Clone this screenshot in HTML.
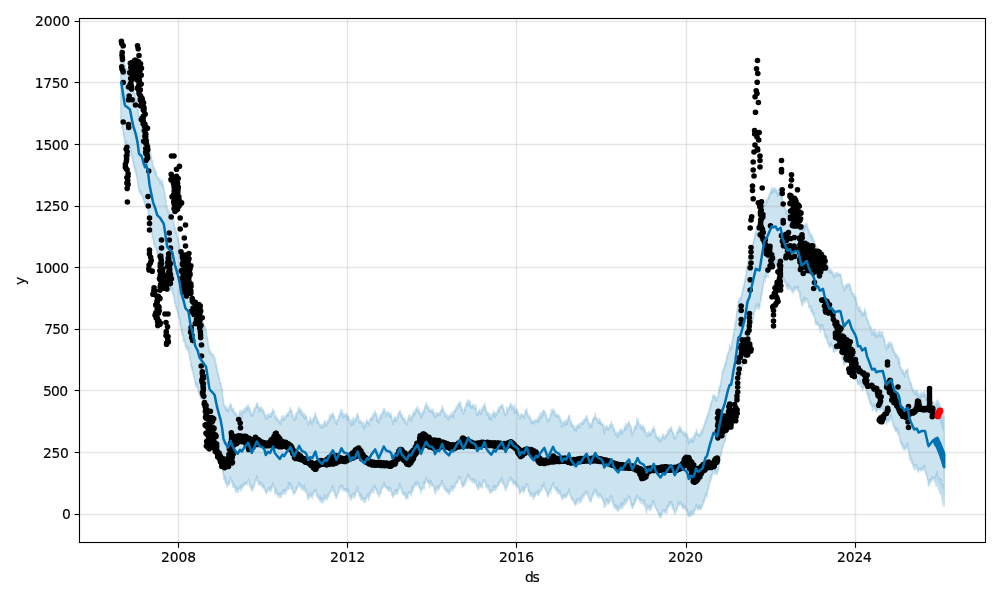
<!DOCTYPE html>
<html><head><meta charset="utf-8"><title>forecast</title>
<style>
html,body{margin:0;padding:0;background:#fff;}
svg{display:block}
text{font-family:"DejaVu Sans","Liberation Sans",sans-serif;font-size:13.89px;fill:#000;stroke:#000;stroke-width:0.15px}
.t{letter-spacing:-0.45px}
.tx{letter-spacing:-0.2px}
.ds{letter-spacing:-1px}
</style></head>
<body>
<svg width="1000" height="600" viewBox="0 0 1000 600">
<rect width="1000" height="600" fill="#fff"/>
<defs><clipPath id="c"><rect x="79.5" y="18.5" width="906.0" height="524.0"/></clipPath></defs>
<g clip-path="url(#c)">
<path d="M120.80,44.7 120.97,45.5 121.13,45.1 121.30,44.6 121.47,46.0 121.64,46.3 121.80,48.9 121.97,52.0 122.14,50.3 122.30,51.3 122.47,54.0 122.64,54.9 122.80,55.7 122.97,55.2 123.14,57.7 123.31,59.9 123.47,58.0 123.64,60.3 123.81,59.1 123.97,61.0 124.14,61.2 124.31,64.6 124.47,64.1 124.64,67.4 124.81,68.2 124.98,68.4 125.14,65.0 125.31,68.1 125.48,69.0 125.64,69.4 125.81,67.0 125.98,68.7 126.14,68.1 126.31,68.5 126.48,71.4 126.65,68.7 126.81,70.0 126.98,71.5 127.15,69.4 127.31,70.2 127.48,70.7 127.65,70.8 127.81,69.0 127.98,71.0 128.15,73.1 128.32,68.9 128.48,72.6 128.65,71.6 128.82,70.6 128.98,74.7 129.15,73.0 129.32,70.3 129.48,72.4 129.65,73.3 129.82,72.4 129.99,73.9 130.15,73.5 130.32,75.5 130.49,77.5 130.65,75.2 130.82,77.5 130.99,77.4 131.15,79.2 131.32,78.1 131.49,79.9 131.66,81.3 131.82,83.8 131.99,85.0 132.16,82.2 132.32,83.8 132.49,86.8 132.66,83.6 132.82,86.6 132.99,87.8 133.16,90.5 133.33,90.3 133.49,89.4 133.66,89.9 133.83,90.6 133.99,93.8 134.16,91.4 134.33,92.2 134.49,93.7 134.66,93.5 134.83,93.9 135.00,93.1 135.16,95.3 135.33,95.2 135.50,98.2 135.66,97.9 135.83,97.5 136.00,99.1 136.16,98.4 136.33,101.3 136.50,100.6 136.67,102.3 136.83,100.3 137.00,103.6 137.17,101.4 137.33,101.7 137.50,105.1 137.67,105.3 137.83,108.2 138.00,112.6 138.17,109.3 138.34,110.9 138.50,113.5 138.67,115.2 138.84,115.5 139.00,116.2 139.17,117.9 139.34,117.9 139.50,115.9 139.67,117.7 139.84,118.0 140.01,116.4 140.17,118.5 140.34,116.9 140.51,119.7 140.67,118.6 140.84,118.5 141.01,117.6 141.17,118.4 141.34,116.0 141.51,117.8 141.68,120.4 141.84,117.1 142.01,122.0 142.18,118.6 142.34,122.8 142.51,120.8 142.68,123.7 142.84,123.6 143.01,122.1 143.18,127.1 143.35,127.9 143.51,126.1 143.68,126.2 143.85,126.9 144.01,126.2 144.18,129.7 144.35,127.8 144.51,129.0 144.68,128.3 144.85,129.1 145.02,128.5 145.18,131.9 145.35,129.5 145.52,130.8 145.68,129.0 145.85,127.5 146.02,127.7 146.18,127.0 146.35,128.5 146.52,128.5 146.69,129.3 146.85,128.3 147.02,129.8 147.19,134.2 147.35,131.4 147.52,131.5 147.69,134.2 147.85,136.5 148.02,133.0 148.19,136.4 148.36,137.2 148.52,136.9 148.69,142.1 148.86,142.4 149.02,143.9 149.19,144.1 149.36,147.4 149.52,147.2 149.69,148.7 149.86,148.1 150.03,148.8 150.19,153.4 150.36,151.5 150.53,153.5 150.69,153.8 150.86,154.0 151.03,154.7 151.19,157.2 151.36,156.7 151.53,157.7 151.70,158.8 151.86,161.3 152.03,161.4 152.20,161.7 152.36,161.1 152.53,160.7 152.70,165.2 152.86,166.2 153.03,165.2 153.20,166.7 153.37,167.5 153.53,168.1 153.70,168.6 153.87,167.0 154.03,170.5 154.20,166.8 154.37,170.4 154.53,170.3 154.70,171.3 154.87,173.3 155.04,173.2 155.20,169.7 155.37,169.3 155.54,173.6 155.70,171.4 155.87,173.6 156.04,175.4 156.20,172.3 156.37,172.2 156.54,176.4 156.71,176.6 156.87,176.8 157.04,177.8 157.21,177.0 157.37,176.2 157.54,178.4 157.71,177.3 157.87,176.5 158.04,179.9 158.21,179.2 158.38,180.0 158.54,178.1 158.71,178.8 158.88,178.4 159.04,178.7 159.21,180.5 159.38,179.2 159.54,181.1 159.71,181.2 159.88,183.9 160.05,179.0 160.21,182.7 160.38,181.5 160.55,181.8 160.71,179.9 160.88,181.7 161.05,183.8 161.21,182.8 161.38,183.3 161.55,183.0 161.72,185.5 161.88,184.0 162.05,181.0 162.22,183.5 162.38,181.8 162.55,180.2 162.72,184.5 162.88,187.6 163.05,185.9 163.22,184.4 163.39,185.0 163.55,188.4 163.72,187.3 163.89,188.1 164.05,188.9 164.22,190.0 164.39,192.1 164.55,192.7 164.72,193.4 164.89,192.6 165.06,196.1 165.22,195.4 165.39,199.2 165.56,196.8 165.72,199.7 165.89,201.0 166.06,200.2 166.22,205.9 166.39,206.6 166.56,204.9 166.73,207.9 166.89,208.4 167.06,205.1 167.23,210.4 167.39,210.3 167.56,210.7 167.73,209.1 167.89,210.5 168.06,210.8 168.23,213.0 168.40,211.9 168.56,211.6 168.73,214.0 168.90,211.1 169.06,211.5 169.23,209.5 169.40,214.8 169.56,214.0 169.73,214.1 169.90,213.9 170.07,213.3 170.23,213.6 170.40,213.1 170.57,213.3 170.73,213.9 170.90,216.3 171.07,215.0 171.23,214.3 171.40,213.7 171.57,213.8 171.74,217.3 171.90,215.8 172.07,215.3 172.24,214.9 172.40,214.2 172.57,216.7 172.74,218.9 172.90,217.9 173.07,219.0 173.24,219.9 173.41,221.2 173.57,219.5 173.74,222.3 173.91,222.1 174.07,225.5 174.24,223.8 174.41,226.6 174.57,228.8 174.74,226.8 174.91,227.1 175.08,228.9 175.24,229.2 175.41,228.2 175.58,231.0 175.74,233.9 175.91,231.1 176.08,231.7 176.24,231.0 176.41,233.7 176.58,231.9 176.75,232.7 176.91,236.9 177.08,234.2 177.25,237.8 177.41,239.1 177.58,237.8 177.75,238.8 177.91,241.5 178.08,238.9 178.25,238.9 178.42,238.5 178.58,241.3 178.75,244.3 178.92,244.2 179.08,242.1 179.25,243.0 179.42,244.3 179.58,246.2 179.75,246.2 179.92,247.8 180.09,249.2 180.25,249.5 180.42,251.1 180.59,252.7 180.75,253.4 180.92,255.5 181.09,258.8 181.25,257.8 181.42,257.3 181.59,254.9 181.76,258.4 181.92,255.5 182.09,256.9 182.26,260.9 182.42,261.3 182.59,260.6 182.76,258.8 182.92,261.4 183.09,261.6 183.26,264.0 183.43,266.8 183.59,264.3 183.76,263.5 183.93,263.6 184.09,265.9 184.26,266.4 184.43,265.6 184.59,268.2 184.76,266.9 184.93,271.0 185.10,271.6 185.26,272.3 185.43,270.6 185.60,272.3 185.76,271.5 185.93,271.3 186.10,271.6 186.26,270.3 186.43,270.3 186.60,273.8 186.77,272.5 186.93,273.3 187.10,274.7 187.27,270.8 187.43,272.4 187.60,274.0 187.77,274.5 187.93,273.6 188.10,275.9 188.27,274.8 188.44,272.9 188.60,274.1 188.77,277.8 188.94,278.4 189.10,276.0 189.27,281.9 189.44,281.9 189.60,284.1 189.77,282.6 189.94,283.8 190.11,283.6 190.27,290.2 190.44,287.0 190.61,290.4 190.77,287.7 190.94,289.7 191.11,287.6 191.27,290.2 191.44,293.0 191.61,290.3 191.78,294.5 191.94,294.1 192.11,292.8 192.28,294.3 192.44,295.0 192.61,296.3 192.78,296.2 192.94,296.4 193.11,298.0 193.28,297.7 193.45,298.2 193.61,300.9 193.78,303.1 193.95,300.3 194.11,303.4 194.28,303.3 194.45,303.6 194.61,307.2 194.78,306.0 194.95,309.9 195.12,307.3 195.28,309.8 195.45,309.2 195.62,308.7 195.78,311.1 195.95,310.3 196.12,311.8 196.28,311.1 196.45,309.9 196.62,311.7 196.79,312.3 196.95,314.0 197.12,311.5 197.29,313.2 197.45,311.0 197.62,314.8 197.79,312.4 197.95,312.0 198.12,315.2 198.29,317.6 198.46,314.3 198.62,315.7 198.79,316.8 198.96,316.9 199.12,319.8 199.29,318.7 199.46,319.5 199.62,321.8 199.79,320.0 199.96,322.0 200.13,320.2 200.29,320.1 200.46,319.4 200.63,325.2 200.79,322.1 200.96,323.2 201.13,323.1 201.29,323.6 201.46,323.7 201.63,326.7 201.80,322.5 201.96,322.0 202.13,323.0 202.30,322.7 202.46,326.0 202.63,326.4 202.80,323.9 202.96,323.5 203.13,325.3 203.30,328.2 203.47,322.1 203.63,327.3 203.80,325.2 203.97,328.6 204.13,325.6 204.30,327.0 204.47,325.5 204.63,326.5 204.80,330.3 204.97,329.6 205.14,328.0 205.30,327.6 205.47,326.3 205.64,328.8 205.80,329.5 205.97,329.7 206.14,330.5 206.30,329.9 206.47,332.4 206.64,333.5 206.81,336.6 206.97,338.6 207.14,336.7 207.31,336.8 207.47,339.0 207.64,339.3 207.81,340.1 207.97,342.3 208.14,341.9 208.31,345.5 208.48,345.5 208.64,347.1 208.81,347.6 208.98,347.9 209.14,348.6 209.31,350.8 209.48,351.4 209.64,352.9 209.81,352.7 209.98,350.9 210.15,353.2 210.31,351.3 210.48,352.5 210.65,353.2 210.81,350.7 210.98,354.1 211.15,354.4 211.31,354.1 211.48,353.9 211.65,354.2 211.82,353.4 211.98,354.7 212.15,354.4 212.32,355.6 212.48,353.9 212.65,356.2 212.82,356.3 212.98,356.0 213.15,355.8 213.32,357.5 213.49,354.3 213.65,357.7 213.82,357.6 213.99,357.8 214.15,358.2 214.32,356.8 214.49,357.6 214.65,359.2 214.82,359.8 214.99,360.3 215.16,358.6 215.32,362.5 215.49,364.3 215.66,365.0 215.82,364.7 215.99,362.8 216.16,367.3 216.32,366.5 216.49,363.7 216.66,368.9 216.83,366.9 216.99,368.0 217.16,369.8 217.33,373.2 217.49,371.3 217.66,372.9 217.83,375.7 217.99,376.1 218.16,374.1 218.33,374.5 218.50,373.6 218.66,375.0 218.83,377.3 219.00,377.9 219.16,378.0 219.33,380.0 219.50,377.9 219.66,379.6 219.83,381.4 220.00,381.7 220.17,383.1 220.33,382.7 220.50,382.3 220.67,384.2 220.83,383.0 221.00,382.9 221.17,387.1 221.33,387.0 221.50,388.5 221.67,386.3 221.84,389.2 222.00,389.7 222.17,390.3 222.34,389.5 222.50,393.7 222.67,396.9 222.84,397.5 223.00,397.3 223.17,399.5 223.34,402.0 223.51,398.1 223.67,402.4 223.84,403.8 224.01,404.4 224.17,406.3 224.34,405.8 224.51,405.0 224.67,405.5 224.84,406.7 225.01,405.3 225.18,406.5 225.34,408.0 225.51,409.6 225.68,406.4 225.84,406.8 226.01,407.5 226.18,409.5 226.34,407.8 226.51,410.4 226.68,407.1 226.85,408.7 227.01,409.0 227.18,410.8 227.35,411.6 227.51,408.1 227.68,409.3 227.85,411.2 228.01,409.6 228.18,408.1 228.35,411.6 228.52,410.4 228.68,410.0 228.85,408.1 229.02,409.9 229.18,407.6 229.35,409.2 229.52,405.8 229.68,405.5 229.85,406.6 230.02,404.9 230.19,406.5 230.35,405.5 230.52,403.3 230.69,404.4 230.85,403.8 231.02,406.2 231.19,404.5 231.35,405.4 231.52,408.4 231.69,410.6 231.86,410.8 232.02,407.6 232.19,408.5 232.36,411.1 232.52,409.2 232.69,408.5 232.86,410.4 233.02,411.1 233.19,409.5 233.36,408.5 233.53,409.1 233.69,412.5 233.86,410.6 234.03,411.8 234.19,412.6 234.36,413.5 234.53,412.3 234.69,413.9 234.86,412.0 235.03,413.0 235.20,412.3 235.36,415.7 235.53,414.2 235.70,413.4 235.86,414.2 236.03,414.6 236.20,416.2 236.36,413.0 236.53,414.1 236.70,415.3 236.87,419.9 237.03,417.8 237.20,416.4 237.37,417.9 237.53,420.1 237.70,416.4 237.87,416.0 238.03,418.1 238.20,416.7 238.37,416.7 238.54,414.7 238.70,418.1 238.87,417.5 239.04,415.5 239.20,415.4 239.37,411.0 239.54,414.8 239.70,413.2 239.87,413.9 240.04,414.0 240.21,412.5 240.37,410.7 240.54,413.9 240.71,412.5 240.87,413.3 241.04,413.0 241.21,413.6 241.37,410.8 241.54,416.3 241.71,415.0 241.88,416.2 242.04,417.3 242.21,414.1 242.38,411.1 242.54,412.2 242.71,411.4 242.88,412.2 243.04,412.8 243.21,409.5 243.38,412.7 243.55,409.7 243.71,412.1 243.88,411.2 244.05,410.7 244.21,410.8 244.38,409.8 244.55,409.4 244.71,407.6 244.88,409.9 245.05,412.5 245.22,412.5 245.38,411.3 245.55,410.2 245.72,408.0 245.88,410.9 246.05,408.5 246.22,408.3 246.38,407.8 246.55,408.1 246.72,407.2 246.89,407.5 247.05,405.8 247.22,406.7 247.39,410.5 247.55,406.7 247.72,406.3 247.89,407.2 248.05,407.3 248.22,404.4 248.39,405.9 248.56,408.1 248.72,407.6 248.89,407.9 249.06,410.5 249.22,407.7 249.39,409.3 249.56,408.9 249.72,412.4 249.89,407.7 250.06,410.1 250.23,410.8 250.39,413.1 250.56,413.5 250.73,415.2 250.89,411.2 251.06,415.2 251.23,414.1 251.39,414.0 251.56,416.3 251.73,414.5 251.90,412.8 252.06,414.9 252.23,412.9 252.40,413.8 252.56,414.9 252.73,414.4 252.90,416.0 253.06,412.9 253.23,410.5 253.40,411.3 253.57,410.7 253.73,409.8 253.90,411.9 254.07,409.9 254.23,407.5 254.40,411.2 254.57,409.6 254.73,409.9 254.90,409.2 255.07,409.6 255.24,408.3 255.40,409.8 255.57,408.2 255.74,407.7 255.90,407.4 256.07,404.2 256.24,405.8 256.40,405.3 256.57,405.6 256.74,402.9 256.91,407.0 257.07,405.0 257.24,403.4 257.41,403.0 257.57,405.5 257.74,406.1 257.91,405.5 258.07,407.1 258.24,406.3 258.41,408.3 258.58,406.7 258.74,408.0 258.91,409.8 259.08,412.5 259.24,407.4 259.41,408.5 259.58,408.0 259.74,410.6 259.91,407.7 260.08,408.8 260.25,409.6 260.41,408.2 260.58,408.3 260.75,409.1 260.91,406.7 261.08,407.8 261.25,409.4 261.41,410.3 261.58,409.9 261.75,407.6 261.92,409.6 262.08,411.5 262.25,411.2 262.42,410.4 262.58,409.2 262.75,411.5 262.92,409.9 263.08,409.2 263.25,410.0 263.42,413.6 263.59,411.9 263.75,413.6 263.92,411.3 264.09,413.7 264.25,411.6 264.42,412.5 264.59,417.0 264.75,415.1 264.92,413.9 265.09,415.2 265.26,416.5 265.42,418.5 265.59,416.6 265.76,415.4 265.92,417.6 266.09,417.8 266.26,417.7 266.42,419.2 266.59,417.4 266.76,417.9 266.93,414.8 267.09,417.5 267.26,419.1 267.43,416.9 267.59,415.9 267.76,415.5 267.93,417.7 268.09,413.5 268.26,414.8 268.43,415.8 268.60,416.3 268.76,414.7 268.93,415.9 269.10,415.2 269.26,415.9 269.43,415.6 269.60,414.2 269.76,416.0 269.93,417.5 270.10,414.7 270.27,415.4 270.43,416.4 270.60,413.4 270.77,414.9 270.93,412.7 271.10,415.6 271.27,417.0 271.43,416.2 271.60,412.5 271.77,413.6 271.94,412.3 272.10,411.9 272.27,413.7 272.44,409.0 272.60,412.2 272.77,410.2 272.94,412.0 273.10,410.0 273.27,409.3 273.44,411.4 273.61,412.7 273.77,412.2 273.94,413.5 274.11,412.6 274.27,410.7 274.44,415.9 274.61,416.2 274.77,416.0 274.94,416.4 275.11,418.1 275.28,416.1 275.44,415.9 275.61,416.9 275.78,419.2 275.94,415.5 276.11,419.6 276.28,417.1 276.44,416.6 276.61,420.3 276.78,418.5 276.95,416.9 277.11,418.5 277.28,420.6 277.45,421.2 277.61,419.0 277.78,420.4 277.95,421.1 278.11,419.2 278.28,420.9 278.45,420.5 278.62,420.0 278.78,420.2 278.95,421.3 279.12,421.4 279.28,420.7 279.45,421.1 279.62,423.6 279.78,422.5 279.95,423.4 280.12,423.6 280.29,422.4 280.45,424.6 280.62,419.6 280.79,421.8 280.95,419.8 281.12,422.8 281.29,422.3 281.45,416.5 281.62,417.7 281.79,419.8 281.96,419.7 282.12,419.4 282.29,417.9 282.46,418.6 282.62,419.0 282.79,418.1 282.96,419.9 283.12,415.1 283.29,419.6 283.46,417.3 283.63,420.4 283.79,418.8 283.96,418.0 284.13,419.9 284.29,417.7 284.46,417.4 284.63,416.2 284.79,418.2 284.96,418.7 285.13,419.2 285.30,417.2 285.46,418.7 285.63,416.9 285.80,416.5 285.96,417.2 286.13,417.6 286.30,415.3 286.46,415.1 286.63,415.0 286.80,415.1 286.97,413.3 287.13,416.0 287.30,413.7 287.47,414.8 287.63,412.6 287.80,414.2 287.97,414.1 288.13,412.6 288.30,416.1 288.47,413.4 288.64,415.3 288.80,413.9 288.97,411.3 289.14,411.5 289.30,412.5 289.47,411.7 289.64,411.5 289.80,410.8 289.97,408.3 290.14,410.5 290.31,407.3 290.47,411.0 290.64,409.3 290.81,409.8 290.97,411.0 291.14,412.2 291.31,410.1 291.47,410.1 291.64,411.5 291.81,410.5 291.98,412.6 292.14,416.9 292.31,413.4 292.48,416.4 292.64,413.8 292.81,416.8 292.98,416.3 293.14,417.1 293.31,418.5 293.48,420.8 293.65,418.9 293.81,419.2 293.98,418.0 294.15,420.6 294.31,419.0 294.48,420.2 294.65,418.5 294.81,420.9 294.98,414.9 295.15,417.1 295.32,418.5 295.48,416.3 295.65,415.3 295.82,415.7 295.98,413.7 296.15,415.6 296.32,418.7 296.48,416.4 296.65,412.7 296.82,412.7 296.99,413.0 297.15,414.8 297.32,411.7 297.49,411.6 297.65,413.6 297.82,413.2 297.99,411.0 298.15,409.5 298.32,408.6 298.49,409.5 298.66,406.8 298.82,411.0 298.99,408.6 299.16,409.9 299.32,412.1 299.49,411.4 299.66,408.3 299.82,411.6 299.99,412.4 300.16,409.9 300.33,410.0 300.49,411.6 300.66,409.6 300.83,414.5 300.99,409.0 301.16,411.2 301.33,412.8 301.49,413.1 301.66,414.0 301.83,414.4 302.00,413.7 302.16,415.9 302.33,411.0 302.50,414.3 302.66,413.3 302.83,414.7 303.00,414.9 303.16,413.3 303.33,413.8 303.50,416.1 303.67,415.5 303.83,414.0 304.00,418.1 304.17,418.6 304.33,413.0 304.50,415.8 304.67,419.2 304.83,416.7 305.00,415.9 305.17,415.4 305.34,415.1 305.50,415.8 305.67,415.5 305.84,417.7 306.00,416.2 306.17,416.4 306.34,415.5 306.50,417.5 306.67,416.4 306.84,418.0 307.01,420.5 307.17,420.2 307.34,421.1 307.51,421.6 307.67,421.8 307.84,422.2 308.01,422.7 308.17,424.5 308.34,421.5 308.51,424.9 308.68,422.7 308.84,421.3 309.01,421.4 309.18,420.9 309.34,421.9 309.51,420.3 309.68,422.8 309.84,419.7 310.01,417.2 310.18,419.3 310.35,417.1 310.51,420.2 310.68,421.9 310.85,421.4 311.01,418.6 311.18,419.5 311.35,423.5 311.51,421.4 311.68,421.0 311.85,422.7 312.02,424.9 312.18,423.3 312.35,421.6 312.52,421.6 312.68,421.6 312.85,419.4 313.02,418.4 313.18,419.7 313.35,417.8 313.52,418.8 313.69,418.6 313.85,421.6 314.02,416.5 314.19,417.2 314.35,416.8 314.52,417.3 314.69,417.8 314.85,415.2 315.02,414.3 315.19,412.7 315.36,413.4 315.52,416.1 315.69,416.0 315.86,415.0 316.02,416.5 316.19,417.8 316.36,419.1 316.52,418.0 316.69,419.2 316.86,417.4 317.03,419.0 317.19,423.8 317.36,418.4 317.53,421.4 317.69,422.5 317.86,421.8 318.03,421.4 318.19,422.7 318.36,423.0 318.53,423.2 318.70,420.7 318.86,423.5 319.03,422.7 319.20,423.4 319.36,424.7 319.53,425.5 319.70,426.0 319.86,424.1 320.03,426.4 320.20,427.0 320.37,427.1 320.53,427.6 320.70,425.5 320.87,425.6 321.03,427.3 321.20,424.2 321.37,426.7 321.53,425.8 321.70,426.2 321.87,424.3 322.04,425.8 322.20,427.1 322.37,428.2 322.54,428.0 322.70,426.1 322.87,425.7 323.04,424.4 323.20,426.0 323.37,424.7 323.54,425.7 323.71,427.1 323.87,424.1 324.04,421.6 324.21,422.3 324.37,421.1 324.54,421.2 324.71,424.7 324.87,423.3 325.04,420.8 325.21,424.2 325.38,425.3 325.54,423.0 325.71,422.7 325.88,423.3 326.04,424.4 326.21,425.1 326.38,426.1 326.54,425.8 326.71,425.5 326.88,425.5 327.05,424.2 327.21,420.6 327.38,422.4 327.55,422.8 327.71,421.5 327.88,423.1 328.05,420.9 328.21,419.8 328.38,423.0 328.55,421.5 328.72,420.5 328.88,421.3 329.05,421.2 329.22,419.8 329.38,415.3 329.55,417.7 329.72,417.8 329.88,416.8 330.05,418.3 330.22,419.5 330.39,416.7 330.55,415.5 330.72,419.9 330.89,416.0 331.05,414.5 331.22,416.5 331.39,416.5 331.55,414.5 331.72,416.5 331.89,414.3 332.06,413.4 332.22,414.8 332.39,415.4 332.56,413.0 332.72,414.2 332.89,413.3 333.06,418.1 333.22,413.3 333.39,416.8 333.56,415.1 333.73,415.4 333.89,417.1 334.06,417.8 334.23,418.8 334.39,417.8 334.56,416.8 334.73,417.3 334.89,419.4 335.06,420.0 335.23,421.7 335.40,420.7 335.56,422.2 335.73,423.3 335.90,421.8 336.06,419.8 336.23,420.7 336.40,420.8 336.56,425.0 336.73,421.0 336.90,423.8 337.07,422.4 337.23,423.7 337.40,422.3 337.57,420.2 337.73,419.7 337.90,419.7 338.07,419.5 338.23,418.0 338.40,418.4 338.57,420.5 338.74,415.1 338.90,417.7 339.07,415.6 339.24,416.8 339.40,417.4 339.57,415.7 339.74,416.6 339.90,412.7 340.07,416.3 340.24,413.4 340.41,414.9 340.57,413.8 340.74,409.3 340.91,411.7 341.07,412.8 341.24,414.4 341.41,412.1 341.57,411.9 341.74,409.8 341.91,414.3 342.08,415.2 342.24,412.9 342.41,412.8 342.58,411.0 342.74,415.1 342.91,418.1 343.08,415.4 343.24,416.4 343.41,415.6 343.58,413.5 343.75,417.3 343.91,413.7 344.08,415.4 344.25,416.2 344.41,417.2 344.58,416.5 344.75,416.5 344.91,414.8 345.08,414.1 345.25,416.2 345.42,415.1 345.58,414.2 345.75,414.3 345.92,415.5 346.08,413.6 346.25,414.4 346.42,414.0 346.58,416.8 346.75,417.1 346.92,419.6 347.09,414.4 347.25,415.7 347.42,418.1 347.59,416.6 347.75,416.6 347.92,419.9 348.09,417.0 348.25,416.0 348.42,416.0 348.59,418.7 348.76,418.9 348.92,416.6 349.09,417.5 349.26,420.4 349.42,421.2 349.59,420.0 349.76,422.6 349.92,423.2 350.09,420.3 350.26,423.2 350.43,424.8 350.59,423.0 350.76,420.4 350.93,422.9 351.09,424.2 351.26,425.1 351.43,419.2 351.59,426.1 351.76,420.3 351.93,423.1 352.10,423.3 352.26,422.6 352.43,421.1 352.60,418.9 352.76,421.5 352.93,419.6 353.10,417.0 353.26,425.1 353.43,422.0 353.60,423.8 353.77,419.8 353.93,423.5 354.10,423.8 354.27,423.8 354.43,421.5 354.60,419.9 354.77,421.1 354.93,417.6 355.10,418.0 355.27,420.3 355.44,418.3 355.60,419.2 355.77,418.8 355.94,421.5 356.10,420.2 356.27,417.8 356.44,419.3 356.60,415.9 356.77,416.2 356.94,417.7 357.11,414.1 357.27,415.1 357.44,413.2 357.61,414.9 357.77,417.4 357.94,414.5 358.11,416.5 358.27,415.4 358.44,415.6 358.61,416.1 358.78,420.7 358.94,422.6 359.11,420.4 359.28,419.2 359.44,421.9 359.61,420.8 359.78,422.7 359.94,422.1 360.11,422.3 360.28,423.0 360.45,421.4 360.61,421.8 360.78,420.1 360.95,422.2 361.11,420.9 361.28,423.1 361.45,422.1 361.61,423.9 361.78,424.6 361.95,421.9 362.12,423.0 362.28,423.0 362.45,425.7 362.62,427.3 362.78,426.2 362.95,424.6 363.12,427.5 363.28,423.2 363.45,427.9 363.62,424.8 363.79,421.8 363.95,430.1 364.12,428.7 364.29,424.9 364.45,426.9 364.62,426.0 364.79,426.1 364.95,423.4 365.12,424.3 365.29,425.6 365.46,424.9 365.62,426.1 365.79,424.1 365.96,427.1 366.12,422.2 366.29,423.3 366.46,419.7 366.62,420.4 366.79,423.9 366.96,420.2 367.13,422.4 367.29,421.7 367.46,420.3 367.63,421.5 367.79,421.3 367.96,421.5 368.13,423.5 368.29,423.4 368.46,421.7 368.63,421.3 368.80,422.9 368.96,422.0 369.13,423.4 369.30,425.5 369.46,422.5 369.63,420.9 369.80,420.4 369.96,419.1 370.13,418.7 370.30,418.3 370.47,418.9 370.63,418.5 370.80,420.0 370.97,418.0 371.13,418.0 371.30,416.2 371.47,420.2 371.63,418.2 371.80,419.9 371.97,418.2 372.14,419.0 372.30,416.2 372.47,417.4 372.64,420.1 372.80,414.0 372.97,417.4 373.14,417.9 373.30,415.8 373.47,416.1 373.64,416.6 373.81,413.5 373.97,414.9 374.14,412.7 374.31,412.8 374.47,412.6 374.64,413.1 374.81,413.3 374.97,413.6 375.14,410.5 375.31,415.9 375.48,415.1 375.64,414.9 375.81,413.6 375.98,414.5 376.14,415.9 376.31,416.1 376.48,413.3 376.64,417.5 376.81,421.2 376.98,414.4 377.15,419.2 377.31,418.6 377.48,418.3 377.65,421.0 377.81,417.5 377.98,420.0 378.15,422.5 378.31,420.3 378.48,420.4 378.65,421.7 378.82,420.6 378.98,423.3 379.15,419.1 379.32,421.5 379.48,417.8 379.65,420.4 379.82,418.8 379.98,414.6 380.15,418.2 380.32,416.2 380.49,416.7 380.65,419.4 380.82,414.9 380.99,414.6 381.15,418.1 381.32,415.7 381.49,417.5 381.65,415.3 381.82,413.0 381.99,413.9 382.16,415.5 382.32,414.6 382.49,412.8 382.66,412.5 382.82,411.8 382.99,410.7 383.16,414.2 383.32,410.8 383.49,408.7 383.66,409.3 383.83,410.8 383.99,411.0 384.16,410.1 384.33,409.6 384.49,411.0 384.66,408.7 384.83,409.6 384.99,413.1 385.16,411.4 385.33,413.0 385.50,414.5 385.66,413.9 385.83,413.2 386.00,416.7 386.16,414.7 386.33,413.3 386.50,415.1 386.66,414.6 386.83,412.7 387.00,414.2 387.17,413.9 387.33,411.1 387.50,414.0 387.67,413.8 387.83,413.6 388.00,411.8 388.17,413.8 388.33,414.4 388.50,414.6 388.67,412.8 388.84,415.5 389.00,412.7 389.17,414.3 389.34,416.7 389.50,413.7 389.67,414.0 389.84,416.6 390.00,414.5 390.17,414.8 390.34,415.8 390.51,417.3 390.67,412.5 390.84,414.8 391.01,414.7 391.17,414.8 391.34,415.4 391.51,416.0 391.67,418.4 391.84,417.3 392.01,419.5 392.18,420.6 392.34,419.5 392.51,421.5 392.68,424.4 392.84,422.2 393.01,420.5 393.18,421.0 393.34,419.4 393.51,421.0 393.68,421.6 393.85,418.7 394.01,419.4 394.18,421.1 394.35,418.3 394.51,419.1 394.68,416.9 394.85,416.9 395.01,417.3 395.18,421.4 395.35,417.6 395.52,417.5 395.68,417.5 395.85,418.2 396.02,419.5 396.18,418.8 396.35,421.7 396.52,419.0 396.68,420.9 396.85,419.3 397.02,419.5 397.19,416.1 397.35,417.6 397.52,417.3 397.69,416.6 397.85,413.3 398.02,417.5 398.19,415.2 398.35,414.7 398.52,414.5 398.69,414.2 398.86,414.7 399.02,411.8 399.19,411.9 399.36,413.3 399.52,412.6 399.69,411.4 399.86,410.7 400.02,410.3 400.19,412.0 400.36,414.4 400.53,411.6 400.69,416.1 400.86,415.7 401.03,414.3 401.19,416.7 401.36,413.9 401.53,414.1 401.69,415.3 401.86,417.1 402.03,417.5 402.20,417.4 402.36,418.5 402.53,415.3 402.70,419.5 402.86,416.8 403.03,418.1 403.20,418.7 403.36,417.7 403.53,417.6 403.70,418.4 403.87,420.1 404.03,421.2 404.20,421.3 404.37,419.1 404.53,419.6 404.70,419.6 404.87,421.8 405.03,418.2 405.20,423.3 405.37,420.9 405.54,420.6 405.70,422.5 405.87,423.7 406.04,422.8 406.20,424.0 406.37,422.8 406.54,424.6 406.70,424.8 406.87,422.6 407.04,424.6 407.21,422.3 407.37,421.9 407.54,420.0 407.71,420.6 407.87,421.8 408.04,418.4 408.21,421.0 408.37,420.2 408.54,419.7 408.71,415.6 408.88,418.5 409.04,419.2 409.21,416.8 409.38,418.0 409.54,414.4 409.71,419.1 409.88,417.2 410.04,419.6 410.21,415.6 410.38,419.5 410.55,418.3 410.71,419.9 410.88,417.4 411.05,417.8 411.21,421.8 411.38,416.8 411.55,416.7 411.71,417.0 411.88,415.6 412.05,418.6 412.22,419.0 412.38,415.1 412.55,413.2 412.72,417.3 412.88,416.9 413.05,416.1 413.22,416.3 413.38,412.9 413.55,413.7 413.72,411.5 413.89,411.2 414.05,414.5 414.22,411.8 414.39,416.0 414.55,412.4 414.72,411.1 414.89,413.0 415.05,414.3 415.22,412.1 415.39,409.3 415.56,411.4 415.72,412.7 415.89,409.6 416.06,408.9 416.22,411.4 416.39,409.8 416.56,407.7 416.72,408.5 416.89,407.7 417.06,409.1 417.23,408.5 417.39,409.8 417.56,409.3 417.73,406.3 417.89,409.7 418.06,410.9 418.23,410.6 418.39,411.9 418.56,410.0 418.73,409.8 418.90,413.1 419.06,410.5 419.23,409.3 419.40,414.5 419.56,412.3 419.73,413.4 419.90,412.2 420.06,412.7 420.23,413.4 420.40,415.0 420.57,416.5 420.73,413.0 420.90,418.0 421.07,415.1 421.23,414.9 421.40,417.1 421.57,415.5 421.73,412.9 421.90,417.6 422.07,413.1 422.24,414.4 422.40,413.9 422.57,415.3 422.74,412.1 422.90,413.9 423.07,410.9 423.24,413.3 423.40,410.0 423.57,410.2 423.74,413.2 423.91,410.5 424.07,409.8 424.24,412.6 424.41,409.4 424.57,407.2 424.74,409.1 424.91,405.9 425.07,408.9 425.24,408.7 425.41,405.6 425.58,405.1 425.74,406.0 425.91,405.3 426.08,403.4 426.24,405.9 426.41,402.3 426.58,405.1 426.74,405.4 426.91,406.0 427.08,407.2 427.25,405.2 427.41,408.2 427.58,407.3 427.75,406.9 427.91,406.0 428.08,406.6 428.25,409.1 428.41,407.4 428.58,409.2 428.75,410.8 428.92,410.8 429.08,411.7 429.25,409.0 429.42,407.8 429.58,411.0 429.75,410.0 429.92,411.3 430.08,409.7 430.25,411.5 430.42,411.1 430.59,410.9 430.75,410.6 430.92,410.5 431.09,410.3 431.25,410.3 431.42,411.5 431.59,409.3 431.75,412.7 431.92,410.0 432.09,411.7 432.26,410.3 432.42,410.3 432.59,413.9 432.76,410.6 432.92,409.3 433.09,410.4 433.26,411.2 433.42,415.1 433.59,412.3 433.76,413.9 433.93,411.7 434.09,414.4 434.26,415.5 434.43,417.8 434.59,414.7 434.76,417.3 434.93,417.5 435.09,415.6 435.26,416.8 435.43,416.1 435.60,412.8 435.76,416.8 435.93,416.5 436.10,414.7 436.26,413.1 436.43,417.0 436.60,414.9 436.76,415.7 436.93,416.0 437.10,412.8 437.27,414.6 437.43,413.1 437.60,413.5 437.77,413.5 437.93,413.7 438.10,415.5 438.27,414.1 438.43,413.7 438.60,413.6 438.77,414.6 438.94,412.9 439.10,413.5 439.27,414.1 439.44,413.0 439.60,413.2 439.77,412.1 439.94,415.6 440.10,414.2 440.27,412.5 440.44,411.3 440.61,414.3 440.77,411.0 440.94,410.0 441.11,410.2 441.27,409.8 441.44,411.1 441.61,408.5 441.77,411.3 441.94,406.4 442.11,408.4 442.28,405.5 442.44,410.3 442.61,407.7 442.78,408.6 442.94,410.7 443.11,411.8 443.28,408.8 443.44,410.6 443.61,409.6 443.78,412.5 443.95,412.7 444.11,412.9 444.28,412.7 444.45,413.3 444.61,413.0 444.78,415.1 444.95,416.8 445.11,411.8 445.28,414.7 445.45,414.5 445.62,416.1 445.78,414.1 445.95,415.5 446.12,414.4 446.28,417.1 446.45,416.4 446.62,416.2 446.78,417.1 446.95,416.3 447.12,414.5 447.29,417.9 447.45,417.6 447.62,417.1 447.79,418.9 447.95,419.4 448.12,416.1 448.29,416.7 448.45,420.4 448.62,420.3 448.79,417.2 448.96,416.7 449.12,417.4 449.29,417.3 449.46,415.3 449.62,417.4 449.79,415.1 449.96,414.9 450.12,417.7 450.29,415.0 450.46,415.6 450.63,416.3 450.79,416.2 450.96,414.2 451.13,414.4 451.29,412.8 451.46,416.3 451.63,414.5 451.79,412.0 451.96,413.7 452.13,414.9 452.30,414.7 452.46,416.8 452.63,416.2 452.80,413.5 452.96,414.3 453.13,412.6 453.30,414.9 453.46,414.5 453.63,418.0 453.80,413.7 453.97,410.1 454.13,411.9 454.30,412.8 454.47,410.4 454.63,410.7 454.80,411.1 454.97,411.8 455.13,410.7 455.30,409.3 455.47,411.5 455.64,409.2 455.80,408.9 455.97,407.3 456.14,407.8 456.30,409.7 456.47,406.0 456.64,408.1 456.80,409.0 456.97,407.1 457.14,407.8 457.31,405.5 457.47,408.9 457.64,408.3 457.81,406.7 457.97,403.5 458.14,404.3 458.31,407.0 458.47,407.9 458.64,405.5 458.81,406.7 458.98,403.6 459.14,404.0 459.31,404.0 459.48,404.4 459.64,401.2 459.81,404.8 459.98,405.7 460.14,402.5 460.31,402.6 460.48,405.6 460.65,404.5 460.81,402.4 460.98,407.6 461.15,407.1 461.31,406.5 461.48,410.9 461.65,408.3 461.81,407.4 461.98,409.2 462.15,407.9 462.32,408.7 462.48,410.9 462.65,409.9 462.82,410.5 462.98,414.1 463.15,413.4 463.32,413.6 463.48,412.8 463.65,412.3 463.82,413.4 463.99,410.8 464.15,413.2 464.32,408.6 464.49,409.3 464.65,407.2 464.82,408.4 464.99,409.3 465.15,410.3 465.32,406.7 465.49,407.3 465.66,406.4 465.82,405.5 465.99,404.4 466.16,405.9 466.32,402.8 466.49,405.2 466.66,404.7 466.82,403.3 466.99,402.4 467.16,401.5 467.33,406.0 467.49,400.8 467.66,404.8 467.83,403.0 467.99,401.2 468.16,399.6 468.33,402.5 468.49,403.6 468.66,399.9 468.83,401.2 469.00,403.6 469.16,402.8 469.33,405.7 469.50,402.1 469.66,404.1 469.83,401.7 470.00,407.0 470.16,403.0 470.33,401.1 470.50,404.5 470.67,404.7 470.83,408.1 471.00,404.9 471.17,405.5 471.33,406.5 471.50,408.0 471.67,405.6 471.83,407.3 472.00,406.6 472.17,405.5 472.34,406.1 472.50,406.1 472.67,404.8 472.84,408.0 473.00,404.2 473.17,408.1 473.34,407.8 473.50,406.3 473.67,405.4 473.84,406.3 474.01,407.4 474.17,407.8 474.34,407.2 474.51,408.5 474.67,406.4 474.84,407.8 475.01,405.3 475.17,409.0 475.34,408.3 475.51,407.7 475.68,410.3 475.84,409.8 476.01,405.0 476.18,409.9 476.34,408.4 476.51,412.8 476.68,415.6 476.84,411.8 477.01,413.4 477.18,413.6 477.35,414.8 477.51,415.0 477.68,415.7 477.85,412.0 478.01,415.6 478.18,411.6 478.35,413.1 478.51,414.2 478.68,413.2 478.85,410.5 479.02,410.6 479.18,410.7 479.35,411.0 479.52,412.6 479.68,409.0 479.85,411.7 480.02,412.1 480.18,412.1 480.35,412.0 480.52,413.7 480.69,412.3 480.85,413.0 481.02,412.6 481.19,414.6 481.35,409.1 481.52,414.0 481.69,411.3 481.85,410.9 482.02,409.5 482.19,407.8 482.36,409.6 482.52,408.8 482.69,410.2 482.86,406.8 483.02,410.8 483.19,408.7 483.36,407.5 483.52,406.5 483.69,406.0 483.86,405.1 484.03,405.6 484.19,406.0 484.36,405.4 484.53,403.1 484.69,405.2 484.86,404.9 485.03,407.1 485.19,410.2 485.36,409.0 485.53,408.2 485.70,406.8 485.86,407.7 486.03,407.9 486.20,412.2 486.36,410.5 486.53,412.2 486.70,411.4 486.86,412.7 487.03,414.9 487.20,412.0 487.37,412.7 487.53,412.3 487.70,415.0 487.87,412.4 488.03,412.5 488.20,412.3 488.37,412.5 488.53,415.6 488.70,418.9 488.87,413.7 489.04,416.8 489.20,416.0 489.37,414.1 489.54,415.5 489.70,415.8 489.87,415.3 490.04,419.4 490.20,413.8 490.37,417.4 490.54,417.5 490.71,416.3 490.87,417.6 491.04,418.9 491.21,418.0 491.37,418.5 491.54,418.6 491.71,414.2 491.87,419.1 492.04,420.0 492.21,417.8 492.38,417.5 492.54,413.6 492.71,415.2 492.88,413.9 493.04,413.9 493.21,415.9 493.38,413.0 493.54,413.7 493.71,410.7 493.88,413.1 494.05,413.6 494.21,412.6 494.38,412.7 494.55,416.7 494.71,412.2 494.88,412.6 495.05,413.1 495.21,416.3 495.38,417.8 495.55,415.3 495.72,413.5 495.88,413.6 496.05,415.6 496.22,412.3 496.38,415.6 496.55,415.2 496.72,412.9 496.88,413.5 497.05,413.4 497.22,414.3 497.39,410.1 497.55,413.1 497.72,410.5 497.89,409.6 498.05,410.7 498.22,409.9 498.39,408.5 498.55,407.3 498.72,408.1 498.89,411.4 499.06,412.0 499.22,409.8 499.39,410.4 499.56,407.6 499.72,408.1 499.89,408.4 500.06,406.1 500.22,406.0 500.39,407.4 500.56,406.6 500.73,405.3 500.89,407.2 501.06,406.1 501.23,407.8 501.39,406.0 501.56,405.4 501.73,405.8 501.89,405.2 502.06,404.2 502.23,405.0 502.40,407.3 502.56,407.6 502.73,409.0 502.90,405.0 503.06,407.5 503.23,407.9 503.40,409.3 503.56,408.8 503.73,409.2 503.90,411.7 504.07,411.2 504.23,409.7 504.40,413.9 504.57,413.9 504.73,412.0 504.90,414.6 505.07,412.8 505.23,416.0 505.40,414.5 505.57,414.1 505.74,414.4 505.90,413.4 506.07,414.5 506.24,414.1 506.40,413.5 506.57,412.2 506.74,407.2 506.90,412.4 507.07,409.0 507.24,411.9 507.41,412.8 507.57,411.1 507.74,409.7 507.91,409.7 508.07,409.4 508.24,408.4 508.41,407.9 508.57,407.1 508.74,409.8 508.91,407.7 509.08,408.7 509.24,406.6 509.41,406.7 509.58,405.9 509.74,406.5 509.91,406.7 510.08,405.4 510.24,403.7 510.41,403.2 510.58,406.4 510.75,403.4 510.91,403.7 511.08,406.7 511.25,406.5 511.41,406.0 511.58,405.0 511.75,409.5 511.91,406.9 512.08,407.5 512.25,406.7 512.42,405.1 512.58,405.5 512.75,408.4 512.92,408.7 513.08,408.1 513.25,407.0 513.42,406.7 513.58,408.4 513.75,406.8 513.92,410.5 514.09,411.0 514.25,413.6 514.42,410.7 514.59,408.6 514.75,408.3 514.92,404.6 515.09,408.9 515.25,409.6 515.42,411.4 515.59,411.0 515.76,411.0 515.92,410.6 516.09,411.3 516.26,412.6 516.42,408.9 516.59,409.9 516.76,408.7 516.92,413.4 517.09,413.2 517.26,412.6 517.43,409.9 517.59,412.2 517.76,411.8 517.93,412.5 518.09,412.4 518.26,413.8 518.43,413.1 518.59,415.6 518.76,415.4 518.93,415.3 519.10,416.3 519.26,416.5 519.43,419.1 519.60,418.1 519.76,418.7 519.93,417.4 520.10,415.5 520.26,418.8 520.43,415.6 520.60,418.0 520.77,417.4 520.93,414.0 521.10,414.8 521.27,415.2 521.43,414.5 521.60,413.7 521.77,416.4 521.93,414.9 522.10,415.9 522.27,414.8 522.44,416.1 522.60,414.6 522.77,415.8 522.94,416.9 523.10,416.2 523.27,415.5 523.44,414.7 523.60,416.7 523.77,417.1 523.94,416.0 524.11,414.8 524.27,416.4 524.44,419.0 524.61,414.5 524.77,415.1 524.94,414.8 525.11,410.0 525.27,413.7 525.44,412.0 525.61,414.8 525.78,412.0 525.94,410.9 526.11,411.3 526.28,411.5 526.44,410.1 526.61,410.5 526.78,408.2 526.94,410.0 527.11,412.1 527.28,414.6 527.45,413.3 527.61,413.3 527.78,415.3 527.95,415.7 528.11,417.3 528.28,417.0 528.45,415.9 528.61,417.1 528.78,417.4 528.95,417.9 529.12,418.0 529.28,416.8 529.45,415.0 529.62,417.4 529.78,415.6 529.95,419.0 530.12,419.2 530.28,416.9 530.45,420.7 530.62,421.2 530.79,420.3 530.95,422.9 531.12,423.4 531.29,418.9 531.45,422.5 531.62,421.8 531.79,422.0 531.95,422.9 532.12,420.6 532.29,421.0 532.46,420.9 532.62,421.2 532.79,422.4 532.96,420.5 533.12,421.3 533.29,424.0 533.46,423.2 533.62,424.1 533.79,420.4 533.96,421.7 534.13,421.8 534.29,422.4 534.46,421.1 534.63,423.1 534.79,421.3 534.96,421.1 535.13,420.8 535.29,421.6 535.46,419.5 535.63,421.6 535.80,420.3 535.96,419.6 536.13,419.1 536.30,419.9 536.46,420.8 536.63,420.8 536.80,420.1 536.96,421.0 537.13,420.1 537.30,421.9 537.47,420.1 537.63,417.2 537.80,422.5 537.97,420.5 538.13,418.3 538.30,419.5 538.47,418.2 538.63,422.4 538.80,419.7 538.97,416.3 539.14,419.2 539.30,417.5 539.47,420.7 539.64,416.0 539.80,413.9 539.97,417.1 540.14,416.2 540.30,415.8 540.47,412.9 540.64,416.5 540.81,418.1 540.97,412.5 541.14,416.9 541.31,414.1 541.47,418.3 541.64,415.2 541.81,414.0 541.97,415.8 542.14,414.7 542.31,412.8 542.48,414.5 542.64,412.5 542.81,410.4 542.98,415.9 543.14,412.1 543.31,411.5 543.48,412.7 543.64,409.6 543.81,409.7 543.98,410.8 544.15,410.5 544.31,411.2 544.48,413.0 544.65,411.1 544.81,413.0 544.98,413.7 545.15,411.6 545.31,414.1 545.48,412.8 545.65,416.3 545.82,415.9 545.98,415.7 546.15,414.1 546.32,416.8 546.48,416.0 546.65,418.6 546.82,417.9 546.98,417.3 547.15,420.4 547.32,420.6 547.49,419.1 547.65,422.2 547.82,420.5 547.99,420.4 548.15,420.7 548.32,419.0 548.49,419.1 548.65,419.2 548.82,421.3 548.99,420.9 549.16,417.9 549.32,420.4 549.49,417.5 549.66,417.8 549.82,418.2 549.99,416.9 550.16,419.7 550.32,416.1 550.49,413.6 550.66,417.0 550.83,414.0 550.99,413.8 551.16,409.4 551.33,415.1 551.49,414.5 551.66,414.1 551.83,414.0 551.99,414.7 552.16,411.7 552.33,412.8 552.50,410.0 552.66,410.2 552.83,412.0 553.00,410.6 553.16,408.4 553.33,411.3 553.50,410.8 553.66,410.2 553.83,412.4 554.00,411.5 554.17,410.2 554.33,411.2 554.50,415.8 554.67,411.2 554.83,414.1 555.00,414.9 555.17,415.3 555.33,412.8 555.50,414.4 555.67,415.3 555.84,416.4 556.00,414.3 556.17,413.6 556.34,416.9 556.50,417.2 556.67,416.2 556.84,414.8 557.00,416.4 557.17,416.1 557.34,417.3 557.51,414.2 557.67,416.4 557.84,416.1 558.01,414.7 558.17,416.8 558.34,416.6 558.51,416.1 558.67,417.4 558.84,414.7 559.01,416.9 559.18,417.9 559.34,417.9 559.51,419.4 559.68,416.2 559.84,416.0 560.01,418.8 560.18,419.4 560.34,422.1 560.51,420.1 560.68,418.5 560.85,421.7 561.01,419.9 561.18,419.7 561.35,426.5 561.51,423.8 561.68,425.1 561.85,425.6 562.01,427.4 562.18,424.8 562.35,426.0 562.52,422.4 562.68,421.6 562.85,425.6 563.02,425.4 563.18,423.7 563.35,423.0 563.52,422.7 563.68,421.2 563.85,424.3 564.02,422.7 564.19,422.4 564.35,422.3 564.52,423.4 564.69,422.7 564.85,423.2 565.02,420.4 565.19,423.1 565.35,425.7 565.52,421.8 565.69,422.5 565.86,424.1 566.02,424.4 566.19,423.8 566.36,420.0 566.52,422.8 566.69,419.9 566.86,420.1 567.02,421.8 567.19,420.2 567.36,421.5 567.53,424.6 567.69,420.7 567.86,420.2 568.03,417.5 568.19,417.5 568.36,416.5 568.53,416.9 568.69,415.7 568.86,416.0 569.03,416.3 569.20,415.0 569.36,415.0 569.53,415.7 569.70,419.0 569.86,419.1 570.03,421.2 570.20,421.8 570.36,420.4 570.53,422.5 570.70,420.0 570.87,426.2 571.03,425.2 571.20,423.3 571.37,422.1 571.53,424.7 571.70,421.6 571.87,423.5 572.03,426.0 572.20,425.2 572.37,424.6 572.54,427.0 572.70,424.3 572.87,426.5 573.04,425.6 573.20,425.3 573.37,427.4 573.54,425.4 573.70,430.0 573.87,426.4 574.04,430.5 574.21,426.1 574.37,428.8 574.54,426.3 574.71,426.3 574.87,428.7 575.04,429.7 575.21,427.0 575.37,430.8 575.54,428.1 575.71,429.6 575.88,430.2 576.04,430.4 576.21,426.5 576.38,431.3 576.54,429.4 576.71,427.7 576.88,426.5 577.04,425.2 577.21,425.4 577.38,427.9 577.55,426.3 577.71,424.8 577.88,425.4 578.05,428.3 578.21,425.1 578.38,424.4 578.55,427.3 578.71,426.1 578.88,425.6 579.05,424.8 579.22,423.5 579.38,424.3 579.55,425.4 579.72,426.0 579.88,427.0 580.05,427.5 580.22,427.0 580.38,426.7 580.55,424.5 580.72,422.5 580.89,424.7 581.05,423.8 581.22,423.9 581.39,424.2 581.55,422.5 581.72,422.4 581.89,423.6 582.05,423.6 582.22,422.2 582.39,423.6 582.56,422.2 582.72,420.7 582.89,422.0 583.06,424.5 583.22,420.5 583.39,423.0 583.56,423.1 583.72,423.0 583.89,419.3 584.06,423.4 584.23,420.3 584.39,419.5 584.56,419.3 584.73,420.4 584.89,419.3 585.06,418.7 585.23,420.7 585.39,417.5 585.56,416.8 585.73,419.3 585.90,418.9 586.06,419.3 586.23,415.8 586.40,418.8 586.56,417.7 586.73,419.7 586.90,415.6 587.06,418.3 587.23,418.0 587.40,416.6 587.57,418.4 587.73,421.6 587.90,419.7 588.07,419.8 588.23,422.7 588.40,423.4 588.57,423.9 588.73,421.7 588.90,423.3 589.07,425.4 589.24,423.3 589.40,423.7 589.57,426.6 589.74,428.1 589.90,424.6 590.07,422.9 590.24,424.8 590.40,425.1 590.57,426.0 590.74,426.8 590.91,425.2 591.07,424.0 591.24,425.0 591.41,422.9 591.57,423.9 591.74,422.6 591.91,427.3 592.07,424.1 592.24,421.2 592.41,420.6 592.58,421.1 592.74,418.9 592.91,419.9 593.08,419.6 593.24,421.7 593.41,419.3 593.58,418.4 593.74,417.2 593.91,417.1 594.08,418.4 594.25,417.9 594.41,419.5 594.58,416.5 594.75,418.7 594.91,417.1 595.08,416.4 595.25,413.0 595.41,414.2 595.58,417.6 595.75,419.0 595.92,417.5 596.08,418.7 596.25,417.3 596.42,417.7 596.58,417.6 596.75,420.3 596.92,419.7 597.08,419.1 597.25,419.2 597.42,420.8 597.59,420.8 597.75,419.3 597.92,423.3 598.09,421.2 598.25,420.9 598.42,423.2 598.59,422.6 598.75,421.0 598.92,422.1 599.09,419.7 599.26,420.5 599.42,418.1 599.59,423.4 599.76,418.8 599.92,422.8 600.09,420.6 600.26,420.5 600.42,421.7 600.59,422.5 600.76,423.1 600.93,425.0 601.09,422.9 601.26,423.9 601.43,421.9 601.59,424.1 601.76,423.5 601.93,422.9 602.09,423.7 602.26,424.0 602.43,424.6 602.60,425.2 602.76,424.1 602.93,424.2 603.10,427.2 603.26,424.2 603.43,426.6 603.60,430.5 603.76,424.9 603.93,428.6 604.10,431.4 604.27,428.1 604.43,434.3 604.60,426.2 604.77,432.0 604.93,432.0 605.10,430.8 605.27,428.9 605.43,429.5 605.60,427.4 605.77,429.7 605.94,426.6 606.10,427.6 606.27,429.2 606.44,425.9 606.60,427.1 606.77,428.0 606.94,425.9 607.10,429.8 607.27,428.6 607.44,426.0 607.61,428.3 607.77,427.3 607.94,427.6 608.11,428.8 608.27,427.8 608.44,430.3 608.61,427.5 608.77,429.6 608.94,427.7 609.11,428.7 609.28,426.3 609.44,425.9 609.61,424.6 609.78,426.8 609.94,427.0 610.11,428.4 610.28,426.8 610.44,424.9 610.61,423.8 610.78,424.4 610.95,423.4 611.11,425.3 611.28,424.1 611.45,421.1 611.61,421.9 611.78,425.6 611.95,424.6 612.11,424.5 612.28,427.2 612.45,425.5 612.62,426.3 612.78,426.7 612.95,425.0 613.12,429.9 613.28,427.4 613.45,428.7 613.62,428.7 613.78,431.2 613.95,430.2 614.12,430.6 614.29,428.3 614.45,431.0 614.62,429.1 614.79,432.1 614.95,432.4 615.12,432.1 615.29,435.4 615.45,433.4 615.62,433.7 615.79,433.2 615.96,432.9 616.12,434.8 616.29,435.2 616.46,431.8 616.62,435.5 616.79,434.9 616.96,435.8 617.12,435.2 617.29,432.8 617.46,433.1 617.63,437.8 617.79,435.6 617.96,433.3 618.13,436.2 618.29,435.1 618.46,432.6 618.63,431.6 618.79,432.3 618.96,434.8 619.13,434.0 619.30,433.4 619.46,433.9 619.63,434.0 619.80,429.7 619.96,432.1 620.13,431.0 620.30,430.1 620.46,430.8 620.63,431.1 620.80,430.7 620.97,429.0 621.13,430.6 621.30,434.5 621.47,430.0 621.63,429.2 621.80,432.3 621.97,432.9 622.13,432.9 622.30,430.7 622.47,433.9 622.64,431.0 622.80,430.1 622.97,430.6 623.14,431.1 623.30,432.0 623.47,431.6 623.64,430.3 623.80,431.5 623.97,429.9 624.14,430.8 624.31,427.1 624.47,426.6 624.64,429.8 624.81,426.3 624.97,427.6 625.14,427.6 625.31,426.8 625.47,426.6 625.64,429.2 625.81,423.1 625.98,428.0 626.14,429.9 626.31,426.2 626.48,426.0 626.64,426.9 626.81,428.3 626.98,423.6 627.14,425.3 627.31,424.6 627.48,425.5 627.65,424.7 627.81,425.3 627.98,423.4 628.15,423.9 628.31,422.6 628.48,422.4 628.65,423.0 628.81,422.8 628.98,421.1 629.15,425.6 629.32,423.6 629.48,422.2 629.65,426.4 629.82,424.1 629.98,426.4 630.15,426.1 630.32,427.0 630.48,427.4 630.65,426.7 630.82,428.1 630.99,431.6 631.15,425.6 631.32,429.6 631.49,430.6 631.65,428.8 631.82,428.8 631.99,434.6 632.15,431.3 632.32,435.4 632.49,433.5 632.66,432.5 632.82,432.7 632.99,432.6 633.16,433.0 633.32,431.5 633.49,430.7 633.66,430.3 633.82,431.7 633.99,430.5 634.16,427.4 634.33,427.6 634.49,428.7 634.66,426.9 634.83,426.8 634.99,425.6 635.16,426.3 635.33,426.9 635.49,427.4 635.66,425.6 635.83,428.3 636.00,424.7 636.16,429.2 636.33,425.6 636.50,424.5 636.66,422.6 636.83,418.7 637.00,422.4 637.16,422.5 637.33,424.8 637.50,419.4 637.67,424.3 637.83,421.4 638.00,423.2 638.17,418.7 638.33,423.0 638.50,422.6 638.67,424.5 638.83,424.0 639.00,422.4 639.17,425.9 639.34,425.8 639.50,425.9 639.67,426.8 639.84,427.2 640.00,425.8 640.17,424.0 640.34,424.1 640.50,428.3 640.67,427.4 640.84,426.6 641.01,425.8 641.17,426.6 641.34,426.7 641.51,426.2 641.67,425.8 641.84,430.1 642.01,427.3 642.17,426.2 642.34,425.2 642.51,426.1 642.68,428.4 642.84,428.5 643.01,427.2 643.18,427.7 643.34,427.2 643.51,426.1 643.68,430.0 643.84,428.8 644.01,432.2 644.18,427.6 644.35,428.8 644.51,430.6 644.68,429.1 644.85,427.7 645.01,428.6 645.18,430.5 645.35,431.6 645.51,431.7 645.68,434.0 645.85,434.7 646.02,434.4 646.18,434.7 646.35,435.0 646.52,436.7 646.68,437.0 646.85,435.4 647.02,435.8 647.18,434.4 647.35,432.5 647.52,432.8 647.69,435.2 647.85,434.5 648.02,435.9 648.19,433.4 648.35,434.3 648.52,434.8 648.69,434.0 648.85,431.6 649.02,432.4 649.19,433.0 649.36,431.4 649.52,433.7 649.69,434.6 649.86,432.5 650.02,436.3 650.19,433.0 650.36,433.2 650.52,433.3 650.69,432.7 650.86,434.1 651.03,433.1 651.19,435.2 651.36,433.2 651.53,432.7 651.69,431.2 651.86,429.1 652.03,430.7 652.19,429.2 652.36,431.5 652.53,429.6 652.70,431.8 652.86,430.0 653.03,429.8 653.20,428.5 653.36,428.1 653.53,428.4 653.70,428.4 653.86,426.3 654.03,428.7 654.20,432.5 654.37,429.1 654.53,429.4 654.70,429.4 654.87,429.0 655.03,433.6 655.20,432.5 655.37,433.5 655.53,436.5 655.70,437.9 655.87,433.1 656.04,436.3 656.20,435.9 656.37,435.8 656.54,436.2 656.70,435.7 656.87,438.4 657.04,437.2 657.20,437.1 657.37,438.7 657.54,438.4 657.71,438.0 657.87,438.0 658.04,440.4 658.21,438.7 658.37,438.0 658.54,437.1 658.71,438.1 658.87,437.2 659.04,439.2 659.21,439.6 659.38,436.3 659.54,439.7 659.71,440.8 659.88,440.3 660.04,438.8 660.21,442.4 660.38,439.6 660.54,439.0 660.71,438.9 660.88,440.2 661.05,441.4 661.21,441.4 661.38,439.6 661.55,437.2 661.71,437.7 661.88,437.1 662.05,437.8 662.21,435.1 662.38,437.7 662.55,438.2 662.72,436.7 662.88,437.3 663.05,434.9 663.22,434.2 663.38,435.6 663.55,438.5 663.72,438.4 663.88,436.3 664.05,439.0 664.22,436.8 664.39,439.7 664.55,438.3 664.72,437.1 664.89,438.8 665.05,436.1 665.22,435.6 665.39,434.5 665.55,436.8 665.72,436.1 665.89,435.8 666.06,435.0 666.22,437.5 666.39,434.4 666.56,433.7 666.72,436.3 666.89,436.3 667.06,434.4 667.22,431.0 667.39,432.5 667.56,434.0 667.73,432.9 667.89,435.0 668.06,430.4 668.23,433.2 668.39,431.0 668.56,433.8 668.73,431.4 668.89,432.9 669.06,430.2 669.23,428.8 669.40,429.1 669.56,429.6 669.73,428.8 669.90,431.9 670.06,431.9 670.23,430.1 670.40,427.9 670.56,429.1 670.73,428.0 670.90,431.0 671.07,429.1 671.23,429.2 671.40,428.2 671.57,426.2 671.73,428.6 671.90,428.5 672.07,431.2 672.23,431.3 672.40,430.5 672.57,431.6 672.74,435.0 672.90,431.7 673.07,432.2 673.24,433.7 673.40,433.5 673.57,434.4 673.74,436.3 673.90,438.6 674.07,433.8 674.24,436.9 674.41,437.5 674.57,437.8 674.74,438.1 674.91,437.7 675.07,439.3 675.24,436.7 675.41,436.9 675.57,436.7 675.74,436.5 675.91,435.7 676.08,437.1 676.24,435.2 676.41,435.1 676.58,434.4 676.74,432.6 676.91,432.5 677.08,431.8 677.24,433.2 677.41,431.5 677.58,430.6 677.75,432.2 677.91,432.3 678.08,428.5 678.25,433.3 678.41,430.5 678.58,429.9 678.75,431.3 678.91,429.5 679.08,428.1 679.25,431.9 679.42,426.7 679.58,427.8 679.75,428.8 679.92,425.7 680.08,427.5 680.25,428.6 680.42,431.9 680.58,427.4 680.75,429.0 680.92,430.4 681.09,429.9 681.25,428.3 681.42,431.0 681.59,430.8 681.75,431.6 681.92,433.0 682.09,433.1 682.25,432.5 682.42,432.6 682.59,430.6 682.76,432.1 682.92,432.8 683.09,431.9 683.26,432.8 683.42,431.5 683.59,435.1 683.76,436.1 683.92,432.4 684.09,433.7 684.26,432.8 684.43,435.1 684.59,434.0 684.76,433.6 684.93,433.2 685.09,433.8 685.26,432.2 685.43,434.8 685.59,432.9 685.76,434.8 685.93,434.4 686.10,436.1 686.26,434.7 686.43,436.5 686.60,433.8 686.76,436.4 686.93,435.4 687.10,436.3 687.26,436.3 687.43,437.9 687.60,434.2 687.77,438.4 687.93,436.4 688.10,441.2 688.27,437.1 688.43,439.3 688.60,439.0 688.77,444.7 688.93,440.1 689.10,441.9 689.27,440.7 689.44,438.6 689.60,440.6 689.77,441.8 689.94,440.3 690.10,441.7 690.27,439.5 690.44,439.8 690.60,439.0 690.77,439.8 690.94,441.9 691.11,439.6 691.27,439.4 691.44,438.3 691.61,438.2 691.77,441.7 691.94,437.9 692.11,438.3 692.27,439.7 692.44,439.3 692.61,443.0 692.78,436.6 692.94,440.8 693.11,441.2 693.28,438.1 693.44,438.4 693.61,439.7 693.78,441.1 693.94,436.9 694.11,435.6 694.28,439.0 694.45,439.5 694.61,436.4 694.78,433.2 694.95,438.3 695.11,435.3 695.28,436.5 695.45,434.1 695.61,432.9 695.78,432.1 695.95,434.3 696.12,433.9 696.28,428.8 696.45,430.9 696.62,435.3 696.78,432.3 696.95,431.2 697.12,433.5 697.28,433.6 697.45,433.9 697.62,433.6 697.79,434.2 697.95,434.2 698.12,435.3 698.29,433.4 698.45,434.1 698.62,434.3 698.79,436.3 698.95,434.8 699.12,434.0 699.29,434.9 699.46,434.6 699.62,435.5 699.79,434.6 699.96,436.4 700.12,435.5 700.29,433.3 700.46,432.6 700.62,434.4 700.79,433.6 700.96,432.6 701.13,430.3 701.29,429.6 701.46,432.8 701.63,433.2 701.79,433.1 701.96,429.8 702.13,433.2 702.29,430.6 702.46,431.9 702.63,431.8 702.80,429.8 702.96,429.5 703.13,426.6 703.30,427.7 703.46,425.7 703.63,428.4 703.80,427.2 703.96,427.8 704.13,426.4 704.30,424.2 704.47,425.0 704.63,423.3 704.80,424.1 704.97,423.0 705.13,420.4 705.30,421.3 705.47,421.0 705.63,420.2 705.80,421.8 705.97,422.9 706.14,419.5 706.30,419.4 706.47,416.3 706.64,419.3 706.80,418.6 706.97,415.8 707.14,419.0 707.30,418.8 707.47,416.2 707.64,416.1 707.81,414.5 707.97,416.5 708.14,412.4 708.31,413.6 708.47,416.3 708.64,412.8 708.81,412.8 708.97,411.2 709.14,409.0 709.31,410.1 709.48,410.1 709.64,407.3 709.81,408.7 709.98,409.4 710.14,408.6 710.31,404.1 710.48,404.5 710.64,403.0 710.81,406.4 710.98,405.2 711.15,404.8 711.31,401.9 711.48,400.9 711.65,402.3 711.81,401.7 711.98,399.8 712.15,400.7 712.31,400.9 712.48,399.8 712.65,397.3 712.82,395.2 712.98,397.4 713.15,397.5 713.32,396.3 713.48,395.6 713.65,395.0 713.82,397.3 713.98,396.3 714.15,396.7 714.32,395.3 714.49,396.0 714.65,397.4 714.82,395.8 714.99,395.6 715.15,397.2 715.32,399.7 715.49,398.3 715.65,400.4 715.82,398.2 715.99,398.1 716.16,396.7 716.32,398.1 716.49,401.3 716.66,399.8 716.82,400.6 716.99,400.7 717.16,399.4 717.32,398.5 717.49,398.3 717.66,398.3 717.83,397.2 717.99,396.4 718.16,395.1 718.33,392.9 718.49,392.9 718.66,391.0 718.83,393.1 718.99,387.6 719.16,389.7 719.33,392.8 719.50,387.8 719.66,385.9 719.83,386.7 720.00,387.9 720.16,384.9 720.33,385.3 720.50,383.7 720.66,382.3 720.83,387.0 721.00,381.7 721.17,379.9 721.33,378.9 721.50,379.0 721.67,377.9 721.83,377.4 722.00,375.3 722.17,371.8 722.33,374.2 722.50,372.5 722.67,372.1 722.84,369.9 723.00,370.9 723.17,370.2 723.34,370.8 723.50,368.2 723.67,370.0 723.84,369.6 724.00,367.3 724.17,367.5 724.34,366.7 724.51,368.9 724.67,363.2 724.84,365.9 725.01,363.2 725.17,364.4 725.34,365.6 725.51,362.7 725.67,363.2 725.84,361.0 726.01,364.5 726.18,362.3 726.34,361.9 726.51,357.5 726.68,357.2 726.84,359.7 727.01,357.2 727.18,356.4 727.34,356.6 727.51,353.5 727.68,355.8 727.85,354.0 728.01,354.0 728.18,351.7 728.35,352.9 728.51,350.6 728.68,352.5 728.85,352.2 729.01,351.4 729.18,350.3 729.35,349.9 729.52,344.4 729.68,349.3 729.85,347.5 730.02,348.1 730.18,347.6 730.35,345.9 730.52,347.2 730.68,349.1 730.85,350.2 731.02,347.2 731.19,346.2 731.35,348.8 731.52,344.4 731.69,347.9 731.85,343.9 732.02,341.6 732.19,343.5 732.35,343.7 732.52,338.0 732.69,341.3 732.86,337.4 733.02,338.8 733.19,334.9 733.36,332.0 733.52,334.3 733.69,334.1 733.86,335.0 734.02,333.7 734.19,331.3 734.36,329.1 734.53,327.9 734.69,327.4 734.86,325.8 735.03,325.8 735.19,321.6 735.36,324.7 735.53,323.1 735.69,325.7 735.86,321.6 736.03,318.5 736.20,318.8 736.36,314.8 736.53,314.4 736.70,311.2 736.86,314.9 737.03,312.3 737.20,308.4 737.36,308.7 737.53,308.9 737.70,307.0 737.87,305.5 738.03,302.3 738.20,301.4 738.37,301.3 738.53,302.2 738.70,299.5 738.87,298.8 739.03,302.1 739.20,298.8 739.37,301.6 739.54,300.2 739.70,301.0 739.87,302.2 740.04,300.4 740.20,300.4 740.37,297.3 740.54,297.1 740.70,298.5 740.87,299.3 741.04,298.6 741.21,299.4 741.37,295.8 741.54,295.1 741.71,295.8 741.87,293.7 742.04,293.1 742.21,291.0 742.37,293.3 742.54,289.6 742.71,291.3 742.88,287.7 743.04,290.8 743.21,287.0 743.38,289.1 743.54,284.8 743.71,285.8 743.88,287.6 744.04,283.9 744.21,284.6 744.38,283.1 744.55,279.7 744.71,282.9 744.88,282.4 745.05,279.4 745.21,281.0 745.38,277.8 745.55,276.3 745.71,276.6 745.88,274.4 746.05,277.7 746.22,270.8 746.38,273.1 746.55,272.3 746.72,266.8 746.88,266.0 747.05,268.4 747.22,265.8 747.38,266.2 747.55,266.6 747.72,263.7 747.89,262.3 748.05,259.4 748.22,263.5 748.39,261.4 748.55,262.9 748.72,262.5 748.89,259.7 749.05,264.0 749.22,262.7 749.39,261.9 749.56,258.0 749.72,258.4 749.89,257.4 750.06,256.8 750.22,255.0 750.39,256.5 750.56,255.4 750.72,254.8 750.89,252.7 751.06,254.7 751.23,252.2 751.39,247.0 751.56,249.4 751.73,249.5 751.89,250.3 752.06,247.6 752.23,246.9 752.39,245.5 752.56,246.8 752.73,244.4 752.90,243.5 753.06,242.6 753.23,243.8 753.40,241.5 753.56,239.0 753.73,241.8 753.90,239.1 754.06,239.9 754.23,239.3 754.40,239.8 754.57,238.8 754.73,235.7 754.90,235.6 755.07,233.2 755.23,236.9 755.40,234.4 755.57,235.1 755.73,232.0 755.90,228.9 756.07,234.4 756.24,232.3 756.40,232.5 756.57,232.4 756.74,233.4 756.90,233.3 757.07,230.2 757.24,234.3 757.40,232.0 757.57,232.1 757.74,235.5 757.91,234.4 758.07,232.6 758.24,230.4 758.41,233.5 758.57,234.2 758.74,233.3 758.91,231.7 759.07,232.4 759.24,231.8 759.41,233.9 759.58,234.0 759.74,233.6 759.91,230.2 760.08,230.7 760.24,230.2 760.41,227.5 760.58,227.0 760.74,229.4 760.91,225.4 761.08,225.4 761.25,222.4 761.41,222.0 761.58,218.4 761.75,219.8 761.91,220.6 762.08,220.9 762.25,218.5 762.41,216.7 762.58,214.8 762.75,212.7 762.92,212.4 763.08,212.5 763.25,209.5 763.42,211.2 763.58,207.4 763.75,205.2 763.92,205.5 764.08,203.5 764.25,203.1 764.42,205.9 764.59,203.4 764.75,203.8 764.92,205.0 765.09,204.9 765.25,202.1 765.42,204.6 765.59,203.0 765.75,202.2 765.92,202.5 766.09,199.5 766.26,200.3 766.42,201.1 766.59,202.0 766.76,200.3 766.92,200.5 767.09,201.9 767.26,202.1 767.42,200.8 767.59,201.1 767.76,198.2 767.93,198.0 768.09,198.5 768.26,197.2 768.43,196.5 768.59,199.3 768.76,196.2 768.93,194.6 769.09,196.4 769.26,198.0 769.43,195.0 769.60,196.3 769.76,193.4 769.93,193.0 770.10,192.3 770.26,192.7 770.43,195.3 770.60,190.5 770.76,194.4 770.93,190.1 771.10,190.9 771.27,192.1 771.43,191.5 771.60,190.6 771.77,187.4 771.93,190.1 772.10,187.9 772.27,193.4 772.43,189.3 772.60,190.1 772.77,188.2 772.94,189.3 773.10,188.2 773.27,191.7 773.44,190.2 773.60,191.4 773.77,189.4 773.94,189.6 774.10,192.2 774.27,188.7 774.44,187.4 774.61,190.6 774.77,188.2 774.94,189.2 775.11,191.1 775.27,188.5 775.44,191.0 775.61,188.6 775.77,192.1 775.94,192.2 776.11,189.8 776.28,190.5 776.44,189.9 776.61,191.8 776.78,193.5 776.94,189.9 777.11,193.8 777.28,190.7 777.44,191.7 777.61,190.6 777.78,196.3 777.95,193.1 778.11,193.2 778.28,191.7 778.45,194.2 778.61,189.3 778.78,192.4 778.95,195.5 779.11,191.5 779.28,192.0 779.45,192.9 779.62,190.5 779.78,191.7 779.95,192.9 780.12,191.7 780.28,191.8 780.45,190.6 780.62,191.5 780.78,191.9 780.95,194.9 781.12,194.7 781.29,194.1 781.45,191.7 781.62,197.3 781.79,198.3 781.95,196.7 782.12,195.9 782.29,198.1 782.45,202.1 782.62,199.8 782.79,201.2 782.96,202.7 783.12,204.7 783.29,203.3 783.46,203.7 783.62,203.4 783.79,207.2 783.96,206.8 784.12,205.5 784.29,204.0 784.46,205.3 784.63,207.8 784.79,206.3 784.96,209.1 785.13,208.7 785.29,209.0 785.46,209.9 785.63,210.1 785.79,208.5 785.96,209.7 786.13,214.1 786.30,209.2 786.46,210.7 786.63,213.4 786.80,212.0 786.96,211.4 787.13,211.0 787.30,214.2 787.46,215.2 787.63,215.7 787.80,213.6 787.97,215.0 788.13,211.8 788.30,213.5 788.47,212.1 788.63,213.3 788.80,214.1 788.97,214.5 789.13,211.3 789.30,214.6 789.47,211.9 789.64,211.0 789.80,212.2 789.97,210.2 790.14,212.8 790.30,213.6 790.47,213.2 790.64,214.7 790.80,213.8 790.97,214.6 791.14,212.8 791.31,215.4 791.47,214.4 791.64,215.4 791.81,215.9 791.97,216.2 792.14,213.4 792.31,213.4 792.47,215.2 792.64,216.3 792.81,216.1 792.98,216.8 793.14,217.3 793.31,216.0 793.48,215.1 793.64,213.5 793.81,213.6 793.98,214.2 794.14,215.2 794.31,215.1 794.48,214.7 794.65,214.4 794.81,215.6 794.98,214.9 795.15,215.0 795.31,215.0 795.48,213.7 795.65,213.0 795.81,215.2 795.98,215.1 796.15,214.1 796.32,213.8 796.48,217.8 796.65,213.3 796.82,214.1 796.98,214.8 797.15,212.6 797.32,214.5 797.48,217.0 797.65,215.7 797.82,215.2 797.99,215.2 798.15,214.4 798.32,216.4 798.49,215.4 798.65,215.7 798.82,217.2 798.99,219.1 799.15,218.9 799.32,220.1 799.49,216.8 799.66,222.3 799.82,224.7 799.99,223.9 800.16,222.1 800.32,222.0 800.49,224.4 800.66,223.2 800.82,226.4 800.99,225.2 801.16,228.2 801.33,229.5 801.49,225.1 801.66,229.2 801.83,227.6 801.99,226.4 802.16,227.4 802.33,227.9 802.49,229.6 802.66,225.6 802.83,229.3 803.00,230.6 803.16,228.3 803.33,228.1 803.50,227.1 803.66,225.2 803.83,227.6 804.00,227.2 804.16,227.5 804.33,230.2 804.50,227.2 804.67,226.6 804.83,228.2 805.00,223.7 805.17,223.8 805.33,224.8 805.50,224.3 805.67,226.2 805.83,224.5 806.00,227.4 806.17,226.9 806.34,225.7 806.50,223.8 806.67,225.2 806.84,225.6 807.00,223.3 807.17,226.0 807.34,227.1 807.50,227.0 807.67,229.6 807.84,229.6 808.01,227.2 808.17,229.1 808.34,228.2 808.51,230.8 808.67,229.2 808.84,232.4 809.01,232.1 809.17,233.5 809.34,232.3 809.51,230.6 809.68,235.8 809.84,233.2 810.01,235.8 810.18,234.7 810.34,235.4 810.51,237.4 810.68,235.5 810.84,237.3 811.01,233.3 811.18,237.1 811.35,235.7 811.51,236.1 811.68,236.6 811.85,237.4 812.01,239.6 812.18,234.6 812.35,237.7 812.51,236.8 812.68,239.9 812.85,237.9 813.02,239.7 813.18,238.8 813.35,240.9 813.52,241.8 813.68,240.1 813.85,241.2 814.02,239.4 814.18,242.4 814.35,243.8 814.52,242.5 814.69,245.9 814.85,242.0 815.02,243.3 815.19,244.8 815.35,247.1 815.52,248.7 815.69,249.3 815.85,249.3 816.02,250.5 816.19,248.7 816.36,247.5 816.52,247.6 816.69,252.6 816.86,245.9 817.02,249.2 817.19,251.7 817.36,250.2 817.52,248.3 817.69,249.5 817.86,250.8 818.03,251.6 818.19,248.8 818.36,251.7 818.53,251.3 818.69,253.0 818.86,253.8 819.03,251.6 819.19,250.3 819.36,253.4 819.53,255.9 819.70,254.6 819.86,254.3 820.03,257.5 820.20,252.3 820.36,255.1 820.53,252.7 820.70,253.6 820.86,253.5 821.03,255.5 821.20,251.7 821.37,252.2 821.53,250.5 821.70,253.5 821.87,252.0 822.03,253.2 822.20,250.9 822.37,251.8 822.53,253.8 822.70,251.9 822.87,253.0 823.04,253.2 823.20,252.7 823.37,251.6 823.54,256.2 823.70,255.7 823.87,257.6 824.04,253.9 824.20,255.2 824.37,255.2 824.54,257.8 824.71,261.5 824.87,261.3 825.04,260.8 825.21,261.4 825.37,262.7 825.54,261.5 825.71,263.0 825.87,263.1 826.04,260.0 826.21,263.2 826.38,266.2 826.54,264.1 826.71,264.9 826.88,264.6 827.04,265.2 827.21,268.0 827.38,266.3 827.54,265.5 827.71,262.8 827.88,267.0 828.05,265.3 828.21,265.9 828.38,270.2 828.55,270.5 828.71,266.9 828.88,271.5 829.05,271.3 829.21,269.8 829.38,272.5 829.55,269.3 829.72,270.3 829.88,269.9 830.05,270.3 830.22,273.3 830.38,269.9 830.55,270.2 830.72,270.5 830.88,272.2 831.05,271.3 831.22,273.1 831.39,270.7 831.55,269.8 831.72,271.0 831.89,271.8 832.05,270.3 832.22,272.1 832.39,274.8 832.55,271.6 832.72,273.0 832.89,275.4 833.06,272.8 833.22,272.9 833.39,273.0 833.56,275.6 833.72,276.2 833.89,275.7 834.06,276.1 834.22,277.9 834.39,277.3 834.56,273.9 834.73,275.8 834.89,275.9 835.06,276.7 835.23,275.2 835.39,274.5 835.56,274.7 835.73,272.6 835.89,275.1 836.06,274.2 836.23,275.7 836.40,273.3 836.56,274.1 836.73,273.2 836.90,273.0 837.06,275.6 837.23,273.9 837.40,275.2 837.56,272.8 837.73,274.6 837.90,271.9 838.07,273.7 838.23,273.6 838.40,275.2 838.57,274.6 838.73,274.0 838.90,275.5 839.07,274.5 839.23,275.0 839.40,275.3 839.57,274.1 839.74,273.8 839.90,274.8 840.07,273.7 840.24,274.9 840.40,276.1 840.57,276.2 840.74,275.1 840.90,274.5 841.07,277.1 841.24,277.7 841.41,280.3 841.57,278.8 841.74,279.8 841.91,281.9 842.07,280.8 842.24,282.1 842.41,285.6 842.57,286.0 842.74,285.4 842.91,285.6 843.08,284.5 843.24,287.5 843.41,287.5 843.58,288.5 843.74,288.0 843.91,289.4 844.08,289.2 844.24,289.7 844.41,291.2 844.58,289.3 844.75,286.1 844.91,286.9 845.08,285.8 845.25,286.7 845.41,288.5 845.58,288.1 845.75,286.4 845.91,287.5 846.08,285.7 846.25,284.5 846.42,284.3 846.58,284.9 846.75,288.1 846.92,283.8 847.08,287.4 847.25,287.4 847.42,284.9 847.58,284.9 847.75,283.8 847.92,284.5 848.09,285.4 848.25,284.2 848.42,285.6 848.59,285.7 848.75,284.3 848.92,284.1 849.09,283.4 849.25,284.6 849.42,282.9 849.59,285.8 849.76,286.0 849.92,285.0 850.09,290.1 850.26,286.0 850.42,286.7 850.59,288.9 850.76,286.1 850.92,288.3 851.09,287.7 851.26,289.0 851.43,290.7 851.59,291.9 851.76,293.4 851.93,293.3 852.09,294.1 852.26,293.5 852.43,292.3 852.59,294.9 852.76,292.8 852.93,292.9 853.10,296.4 853.26,295.6 853.43,295.1 853.60,296.2 853.76,296.7 853.93,293.6 854.10,295.8 854.26,294.5 854.43,296.7 854.60,295.8 854.77,299.2 854.93,298.2 855.10,296.6 855.27,298.2 855.43,296.9 855.60,299.2 855.77,300.5 855.93,300.5 856.10,297.7 856.27,300.5 856.44,302.2 856.60,302.4 856.77,304.5 856.94,301.8 857.10,305.4 857.27,304.6 857.44,306.8 857.60,308.0 857.77,309.3 857.94,308.3 858.11,309.6 858.27,307.5 858.44,307.1 858.61,310.1 858.77,309.2 858.94,306.8 859.11,308.0 859.27,309.3 859.44,311.6 859.61,310.8 859.78,310.4 859.94,306.6 860.11,309.1 860.28,310.1 860.44,310.3 860.61,310.7 860.78,310.1 860.94,313.5 861.11,313.4 861.28,311.4 861.45,310.5 861.61,315.4 861.78,311.9 861.95,314.8 862.11,316.3 862.28,312.1 862.45,313.9 862.61,312.8 862.78,314.0 862.95,313.5 863.12,315.9 863.28,313.7 863.45,312.7 863.62,314.3 863.78,312.1 863.95,311.8 864.12,315.6 864.28,310.9 864.45,311.3 864.62,311.9 864.79,310.0 864.95,308.2 865.12,312.8 865.29,310.1 865.45,311.2 865.62,312.3 865.79,312.2 865.95,312.8 866.12,315.4 866.29,319.6 866.46,317.9 866.62,318.7 866.79,316.1 866.96,319.1 867.12,318.1 867.29,321.4 867.46,320.3 867.62,321.1 867.79,321.3 867.96,321.0 868.13,320.0 868.29,323.5 868.46,321.0 868.63,321.7 868.79,323.4 868.96,323.2 869.13,325.2 869.29,326.7 869.46,326.1 869.63,326.4 869.80,326.6 869.96,328.4 870.13,324.8 870.30,328.5 870.46,327.1 870.63,327.1 870.80,329.4 870.96,329.3 871.13,331.2 871.30,332.4 871.47,327.7 871.63,331.6 871.80,335.1 871.97,333.9 872.13,334.9 872.30,332.8 872.47,330.5 872.63,330.9 872.80,333.7 872.97,334.0 873.14,331.4 873.30,332.0 873.47,332.7 873.64,329.6 873.80,331.6 873.97,334.5 874.14,335.2 874.30,331.7 874.47,334.5 874.64,331.2 874.81,331.1 874.97,329.3 875.14,334.5 875.31,332.9 875.47,337.3 875.64,334.7 875.81,334.8 875.97,332.2 876.14,337.5 876.31,334.9 876.48,335.1 876.64,332.0 876.81,336.6 876.98,336.6 877.14,334.2 877.31,335.2 877.48,335.5 877.64,336.3 877.81,335.0 877.98,337.3 878.15,334.3 878.31,333.7 878.48,333.8 878.65,330.6 878.81,333.2 878.98,335.8 879.15,334.7 879.31,333.0 879.48,334.8 879.65,331.2 879.82,333.8 879.98,335.0 880.15,335.3 880.32,333.1 880.48,335.6 880.65,337.1 880.82,333.6 880.98,335.4 881.15,331.9 881.32,331.3 881.49,335.2 881.65,334.3 881.82,334.5 881.99,333.4 882.15,333.8 882.32,335.4 882.49,336.8 882.65,333.8 882.82,331.9 882.99,337.0 883.16,336.7 883.32,337.5 883.49,337.4 883.66,341.3 883.82,338.5 883.99,339.9 884.16,337.0 884.32,339.6 884.49,340.1 884.66,341.7 884.83,343.0 884.99,342.0 885.16,346.4 885.33,342.9 885.49,344.4 885.66,346.2 885.83,344.6 885.99,348.0 886.16,348.7 886.33,347.7 886.50,350.8 886.66,347.8 886.83,348.0 887.00,345.9 887.16,344.6 887.33,346.0 887.50,346.3 887.66,345.9 887.83,347.5 888.00,342.6 888.17,344.3 888.33,343.1 888.50,347.6 888.67,344.6 888.83,344.5 889.00,343.4 889.17,346.2 889.33,344.1 889.50,344.9 889.67,341.3 889.84,345.9 890.00,344.6 890.17,344.6 890.34,345.5 890.50,343.3 890.67,343.2 890.84,344.5 891.00,343.9 891.17,342.8 891.34,343.2 891.51,342.8 891.67,345.3 891.84,346.2 892.01,345.5 892.17,348.9 892.34,344.4 892.51,347.0 892.67,350.5 892.84,347.9 893.01,346.7 893.18,351.7 893.34,351.0 893.51,348.9 893.68,352.5 893.84,350.3 894.01,350.3 894.18,352.4 894.34,352.3 894.51,351.7 894.68,353.2 894.85,352.6 895.01,354.5 895.18,354.5 895.35,355.8 895.51,354.2 895.68,353.0 895.85,353.1 896.01,354.9 896.18,357.7 896.35,356.8 896.52,354.7 896.68,357.2 896.85,354.1 897.02,357.5 897.18,355.6 897.35,357.5 897.52,357.5 897.68,356.5 897.85,357.7 898.02,355.8 898.19,357.6 898.35,359.6 898.52,364.5 898.69,359.6 898.85,359.0 899.02,357.9 899.19,361.8 899.35,358.5 899.52,360.6 899.69,363.6 899.86,362.6 900.02,368.0 900.19,368.7 900.36,367.0 900.52,367.3 900.69,366.6 900.86,366.8 901.02,369.9 901.19,370.6 901.36,370.5 901.53,370.8 901.69,369.9 901.86,371.2 902.03,368.4 902.19,370.6 902.36,372.7 902.53,372.5 902.69,370.1 902.86,370.5 903.03,373.4 903.20,374.3 903.36,369.7 903.53,371.6 903.70,372.9 903.86,374.7 904.03,371.9 904.20,374.4 904.36,373.3 904.53,377.5 904.70,374.4 904.87,373.3 905.03,372.8 905.20,374.7 905.37,374.0 905.53,371.1 905.70,372.9 905.87,370.4 906.03,371.1 906.20,370.1 906.37,369.8 906.54,370.6 906.70,370.0 906.87,372.0 907.04,372.3 907.20,370.6 907.37,369.2 907.54,372.0 907.70,368.7 907.87,369.7 908.04,374.6 908.21,375.4 908.37,376.8 908.54,375.9 908.71,375.3 908.87,377.3 909.04,379.8 909.21,378.7 909.37,379.7 909.54,379.3 909.71,380.2 909.88,383.7 910.04,383.6 910.21,381.6 910.38,382.1 910.54,383.4 910.71,385.4 910.88,383.3 911.04,385.2 911.21,382.7 911.38,384.4 911.55,387.3 911.71,388.4 911.88,385.7 912.05,386.6 912.21,389.3 912.38,387.9 912.55,388.1 912.71,390.0 912.88,389.9 913.05,391.7 913.22,391.5 913.38,389.8 913.55,390.9 913.72,391.4 913.88,389.8 914.05,390.7 914.22,394.0 914.38,390.3 914.55,394.1 914.72,392.9 914.89,392.2 915.05,393.2 915.22,393.0 915.39,394.1 915.55,391.6 915.72,391.8 915.89,391.7 916.05,394.8 916.22,393.4 916.39,390.5 916.56,391.3 916.72,390.7 916.89,391.8 917.06,392.5 917.22,396.0 917.39,390.2 917.56,394.9 917.72,394.4 917.89,393.1 918.06,394.3 918.23,394.1 918.39,395.3 918.56,397.1 918.73,393.3 918.89,397.5 919.06,394.9 919.23,397.6 919.39,395.9 919.56,397.0 919.73,396.0 919.90,396.7 920.06,395.0 920.23,393.6 920.40,395.8 920.56,395.8 920.73,397.8 920.90,391.5 921.06,394.1 921.23,396.0 921.40,392.4 921.57,393.9 921.73,397.4 921.90,396.4 922.07,392.9 922.23,396.4 922.40,396.0 922.57,395.4 922.73,394.7 922.90,394.5 923.07,392.8 923.24,393.4 923.40,395.2 923.57,394.3 923.74,396.9 923.90,393.6 924.07,390.5 924.24,393.6 924.40,394.5 924.57,394.7 924.74,394.3 924.91,393.0 925.07,396.6 925.24,394.1 925.41,396.9 925.57,396.2 925.74,395.5 925.91,400.2 926.07,395.0 926.24,398.3 926.41,400.9 926.58,400.5 926.74,402.9 926.91,402.3 927.08,402.5 927.24,407.2 927.41,404.4 927.58,405.2 927.74,404.5 927.91,405.8 928.08,408.6 928.25,409.1 928.41,408.8 928.58,408.3 928.75,410.2 928.91,406.4 929.08,408.2 929.25,408.1 929.41,407.0 929.58,408.3 929.75,406.8 929.92,406.4 930.08,410.1 930.25,408.2 930.42,408.7 930.58,406.8 930.75,407.9 930.92,407.4 931.08,407.8 931.25,409.4 931.42,405.3 931.59,405.8 931.75,405.1 931.92,399.7 932.09,402.7 932.25,404.6 932.42,405.3 932.59,403.3 932.75,405.7 932.92,405.7 933.09,403.0 933.26,405.6 933.42,405.9 933.59,403.8 933.76,401.8 933.92,406.0 934.09,404.1 934.26,404.3 934.42,405.6 934.59,405.2 934.76,408.1 934.93,408.2 935.60,402.9 935.72,404.4 935.83,402.6 935.95,407.1 936.06,408.9 936.18,401.7 936.29,402.1 936.41,401.5 936.53,402.3 936.64,401.0 936.76,410.3 936.87,409.5 936.99,401.5 937.11,402.5 937.22,400.6 937.34,401.9 937.45,400.0 937.57,411.7 937.68,412.2 937.80,403.2 937.92,401.0 938.03,403.6 938.15,400.6 938.26,402.4 938.38,415.4 938.50,415.4 938.61,402.1 938.73,402.1 938.84,404.9 938.96,402.6 939.07,405.0 939.19,415.6 939.31,416.6 939.42,407.9 939.54,407.2 939.65,406.6 939.77,404.1 939.88,406.4 940.00,418.4 940.12,418.5 940.23,408.5 940.35,405.1 940.46,407.8 940.58,407.9 940.70,407.1 940.81,422.8 940.93,419.5 941.04,408.9 941.16,409.3 941.27,406.8 941.39,408.0 941.51,408.9 941.62,424.1 941.74,424.7 941.85,411.7 941.97,411.5 942.08,408.8 942.20,412.1 942.32,411.5 942.43,427.2 942.55,427.8 942.66,415.7 942.78,414.1 942.90,414.5 943.01,412.6 943.13,414.2 943.24,427.1 943.36,430.1 943.47,413.5 943.59,415.0 943.71,414.6 943.82,415.3 943.94,416.7 944.05,429.8 944.17,430.8 944.29,415.6 944.29,491.7 944.17,503.0 944.05,506.6 943.94,487.1 943.82,488.5 943.71,488.0 943.59,489.2 943.47,488.4 943.36,504.8 943.24,502.8 943.13,493.8 943.01,486.7 942.90,491.8 942.78,488.8 942.66,484.2 942.55,500.6 942.43,503.9 942.32,485.8 942.20,485.7 942.08,484.7 941.97,486.6 941.85,485.5 941.74,497.5 941.62,498.2 941.51,487.2 941.39,482.7 941.27,483.2 941.16,479.5 941.04,482.6 940.93,493.0 940.81,494.6 940.70,481.8 940.58,481.5 940.46,483.0 940.35,478.8 940.23,479.8 940.12,493.3 940.00,494.4 939.88,481.0 939.77,481.1 939.65,479.7 939.54,479.0 939.42,480.4 939.31,491.2 939.19,489.7 939.07,477.7 938.96,480.4 938.84,480.1 938.73,477.6 938.61,478.6 938.50,486.3 938.38,489.3 938.26,477.9 938.15,476.0 938.03,478.2 937.92,477.8 937.80,479.3 937.68,485.4 937.57,486.7 937.45,478.1 937.34,472.5 937.22,470.9 937.11,476.8 936.99,473.8 936.87,485.5 936.76,483.2 936.64,476.5 936.53,475.2 936.41,477.8 936.29,475.8 936.18,474.6 936.06,479.4 935.95,486.4 935.83,477.7 935.72,475.1 935.60,478.2 934.93,479.4 934.76,482.1 934.59,480.8 934.42,481.5 934.26,477.5 934.09,478.9 933.92,478.7 933.76,477.2 933.59,477.6 933.42,479.3 933.26,479.1 933.09,477.1 932.92,478.5 932.75,476.5 932.59,477.7 932.42,476.9 932.25,479.7 932.09,478.7 931.92,476.6 931.75,481.8 931.59,479.4 931.42,479.2 931.25,481.4 931.08,480.2 930.92,479.9 930.75,480.8 930.58,478.6 930.42,482.4 930.25,483.3 930.08,480.9 929.92,479.7 929.75,485.0 929.58,480.9 929.41,480.7 929.25,481.7 929.08,483.7 928.91,480.1 928.75,484.4 928.58,486.1 928.41,483.7 928.25,485.9 928.08,482.1 927.91,480.3 927.74,479.0 927.58,479.3 927.41,480.2 927.24,477.4 927.08,476.9 926.91,476.6 926.74,475.0 926.58,475.8 926.41,474.0 926.24,472.2 926.07,474.2 925.91,475.0 925.74,472.7 925.57,471.8 925.41,470.8 925.24,470.1 925.07,470.7 924.91,469.2 924.74,466.7 924.57,465.3 924.40,470.8 924.24,469.4 924.07,466.8 923.90,468.1 923.74,465.7 923.57,467.1 923.40,468.0 923.24,470.0 923.07,468.6 922.90,469.2 922.73,467.8 922.57,470.7 922.40,467.1 922.23,469.4 922.07,468.6 921.90,469.9 921.73,468.4 921.57,467.4 921.40,469.6 921.23,468.6 921.06,470.0 920.90,470.0 920.73,471.0 920.56,470.5 920.40,470.4 920.23,469.5 920.06,470.5 919.90,468.1 919.73,470.3 919.56,469.0 919.39,468.8 919.23,469.5 919.06,468.8 918.89,470.3 918.73,470.4 918.56,469.9 918.39,471.3 918.23,472.2 918.06,468.3 917.89,467.3 917.72,469.8 917.56,470.6 917.39,466.9 917.22,469.7 917.06,465.7 916.89,467.6 916.72,467.8 916.56,469.1 916.39,464.6 916.22,467.3 916.05,466.2 915.89,466.2 915.72,464.8 915.55,464.8 915.39,466.3 915.22,465.5 915.05,465.2 914.89,467.5 914.72,470.2 914.55,468.8 914.38,465.3 914.22,468.7 914.05,466.7 913.88,464.0 913.72,465.3 913.55,463.9 913.38,465.2 913.22,467.7 913.05,463.7 912.88,464.6 912.71,464.8 912.55,463.7 912.38,464.5 912.21,464.3 912.05,462.5 911.88,459.5 911.71,459.3 911.55,463.2 911.38,462.5 911.21,457.6 911.04,457.7 910.88,457.6 910.71,460.8 910.54,458.8 910.38,457.2 910.21,456.9 910.04,456.2 909.88,455.5 909.71,454.7 909.54,459.5 909.37,457.4 909.21,453.9 909.04,453.7 908.87,450.5 908.71,452.0 908.54,451.4 908.37,449.6 908.21,448.9 908.04,450.9 907.87,447.0 907.70,446.8 907.54,442.7 907.37,445.8 907.20,447.7 907.04,445.3 906.87,446.5 906.70,447.5 906.54,444.7 906.37,445.9 906.20,448.6 906.03,447.5 905.87,446.7 905.70,449.8 905.53,449.2 905.37,446.3 905.20,447.7 905.03,446.4 904.87,449.8 904.70,448.3 904.53,448.8 904.36,447.8 904.20,448.1 904.03,449.7 903.86,450.4 903.70,445.7 903.53,446.3 903.36,447.7 903.20,447.5 903.03,445.3 902.86,445.2 902.69,445.9 902.53,443.7 902.36,447.6 902.19,442.7 902.03,448.2 901.86,443.6 901.69,444.9 901.53,443.4 901.36,444.9 901.19,444.8 901.02,441.5 900.86,441.3 900.69,443.4 900.52,441.9 900.36,442.2 900.19,440.5 900.02,440.4 899.86,438.5 899.69,438.2 899.52,436.5 899.35,435.8 899.19,437.3 899.02,433.5 898.85,434.3 898.69,431.6 898.52,430.9 898.35,434.4 898.19,433.7 898.02,433.7 897.85,431.7 897.68,428.6 897.52,434.7 897.35,430.3 897.18,430.2 897.02,430.8 896.85,427.9 896.68,430.0 896.52,430.5 896.35,431.1 896.18,431.5 896.01,430.6 895.85,430.3 895.68,430.0 895.51,431.7 895.35,427.4 895.18,430.0 895.01,428.9 894.85,429.1 894.68,428.3 894.51,428.8 894.34,426.6 894.18,427.2 894.01,426.4 893.84,426.0 893.68,424.6 893.51,424.2 893.34,426.3 893.18,426.8 893.01,424.4 892.84,423.0 892.67,423.6 892.51,422.0 892.34,422.3 892.17,421.7 892.01,418.0 891.84,419.8 891.67,416.3 891.51,420.1 891.34,414.3 891.17,414.1 891.00,419.8 890.84,418.0 890.67,415.9 890.50,416.9 890.34,417.0 890.17,418.2 890.00,420.5 889.84,420.2 889.67,419.2 889.50,417.5 889.33,419.2 889.17,418.6 889.00,422.1 888.83,420.5 888.67,420.4 888.50,422.4 888.33,419.8 888.17,420.7 888.00,418.9 887.83,418.8 887.66,422.0 887.50,420.7 887.33,418.4 887.16,421.0 887.00,417.9 886.83,423.2 886.66,424.5 886.50,423.0 886.33,423.3 886.16,422.0 885.99,420.4 885.83,420.3 885.66,421.3 885.49,418.1 885.33,420.4 885.16,417.2 884.99,419.1 884.83,415.3 884.66,419.0 884.49,415.0 884.32,415.6 884.16,411.6 883.99,413.4 883.82,411.9 883.66,411.3 883.49,412.4 883.32,412.4 883.16,408.3 882.99,406.8 882.82,408.7 882.65,405.6 882.49,408.2 882.32,410.5 882.15,409.5 881.99,408.9 881.82,408.8 881.65,407.0 881.49,407.8 881.32,408.7 881.15,408.9 880.98,408.2 880.82,407.6 880.65,409.1 880.48,408.7 880.32,411.2 880.15,408.0 879.98,409.9 879.82,408.0 879.65,409.1 879.48,408.6 879.31,409.5 879.15,409.6 878.98,408.9 878.81,408.7 878.65,408.8 878.48,408.7 878.31,409.7 878.15,409.2 877.98,408.1 877.81,406.9 877.64,407.1 877.48,410.8 877.31,411.0 877.14,408.4 876.98,412.0 876.81,410.9 876.64,412.5 876.48,411.2 876.31,408.6 876.14,410.5 875.97,411.2 875.81,411.3 875.64,410.7 875.47,405.7 875.31,407.5 875.14,409.9 874.97,405.4 874.81,407.5 874.64,407.4 874.47,405.6 874.30,406.5 874.14,409.2 873.97,403.4 873.80,406.9 873.64,403.8 873.47,408.1 873.30,408.3 873.14,407.8 872.97,405.7 872.80,407.4 872.63,411.0 872.47,407.3 872.30,405.4 872.13,410.0 871.97,405.6 871.80,407.2 871.63,405.1 871.47,406.8 871.30,403.3 871.13,404.2 870.96,401.4 870.80,404.1 870.63,404.1 870.46,405.2 870.30,402.7 870.13,400.5 869.96,402.4 869.80,400.9 869.63,403.1 869.46,400.7 869.29,401.0 869.13,399.1 868.96,393.6 868.79,397.2 868.63,399.4 868.46,394.4 868.29,396.1 868.13,398.8 867.96,394.4 867.79,394.1 867.62,395.9 867.46,393.5 867.29,394.9 867.12,393.6 866.96,393.7 866.79,393.3 866.62,389.9 866.46,392.7 866.29,389.9 866.12,388.5 865.95,390.1 865.79,388.7 865.62,389.2 865.45,385.2 865.29,385.6 865.12,385.1 864.95,383.8 864.79,385.9 864.62,387.4 864.45,385.9 864.28,386.5 864.12,385.6 863.95,387.3 863.78,386.6 863.62,387.5 863.45,387.9 863.28,386.3 863.12,389.6 862.95,387.6 862.78,389.4 862.61,386.5 862.45,390.8 862.28,386.9 862.11,386.9 861.95,388.1 861.78,387.5 861.61,386.3 861.45,387.4 861.28,386.3 861.11,385.0 860.94,382.0 860.78,384.3 860.61,383.7 860.44,385.1 860.28,382.6 860.11,381.1 859.94,386.1 859.78,380.2 859.61,384.1 859.44,383.7 859.27,384.9 859.11,381.4 858.94,384.9 858.77,383.0 858.61,383.6 858.44,384.1 858.27,384.1 858.11,382.9 857.94,383.8 857.77,383.2 857.60,380.8 857.44,382.5 857.27,384.3 857.10,380.6 856.94,379.4 856.77,379.2 856.60,380.7 856.44,376.0 856.27,376.3 856.10,375.9 855.93,373.5 855.77,374.5 855.60,374.5 855.43,372.0 855.27,371.8 855.10,374.5 854.93,373.6 854.77,370.9 854.60,370.2 854.43,372.2 854.26,370.1 854.10,368.7 853.93,371.5 853.76,370.3 853.60,370.3 853.43,370.3 853.26,369.6 853.10,370.9 852.93,367.5 852.76,365.6 852.59,367.4 852.43,364.8 852.26,366.5 852.09,367.1 851.93,363.6 851.76,368.8 851.59,367.1 851.43,364.4 851.26,363.0 851.09,365.1 850.92,366.1 850.76,362.0 850.59,362.5 850.42,363.4 850.26,359.5 850.09,357.6 849.92,363.5 849.76,360.3 849.59,360.3 849.42,361.6 849.25,357.4 849.09,359.6 848.92,360.1 848.75,356.5 848.59,358.6 848.42,359.7 848.25,358.8 848.09,359.7 847.92,359.2 847.75,358.0 847.58,357.8 847.42,359.0 847.25,358.9 847.08,361.3 846.92,361.3 846.75,358.4 846.58,363.4 846.42,362.0 846.25,359.4 846.08,360.8 845.91,360.9 845.75,363.3 845.58,362.4 845.41,361.0 845.25,363.2 845.08,363.4 844.91,362.9 844.75,363.6 844.58,361.5 844.41,362.2 844.24,365.2 844.08,364.8 843.91,362.8 843.74,365.3 843.58,363.2 843.41,362.8 843.24,363.1 843.08,361.6 842.91,361.4 842.74,357.2 842.57,359.5 842.41,357.9 842.24,359.6 842.07,357.5 841.91,355.9 841.74,354.9 841.57,351.3 841.41,352.6 841.24,352.4 841.07,352.7 840.90,352.4 840.74,349.7 840.57,348.0 840.40,348.9 840.24,348.3 840.07,350.1 839.90,349.5 839.74,346.7 839.57,347.7 839.40,349.9 839.23,348.0 839.07,347.6 838.90,348.5 838.73,348.8 838.57,348.1 838.40,348.8 838.23,346.9 838.07,350.0 837.90,349.3 837.73,349.9 837.56,349.2 837.40,348.9 837.23,349.6 837.06,348.4 836.90,348.8 836.73,351.1 836.56,347.8 836.40,347.2 836.23,347.8 836.06,349.7 835.89,350.9 835.73,346.8 835.56,349.3 835.39,349.0 835.23,350.3 835.06,347.8 834.89,352.0 834.73,350.5 834.56,351.9 834.39,349.4 834.22,349.5 834.06,351.9 833.89,348.7 833.72,351.8 833.56,350.0 833.39,350.2 833.22,352.1 833.06,349.0 832.89,348.2 832.72,345.5 832.55,347.1 832.39,345.2 832.22,347.4 832.05,345.9 831.89,344.7 831.72,346.0 831.55,345.9 831.39,342.8 831.22,345.4 831.05,345.8 830.88,346.1 830.72,343.9 830.55,347.0 830.38,343.5 830.22,348.1 830.05,343.9 829.88,344.9 829.72,347.0 829.55,345.0 829.38,345.4 829.21,346.7 829.05,343.8 828.88,345.7 828.71,346.0 828.55,343.1 828.38,341.9 828.21,341.7 828.05,342.2 827.88,343.0 827.71,341.1 827.54,343.6 827.38,340.8 827.21,338.4 827.04,340.4 826.88,340.2 826.71,336.4 826.54,339.1 826.38,338.0 826.21,337.7 826.04,337.9 825.87,335.1 825.71,338.1 825.54,336.8 825.37,336.7 825.21,335.0 825.04,334.3 824.87,333.7 824.71,336.7 824.54,333.3 824.37,332.4 824.20,332.2 824.04,331.3 823.87,331.0 823.70,329.3 823.54,330.9 823.37,328.1 823.20,328.7 823.04,325.6 822.87,325.6 822.70,329.7 822.53,324.4 822.37,325.9 822.20,326.2 822.03,325.4 821.87,326.2 821.70,328.1 821.53,325.4 821.37,328.6 821.20,327.8 821.03,324.4 820.86,329.3 820.70,329.1 820.53,326.4 820.36,326.4 820.20,332.5 820.03,326.9 819.86,328.4 819.70,325.6 819.53,327.8 819.36,326.1 819.19,328.4 819.03,324.2 818.86,324.5 818.69,325.4 818.53,325.0 818.36,325.1 818.19,324.7 818.03,324.9 817.86,324.0 817.69,322.4 817.52,324.3 817.36,325.2 817.19,323.7 817.02,323.7 816.86,324.9 816.69,324.9 816.52,322.7 816.36,324.7 816.19,321.3 816.02,322.5 815.85,324.3 815.69,323.8 815.52,320.4 815.35,323.4 815.19,319.8 815.02,321.0 814.85,319.2 814.69,318.3 814.52,317.4 814.35,316.3 814.18,314.1 814.02,314.7 813.85,312.8 813.68,313.8 813.52,315.0 813.35,314.7 813.18,313.0 813.02,315.8 812.85,314.2 812.68,311.6 812.51,311.0 812.35,309.6 812.18,311.5 812.01,311.3 811.85,312.8 811.68,311.0 811.51,312.5 811.35,312.0 811.18,311.2 811.01,305.8 810.84,307.9 810.68,306.8 810.51,309.6 810.34,309.2 810.18,308.6 810.01,307.6 809.84,307.5 809.68,307.1 809.51,308.1 809.34,306.3 809.17,305.4 809.01,305.7 808.84,307.8 808.67,304.4 808.51,303.9 808.34,303.3 808.17,303.3 808.01,303.1 807.84,301.1 807.67,301.3 807.50,299.9 807.34,299.6 807.17,300.2 807.00,298.8 806.84,299.0 806.67,298.9 806.50,300.8 806.34,298.1 806.17,301.4 806.00,298.4 805.83,299.0 805.67,301.6 805.50,300.9 805.33,299.8 805.17,297.8 805.00,297.9 804.83,299.7 804.67,302.4 804.50,299.6 804.33,299.8 804.16,302.8 804.00,296.9 803.83,302.5 803.66,302.8 803.50,301.6 803.33,301.6 803.16,301.5 803.00,299.9 802.83,302.8 802.66,305.7 802.49,304.4 802.33,300.6 802.16,302.4 801.99,300.3 801.83,304.2 801.66,303.1 801.49,305.0 801.33,303.0 801.16,302.1 800.99,300.9 800.82,299.8 800.66,299.2 800.49,298.6 800.32,295.2 800.16,291.7 799.99,297.8 799.82,296.7 799.66,292.3 799.49,293.9 799.32,291.3 799.15,290.9 798.99,291.6 798.82,290.5 798.65,290.7 798.49,290.4 798.32,291.0 798.15,285.7 797.99,291.6 797.82,287.9 797.65,288.3 797.48,289.1 797.32,289.1 797.15,289.3 796.98,287.2 796.82,287.6 796.65,287.2 796.48,287.9 796.32,288.4 796.15,289.0 795.98,287.1 795.81,289.4 795.65,289.8 795.48,286.3 795.31,288.8 795.15,288.9 794.98,289.9 794.81,290.8 794.65,288.1 794.48,287.0 794.31,287.5 794.14,288.5 793.98,287.9 793.81,287.2 793.64,291.4 793.48,290.3 793.31,289.2 793.14,293.9 792.98,288.8 792.81,289.9 792.64,289.5 792.47,291.2 792.31,291.9 792.14,292.3 791.97,290.8 791.81,291.4 791.64,289.8 791.47,290.7 791.31,289.4 791.14,288.8 790.97,288.8 790.80,289.5 790.64,286.5 790.47,286.6 790.30,288.6 790.14,286.5 789.97,286.3 789.80,287.7 789.64,285.6 789.47,289.2 789.30,287.7 789.13,286.7 788.97,286.8 788.80,289.5 788.63,288.4 788.47,287.1 788.30,287.2 788.13,283.4 787.97,285.0 787.80,285.2 787.63,288.5 787.46,288.2 787.30,289.3 787.13,285.8 786.96,287.2 786.80,286.4 786.63,284.8 786.46,287.9 786.30,284.1 786.13,282.1 785.96,282.7 785.79,285.0 785.63,282.2 785.46,283.6 785.29,280.6 785.13,280.3 784.96,282.8 784.79,281.1 784.63,279.0 784.46,280.9 784.29,282.1 784.12,280.4 783.96,277.9 783.79,280.7 783.62,278.6 783.46,280.2 783.29,275.8 783.12,278.8 782.96,276.4 782.79,275.9 782.62,273.7 782.45,274.3 782.29,274.3 782.12,274.1 781.95,274.3 781.79,268.3 781.62,270.4 781.45,270.1 781.29,270.8 781.12,268.3 780.95,266.2 780.78,267.8 780.62,266.5 780.45,264.2 780.28,264.7 780.12,267.2 779.95,266.3 779.78,265.8 779.62,264.9 779.45,263.5 779.28,264.8 779.11,266.7 778.95,268.5 778.78,267.1 778.61,268.0 778.45,268.4 778.28,266.9 778.11,266.5 777.95,267.5 777.78,267.2 777.61,267.5 777.44,267.0 777.28,268.0 777.11,270.7 776.94,265.3 776.78,265.4 776.61,263.9 776.44,264.9 776.28,264.0 776.11,264.0 775.94,259.5 775.77,264.0 775.61,264.6 775.44,264.9 775.27,263.2 775.11,261.5 774.94,262.0 774.77,264.2 774.61,264.8 774.44,262.7 774.27,263.8 774.10,262.7 773.94,264.1 773.77,264.1 773.60,264.7 773.44,262.7 773.27,266.3 773.10,267.8 772.94,265.8 772.77,264.1 772.60,264.8 772.43,267.6 772.27,262.7 772.10,262.6 771.93,262.9 771.77,265.7 771.60,265.3 771.43,263.2 771.27,263.3 771.10,265.6 770.93,265.5 770.76,264.5 770.60,264.8 770.43,267.2 770.26,268.0 770.10,268.4 769.93,265.5 769.76,272.1 769.60,268.4 769.43,270.5 769.26,269.8 769.09,272.2 768.93,270.7 768.76,269.6 768.59,271.0 768.43,272.3 768.26,272.4 768.09,277.6 767.93,273.7 767.76,272.0 767.59,272.5 767.42,274.2 767.26,271.5 767.09,275.0 766.92,274.2 766.76,273.8 766.59,276.5 766.42,271.9 766.26,277.9 766.09,275.5 765.92,272.4 765.75,278.0 765.59,278.5 765.42,276.7 765.25,281.9 765.09,275.4 764.92,278.8 764.75,277.5 764.59,277.5 764.42,276.5 764.25,278.8 764.08,279.2 763.92,282.2 763.75,282.9 763.58,284.8 763.42,284.5 763.25,286.6 763.08,285.3 762.92,287.8 762.75,288.2 762.58,289.1 762.41,289.8 762.25,293.0 762.08,293.7 761.91,294.6 761.75,293.7 761.58,293.0 761.41,296.3 761.25,294.8 761.08,299.8 760.91,296.8 760.74,301.3 760.58,299.5 760.41,301.5 760.24,301.8 760.08,304.3 759.91,307.0 759.74,305.8 759.58,306.1 759.41,309.5 759.24,307.7 759.07,304.7 758.91,309.2 758.74,309.1 758.57,306.7 758.41,307.6 758.24,308.4 758.07,303.1 757.91,304.2 757.74,307.7 757.57,306.4 757.40,305.4 757.24,306.4 757.07,305.6 756.90,309.2 756.74,305.8 756.57,304.8 756.40,303.8 756.24,306.5 756.07,306.9 755.90,307.0 755.73,305.4 755.57,308.2 755.40,309.2 755.23,306.3 755.07,308.8 754.90,310.2 754.73,311.3 754.57,311.6 754.40,312.4 754.23,312.8 754.06,312.8 753.90,313.1 753.73,316.2 753.56,316.8 753.40,318.0 753.23,319.4 753.06,318.9 752.90,319.6 752.73,319.9 752.56,323.0 752.39,319.5 752.23,321.2 752.06,324.3 751.89,324.0 751.73,323.2 751.56,324.1 751.39,323.2 751.23,325.7 751.06,325.1 750.89,328.2 750.72,326.8 750.56,329.3 750.39,327.2 750.22,328.9 750.06,331.8 749.89,334.3 749.72,333.5 749.56,334.0 749.39,336.1 749.22,332.3 749.05,334.7 748.89,339.9 748.72,338.1 748.55,336.1 748.39,336.4 748.22,337.9 748.05,339.8 747.89,338.9 747.72,338.7 747.55,339.0 747.38,342.3 747.22,343.4 747.05,341.4 746.88,340.6 746.72,342.6 746.55,344.5 746.38,344.4 746.22,347.0 746.05,348.8 745.88,349.5 745.71,352.8 745.55,350.8 745.38,352.3 745.21,356.4 745.05,358.2 744.88,355.4 744.71,359.7 744.55,356.9 744.38,358.2 744.21,356.6 744.04,358.8 743.88,360.5 743.71,356.4 743.54,362.1 743.38,359.3 743.21,362.9 743.04,365.2 742.88,363.6 742.71,364.2 742.54,366.5 742.37,364.2 742.21,367.8 742.04,365.4 741.87,367.4 741.71,366.8 741.54,368.9 741.37,368.5 741.21,370.4 741.04,370.2 740.87,371.1 740.70,370.9 740.54,369.8 740.37,373.5 740.20,370.4 740.04,376.8 739.87,373.7 739.70,373.4 739.54,377.0 739.37,373.7 739.20,375.9 739.03,375.7 738.87,376.0 738.70,378.3 738.53,379.8 738.37,375.2 738.20,375.2 738.03,379.0 737.87,380.2 737.70,382.2 737.53,382.4 737.36,383.6 737.20,384.6 737.03,384.9 736.86,384.6 736.70,384.8 736.53,389.5 736.36,388.8 736.20,391.9 736.03,391.2 735.86,397.2 735.69,395.9 735.53,394.2 735.36,400.5 735.19,400.0 735.03,399.0 734.86,402.0 734.69,403.5 734.53,401.0 734.36,403.9 734.19,402.9 734.02,405.3 733.86,407.0 733.69,406.3 733.52,407.8 733.36,409.5 733.19,410.0 733.02,408.5 732.86,411.6 732.69,414.0 732.52,414.7 732.35,414.2 732.19,413.7 732.02,415.0 731.85,419.7 731.69,421.8 731.52,418.5 731.35,419.9 731.19,422.6 731.02,422.9 730.85,421.8 730.68,421.6 730.52,425.0 730.35,425.5 730.18,421.6 730.02,421.6 729.85,420.6 729.68,421.7 729.52,423.2 729.35,423.5 729.18,423.7 729.01,425.2 728.85,421.2 728.68,425.2 728.51,426.2 728.35,423.0 728.18,426.8 728.01,427.3 727.85,427.1 727.68,429.4 727.51,429.1 727.34,431.1 727.18,429.7 727.01,433.4 726.84,432.7 726.68,429.5 726.51,431.8 726.34,433.6 726.18,434.8 726.01,435.7 725.84,436.1 725.67,437.8 725.51,437.1 725.34,440.3 725.17,441.5 725.01,440.2 724.84,440.7 724.67,441.2 724.51,442.0 724.34,442.6 724.17,441.9 724.00,442.7 723.84,442.6 723.67,443.6 723.50,445.1 723.34,446.3 723.17,446.3 723.00,445.8 722.84,446.7 722.67,448.4 722.50,447.5 722.33,448.9 722.17,447.8 722.00,450.4 721.83,450.7 721.67,449.6 721.50,453.8 721.33,454.9 721.17,452.2 721.00,455.6 720.83,456.7 720.66,455.2 720.50,457.3 720.33,456.0 720.16,458.4 720.00,458.1 719.83,461.3 719.66,463.1 719.50,463.8 719.33,465.0 719.16,465.3 718.99,463.6 718.83,464.0 718.66,467.0 718.49,470.5 718.33,468.9 718.16,469.9 717.99,470.5 717.83,472.2 717.66,472.6 717.49,469.9 717.32,472.7 717.16,472.7 716.99,474.4 716.82,473.4 716.66,473.1 716.49,474.0 716.32,474.8 716.16,471.9 715.99,471.6 715.82,470.7 715.65,472.3 715.49,471.9 715.32,470.9 715.15,469.4 714.99,472.8 714.82,472.5 714.65,474.1 714.49,474.4 714.32,471.4 714.15,471.8 713.98,469.0 713.82,468.0 713.65,472.2 713.48,468.4 713.32,469.7 713.15,469.2 712.98,473.4 712.82,471.3 712.65,474.4 712.48,472.6 712.31,473.9 712.15,475.7 711.98,475.7 711.81,477.6 711.65,474.2 711.48,475.9 711.31,478.2 711.15,480.2 710.98,475.4 710.81,481.1 710.64,480.0 710.48,476.6 710.31,481.0 710.14,480.4 709.98,483.1 709.81,480.1 709.64,483.2 709.48,483.5 709.31,484.2 709.14,484.8 708.97,487.4 708.81,488.4 708.64,485.9 708.47,485.6 708.31,488.5 708.14,490.0 707.97,489.7 707.81,490.5 707.64,489.7 707.47,491.2 707.30,491.4 707.14,495.3 706.97,497.2 706.80,493.8 706.64,495.5 706.47,492.7 706.30,495.5 706.14,496.3 705.97,493.0 705.80,494.3 705.63,496.5 705.47,494.0 705.30,495.7 705.13,495.3 704.97,499.5 704.80,498.9 704.63,497.5 704.47,501.7 704.30,498.5 704.13,500.4 703.96,501.4 703.80,501.3 703.63,502.1 703.46,503.9 703.30,500.4 703.13,503.7 702.96,503.9 702.80,505.8 702.63,504.3 702.46,504.6 702.29,506.9 702.13,505.2 701.96,506.4 701.79,506.5 701.63,506.5 701.46,506.8 701.29,508.5 701.13,509.5 700.96,508.3 700.79,508.1 700.62,507.2 700.46,509.0 700.29,509.3 700.12,508.6 699.96,506.1 699.79,508.0 699.62,508.2 699.46,508.9 699.29,505.0 699.12,510.1 698.95,509.3 698.79,509.2 698.62,509.8 698.45,508.5 698.29,507.9 698.12,508.6 697.95,506.8 697.79,508.7 697.62,507.8 697.45,508.8 697.28,508.5 697.12,508.0 696.95,508.4 696.78,507.7 696.62,506.0 696.45,507.1 696.28,504.2 696.12,509.1 695.95,506.0 695.78,506.1 695.61,506.2 695.45,509.8 695.28,508.9 695.11,510.0 694.95,508.3 694.78,511.4 694.61,509.6 694.45,511.4 694.28,510.6 694.11,514.8 693.94,508.9 693.78,512.0 693.61,512.8 693.44,513.9 693.28,512.2 693.11,512.8 692.94,513.5 692.78,514.0 692.61,512.8 692.44,515.3 692.27,514.4 692.11,511.7 691.94,512.3 691.77,515.3 691.61,514.9 691.44,511.0 691.27,513.2 691.11,516.3 690.94,514.3 690.77,515.1 690.60,513.3 690.44,511.8 690.27,513.5 690.10,514.3 689.94,515.2 689.77,516.5 689.60,516.3 689.44,515.8 689.27,515.8 689.10,512.9 688.93,515.2 688.77,517.1 688.60,514.4 688.43,514.6 688.27,515.1 688.10,511.7 687.93,511.0 687.77,515.6 687.60,513.7 687.43,511.5 687.26,509.3 687.10,512.5 686.93,512.1 686.76,511.0 686.60,511.4 686.43,509.0 686.26,507.8 686.10,508.2 685.93,507.5 685.76,507.6 685.59,509.9 685.43,506.4 685.26,508.1 685.09,507.8 684.93,509.6 684.76,508.3 684.59,506.8 684.43,508.1 684.26,508.8 684.09,508.1 683.92,508.0 683.76,508.2 683.59,504.5 683.42,507.6 683.26,503.9 683.09,508.9 682.92,507.6 682.76,507.0 682.59,505.5 682.42,507.2 682.25,508.3 682.09,507.1 681.92,506.2 681.75,504.3 681.59,504.9 681.42,503.5 681.25,505.4 681.09,503.7 680.92,501.4 680.75,505.0 680.58,503.1 680.42,503.1 680.25,502.7 680.08,502.7 679.92,503.0 679.75,502.9 679.58,505.4 679.42,504.0 679.25,502.9 679.08,504.9 678.91,503.4 678.75,504.2 678.58,505.8 678.41,505.4 678.25,501.3 678.08,505.5 677.91,504.5 677.75,505.4 677.58,507.7 677.41,507.5 677.24,509.3 677.08,508.3 676.91,509.4 676.74,508.0 676.58,508.3 676.41,511.0 676.24,509.7 676.08,509.8 675.91,511.4 675.74,512.2 675.57,510.1 675.41,511.2 675.24,511.0 675.07,509.6 674.91,514.2 674.74,514.2 674.57,513.2 674.41,512.6 674.24,511.7 674.07,510.2 673.90,509.4 673.74,509.7 673.57,509.3 673.40,509.5 673.24,508.6 673.07,507.3 672.90,505.0 672.74,507.9 672.57,505.5 672.40,509.1 672.23,506.6 672.07,506.2 671.90,502.9 671.73,504.8 671.57,503.1 671.40,501.2 671.23,502.4 671.07,504.9 670.90,502.4 670.73,503.4 670.56,504.6 670.40,503.5 670.23,504.9 670.06,503.6 669.90,506.8 669.73,504.1 669.56,502.7 669.40,506.5 669.23,501.7 669.06,504.2 668.89,504.9 668.73,506.2 668.56,507.1 668.39,506.3 668.23,506.9 668.06,505.0 667.89,508.4 667.73,507.4 667.56,507.0 667.39,507.6 667.22,512.8 667.06,506.7 666.89,506.8 666.72,510.3 666.56,509.7 666.39,510.8 666.22,509.4 666.06,509.5 665.89,513.2 665.72,509.5 665.55,509.6 665.39,510.2 665.22,511.4 665.05,511.9 664.89,510.0 664.72,512.9 664.55,510.2 664.39,512.0 664.22,512.6 664.05,512.9 663.88,510.6 663.72,511.0 663.55,510.6 663.38,510.0 663.22,510.6 663.05,511.4 662.88,510.4 662.72,511.3 662.55,510.4 662.38,511.8 662.21,511.4 662.05,514.5 661.88,512.9 661.71,513.5 661.55,517.2 661.38,512.7 661.21,514.7 661.05,514.6 660.88,516.9 660.71,515.8 660.54,517.0 660.38,516.6 660.21,515.4 660.04,517.9 659.88,515.3 659.71,513.6 659.54,515.5 659.38,515.2 659.21,517.4 659.04,513.5 658.87,512.8 658.71,513.4 658.54,514.1 658.37,512.7 658.21,513.6 658.04,514.2 657.87,510.6 657.71,511.4 657.54,511.6 657.37,510.9 657.20,510.2 657.04,509.7 656.87,509.0 656.70,509.8 656.54,510.5 656.37,508.1 656.20,509.4 656.04,508.0 655.87,507.7 655.70,508.5 655.53,507.5 655.37,507.5 655.20,506.6 655.03,505.1 654.87,506.3 654.70,505.9 654.53,503.8 654.37,502.7 654.20,502.7 654.03,501.1 653.86,504.2 653.70,500.8 653.53,502.3 653.36,505.5 653.20,502.4 653.03,501.5 652.86,503.4 652.70,504.4 652.53,500.6 652.36,503.9 652.19,504.2 652.03,504.7 651.86,505.4 651.69,505.9 651.53,508.6 651.36,504.7 651.19,509.5 651.03,508.8 650.86,509.0 650.69,507.6 650.52,510.8 650.36,507.5 650.19,508.4 650.02,505.3 649.86,506.8 649.69,507.0 649.52,510.1 649.36,507.2 649.19,507.0 649.02,508.1 648.85,507.9 648.69,506.6 648.52,506.4 648.35,509.2 648.19,507.8 648.02,506.8 647.85,505.2 647.69,505.9 647.52,507.8 647.35,508.4 647.18,508.3 647.02,508.6 646.85,510.2 646.68,509.1 646.52,513.1 646.35,511.5 646.18,509.2 646.02,507.7 645.85,509.8 645.68,507.0 645.51,504.7 645.35,505.4 645.18,503.9 645.01,504.6 644.85,506.0 644.68,501.8 644.51,500.5 644.35,506.7 644.18,503.2 644.01,500.8 643.84,504.8 643.68,499.3 643.51,504.6 643.34,500.0 643.18,500.9 643.01,501.7 642.84,500.0 642.68,503.6 642.51,500.4 642.34,501.4 642.17,500.1 642.01,500.5 641.84,501.6 641.67,500.2 641.51,501.1 641.34,500.9 641.17,503.7 641.01,499.9 640.84,501.1 640.67,498.0 640.50,499.9 640.34,502.5 640.17,500.9 640.00,498.5 639.84,500.5 639.67,500.8 639.50,499.2 639.34,500.9 639.17,499.9 639.00,497.7 638.83,499.0 638.67,498.2 638.50,499.0 638.33,497.4 638.17,498.8 638.00,497.5 637.83,496.5 637.67,497.4 637.50,495.8 637.33,497.3 637.16,496.8 637.00,497.8 636.83,495.3 636.66,498.6 636.50,498.7 636.33,499.8 636.16,498.0 636.00,501.7 635.83,500.8 635.66,497.8 635.49,501.3 635.33,498.9 635.16,501.1 634.99,502.6 634.83,499.7 634.66,503.4 634.49,504.0 634.33,504.5 634.16,503.7 633.99,505.0 633.82,504.4 633.66,505.8 633.49,503.2 633.32,507.1 633.16,507.2 632.99,505.1 632.82,506.4 632.66,507.9 632.49,508.3 632.32,508.4 632.15,508.1 631.99,503.9 631.82,506.1 631.65,506.5 631.49,506.7 631.32,505.5 631.15,504.1 630.99,501.5 630.82,503.8 630.65,500.6 630.48,501.0 630.32,500.0 630.15,502.1 629.98,496.9 629.82,499.2 629.65,498.7 629.48,498.7 629.32,497.9 629.15,497.1 628.98,496.9 628.81,495.6 628.65,498.1 628.48,496.7 628.31,499.1 628.15,497.3 627.98,498.2 627.81,497.7 627.65,500.3 627.48,499.7 627.31,500.5 627.14,500.9 626.98,498.3 626.81,501.5 626.64,501.9 626.48,501.2 626.31,500.4 626.14,503.7 625.98,499.7 625.81,500.1 625.64,501.2 625.47,504.5 625.31,502.4 625.14,500.6 624.97,501.8 624.81,503.3 624.64,502.4 624.47,498.7 624.31,501.2 624.14,505.2 623.97,503.8 623.80,505.9 623.64,504.8 623.47,504.3 623.30,503.8 623.14,503.4 622.97,506.7 622.80,508.0 622.64,505.4 622.47,508.7 622.30,506.0 622.13,506.3 621.97,505.3 621.80,502.9 621.63,508.2 621.47,507.8 621.30,507.3 621.13,502.4 620.97,507.4 620.80,507.0 620.63,506.3 620.46,504.2 620.30,508.9 620.13,505.3 619.96,507.9 619.80,508.6 619.63,506.8 619.46,508.1 619.30,506.8 619.13,507.9 618.96,507.9 618.79,509.6 618.63,508.9 618.46,510.4 618.29,511.1 618.13,511.4 617.96,507.5 617.79,507.0 617.63,510.1 617.46,510.5 617.29,510.5 617.12,505.1 616.96,507.9 616.79,509.4 616.62,509.5 616.46,506.2 616.29,509.1 616.12,509.7 615.96,508.2 615.79,505.1 615.62,506.1 615.45,508.2 615.29,506.0 615.12,507.9 614.95,508.4 614.79,506.6 614.62,504.7 614.45,507.6 614.29,505.5 614.12,507.3 613.95,505.1 613.78,507.2 613.62,501.4 613.45,501.7 613.28,505.1 613.12,503.2 612.95,501.7 612.78,501.7 612.62,503.3 612.45,503.9 612.28,500.0 612.11,496.6 611.95,496.7 611.78,497.6 611.61,495.2 611.45,498.4 611.28,500.8 611.11,497.0 610.95,496.6 610.78,498.4 610.61,500.3 610.44,496.0 610.28,497.9 610.11,496.4 609.94,499.3 609.78,501.0 609.61,502.5 609.44,499.8 609.28,501.0 609.11,502.4 608.94,503.6 608.77,504.0 608.61,502.7 608.44,501.7 608.27,503.6 608.11,503.0 607.94,503.0 607.77,504.2 607.61,498.9 607.44,502.3 607.27,502.0 607.10,500.6 606.94,500.4 606.77,502.2 606.60,502.1 606.44,500.3 606.27,501.4 606.10,498.6 605.94,502.8 605.77,506.8 605.60,505.0 605.43,503.8 605.27,505.5 605.10,503.6 604.93,504.8 604.77,505.3 604.60,504.0 604.43,503.3 604.27,503.3 604.10,507.5 603.93,502.1 603.76,504.5 603.60,504.0 603.43,500.4 603.26,501.7 603.10,501.6 602.93,498.4 602.76,500.7 602.60,498.8 602.43,499.0 602.26,497.2 602.09,498.6 601.93,498.8 601.76,496.7 601.59,496.3 601.43,497.9 601.26,497.8 601.09,495.5 600.93,495.9 600.76,497.4 600.59,495.0 600.42,494.4 600.26,494.0 600.09,495.1 599.92,495.5 599.76,495.9 599.59,495.7 599.42,494.1 599.26,495.4 599.09,494.8 598.92,498.0 598.75,496.2 598.59,494.8 598.42,498.0 598.25,496.7 598.09,493.9 597.92,494.3 597.75,495.2 597.59,495.7 597.42,492.0 597.25,495.2 597.08,492.7 596.92,492.8 596.75,493.0 596.58,496.1 596.42,492.8 596.25,493.2 596.08,489.4 595.92,490.7 595.75,489.4 595.58,492.9 595.41,491.3 595.25,489.1 595.08,489.7 594.91,491.1 594.75,493.4 594.58,489.1 594.41,491.5 594.25,491.0 594.08,492.4 593.91,494.5 593.74,494.9 593.58,491.6 593.41,495.1 593.24,493.7 593.08,493.4 592.91,497.4 592.74,493.4 592.58,495.7 592.41,495.5 592.24,496.3 592.07,497.1 591.91,495.5 591.74,496.9 591.57,499.3 591.41,500.7 591.24,501.6 591.07,500.1 590.91,500.8 590.74,502.1 590.57,499.5 590.40,500.7 590.24,499.2 590.07,501.4 589.90,499.5 589.74,502.0 589.57,499.6 589.40,500.2 589.24,498.5 589.07,497.5 588.90,498.0 588.73,497.1 588.57,495.9 588.40,498.2 588.23,495.8 588.07,495.3 587.90,496.0 587.73,492.1 587.57,493.2 587.40,492.9 587.23,492.5 587.06,491.0 586.90,493.9 586.73,493.9 586.56,491.5 586.40,492.4 586.23,494.2 586.06,493.9 585.90,491.8 585.73,493.4 585.56,494.6 585.39,491.1 585.23,494.5 585.06,492.9 584.89,492.3 584.73,493.9 584.56,495.9 584.39,493.1 584.23,494.5 584.06,495.8 583.89,493.7 583.72,498.3 583.56,495.2 583.39,496.7 583.22,494.6 583.06,495.2 582.89,496.6 582.72,497.1 582.56,496.9 582.39,495.9 582.22,496.9 582.05,496.2 581.89,499.3 581.72,501.3 581.55,496.0 581.39,499.1 581.22,501.2 581.05,499.1 580.89,499.7 580.72,499.8 580.55,500.6 580.38,502.9 580.22,499.2 580.05,503.0 579.88,503.0 579.72,498.1 579.55,499.0 579.38,500.4 579.22,502.0 579.05,498.1 578.88,500.8 578.71,498.0 578.55,499.6 578.38,500.4 578.21,498.8 578.05,501.3 577.88,498.8 577.71,501.1 577.55,503.9 577.38,498.8 577.21,501.7 577.04,498.9 576.88,502.6 576.71,504.1 576.54,502.1 576.38,499.6 576.21,502.4 576.04,503.8 575.88,504.3 575.71,504.1 575.54,502.7 575.37,503.8 575.21,505.4 575.04,503.9 574.87,502.1 574.71,501.9 574.54,502.6 574.37,504.7 574.21,503.0 574.04,502.9 573.87,501.5 573.70,501.1 573.54,500.2 573.37,501.7 573.20,498.6 573.04,501.2 572.87,500.5 572.70,499.5 572.54,500.7 572.37,498.5 572.20,498.9 572.03,497.4 571.87,500.0 571.70,498.0 571.53,498.3 571.37,498.2 571.20,496.3 571.03,498.4 570.87,496.9 570.70,496.1 570.53,495.9 570.36,495.7 570.20,494.8 570.03,493.7 569.86,493.4 569.70,494.3 569.53,491.2 569.36,492.0 569.20,488.3 569.03,492.2 568.86,494.1 568.69,490.4 568.53,491.2 568.36,492.2 568.19,491.5 568.03,494.7 567.86,494.3 567.69,494.1 567.53,495.2 567.36,493.3 567.19,495.4 567.02,496.5 566.86,496.1 566.69,494.8 566.52,495.4 566.36,496.6 566.19,497.4 566.02,495.8 565.86,497.3 565.69,496.6 565.52,496.0 565.35,497.8 565.19,497.3 565.02,496.0 564.85,496.7 564.69,497.4 564.52,494.2 564.35,497.4 564.19,498.2 564.02,494.9 563.85,495.3 563.68,494.1 563.52,496.0 563.35,496.3 563.18,497.5 563.02,498.2 562.85,496.9 562.68,499.3 562.52,496.3 562.35,499.2 562.18,498.7 562.01,496.9 561.85,499.0 561.68,497.0 561.51,496.1 561.35,498.0 561.18,495.0 561.01,496.4 560.85,494.1 560.68,493.8 560.51,495.0 560.34,494.7 560.18,490.2 560.01,493.0 559.84,493.9 559.68,494.5 559.51,492.9 559.34,491.1 559.18,491.8 559.01,491.3 558.84,490.6 558.67,491.7 558.51,489.7 558.34,491.9 558.17,492.4 558.01,494.0 557.84,490.6 557.67,491.1 557.51,490.8 557.34,487.3 557.17,492.9 557.00,489.5 556.84,489.4 556.67,489.4 556.50,491.8 556.34,490.1 556.17,490.4 556.00,490.4 555.84,488.5 555.67,487.9 555.50,488.1 555.33,488.8 555.17,489.6 555.00,489.4 554.83,487.7 554.67,486.8 554.50,488.3 554.33,487.4 554.17,485.4 554.00,485.8 553.83,487.1 553.66,483.0 553.50,486.4 553.33,483.6 553.16,482.9 553.00,484.9 552.83,483.4 552.66,484.5 552.50,486.6 552.33,485.1 552.16,486.4 551.99,485.0 551.83,488.1 551.66,486.4 551.49,489.5 551.33,486.7 551.16,488.4 550.99,488.2 550.83,493.2 550.66,488.4 550.49,490.6 550.32,490.6 550.16,491.2 549.99,488.9 549.82,491.8 549.66,490.0 549.49,492.3 549.32,491.9 549.16,493.0 548.99,493.3 548.82,492.4 548.65,494.6 548.49,493.9 548.32,495.1 548.15,496.7 547.99,494.5 547.82,496.7 547.65,492.9 547.49,495.9 547.32,495.8 547.15,492.7 546.98,493.9 546.82,491.3 546.65,491.8 546.48,490.2 546.32,490.1 546.15,490.3 545.98,491.1 545.82,489.7 545.65,488.9 545.48,490.8 545.31,489.5 545.15,487.8 544.98,489.3 544.81,488.8 544.65,486.6 544.48,484.6 544.31,485.3 544.15,482.4 543.98,484.2 543.81,486.8 543.64,487.1 543.48,486.6 543.31,485.4 543.14,486.8 542.98,486.7 542.81,485.6 542.64,486.4 542.48,488.6 542.31,488.9 542.14,490.8 541.97,484.9 541.81,488.7 541.64,485.2 541.47,488.4 541.31,489.9 541.14,488.4 540.97,488.2 540.81,490.2 540.64,490.0 540.47,490.7 540.30,490.5 540.14,491.4 539.97,491.8 539.80,492.2 539.64,493.2 539.47,493.2 539.30,490.3 539.14,491.9 538.97,493.5 538.80,494.0 538.63,493.8 538.47,495.7 538.30,493.9 538.13,491.0 537.97,494.1 537.80,494.9 537.63,493.6 537.47,494.3 537.30,493.0 537.13,493.3 536.96,493.8 536.80,493.4 536.63,493.4 536.46,491.8 536.30,493.9 536.13,491.9 535.96,493.7 535.80,492.0 535.63,493.5 535.46,496.4 535.29,494.6 535.13,495.7 534.96,493.0 534.79,495.5 534.63,495.8 534.46,497.8 534.29,494.1 534.13,497.0 533.96,497.1 533.79,497.5 533.62,494.8 533.46,496.8 533.29,500.0 533.12,496.8 532.96,497.1 532.79,496.1 532.62,496.7 532.46,494.6 532.29,494.8 532.12,495.0 531.95,496.6 531.79,494.3 531.62,493.0 531.45,495.6 531.29,493.6 531.12,493.5 530.95,495.1 530.79,494.4 530.62,495.0 530.45,493.3 530.28,496.0 530.12,493.5 529.95,496.8 529.78,493.1 529.62,491.2 529.45,494.1 529.28,490.3 529.12,492.9 528.95,492.6 528.78,491.6 528.61,491.0 528.45,491.8 528.28,489.4 528.11,490.9 527.95,485.2 527.78,485.5 527.61,486.9 527.45,485.5 527.28,484.9 527.11,485.5 526.94,484.0 526.78,487.2 526.61,485.2 526.44,484.8 526.28,486.4 526.11,484.5 525.94,483.8 525.78,487.4 525.61,487.1 525.44,488.1 525.27,487.0 525.11,488.8 524.94,490.2 524.77,488.3 524.61,486.9 524.44,489.7 524.27,491.9 524.11,490.6 523.94,491.1 523.77,490.7 523.60,491.5 523.44,492.8 523.27,488.0 523.10,490.5 522.94,489.5 522.77,491.1 522.60,488.4 522.44,485.9 522.27,490.2 522.10,488.0 521.93,490.9 521.77,488.8 521.60,491.1 521.43,490.8 521.27,491.9 521.10,489.8 520.93,491.2 520.77,491.5 520.60,491.1 520.43,493.3 520.26,492.6 520.10,493.3 519.93,492.6 519.76,491.4 519.60,490.6 519.43,494.1 519.26,492.2 519.10,486.6 518.93,488.0 518.76,489.3 518.59,488.4 518.43,487.9 518.26,487.1 518.09,486.1 517.93,485.2 517.76,485.4 517.59,486.9 517.43,486.1 517.26,483.6 517.09,484.9 516.92,484.0 516.76,485.3 516.59,485.2 516.42,485.0 516.26,481.6 516.09,486.9 515.92,485.4 515.76,482.5 515.59,485.8 515.42,482.7 515.25,484.2 515.09,484.8 514.92,483.8 514.75,481.2 514.59,484.5 514.42,483.7 514.25,481.9 514.09,481.7 513.92,482.8 513.75,483.2 513.58,482.2 513.42,483.9 513.25,485.0 513.08,483.2 512.92,481.0 512.75,483.0 512.58,479.5 512.42,482.6 512.25,479.8 512.08,480.9 511.91,481.5 511.75,479.1 511.58,481.3 511.41,479.3 511.25,479.4 511.08,480.4 510.91,476.9 510.75,477.0 510.58,477.6 510.41,478.2 510.24,478.5 510.08,480.9 509.91,477.6 509.74,480.2 509.58,479.5 509.41,479.4 509.24,478.7 509.08,482.1 508.91,480.4 508.74,480.6 508.57,482.2 508.41,482.4 508.24,480.7 508.07,484.8 507.91,483.1 507.74,483.7 507.57,486.4 507.41,487.2 507.24,485.9 507.07,485.2 506.90,485.1 506.74,485.8 506.57,486.6 506.40,487.7 506.24,489.7 506.07,487.9 505.90,486.5 505.74,490.1 505.57,487.7 505.40,487.3 505.23,490.7 505.07,487.7 504.90,486.8 504.73,486.2 504.57,485.8 504.40,488.1 504.23,484.5 504.07,483.4 503.90,484.9 503.73,482.3 503.56,485.2 503.40,481.4 503.23,483.7 503.06,485.1 502.90,481.9 502.73,481.7 502.56,480.4 502.40,479.3 502.23,480.2 502.06,477.0 501.89,480.1 501.73,478.2 501.56,478.8 501.39,483.1 501.23,481.2 501.06,482.8 500.89,478.6 500.73,480.8 500.56,480.2 500.39,481.2 500.22,481.5 500.06,479.6 499.89,482.5 499.72,482.2 499.56,482.8 499.39,482.0 499.22,485.3 499.06,484.6 498.89,483.6 498.72,485.4 498.55,483.7 498.39,486.0 498.22,482.0 498.05,486.3 497.89,484.8 497.72,486.4 497.55,485.4 497.39,485.9 497.22,485.6 497.05,486.9 496.88,487.2 496.72,488.4 496.55,487.2 496.38,487.3 496.22,485.8 496.05,489.3 495.88,487.5 495.72,485.6 495.55,489.8 495.38,490.3 495.21,490.5 495.05,486.6 494.88,489.7 494.71,486.8 494.55,487.6 494.38,486.6 494.21,490.4 494.05,489.5 493.88,488.6 493.71,487.7 493.54,485.3 493.38,490.5 493.21,490.1 493.04,489.8 492.88,488.9 492.71,487.5 492.54,491.1 492.38,491.4 492.21,490.4 492.04,491.9 491.87,491.3 491.71,489.6 491.54,492.3 491.37,493.1 491.21,489.7 491.04,491.5 490.87,492.0 490.71,492.9 490.54,492.2 490.37,490.3 490.20,491.4 490.04,492.7 489.87,492.2 489.70,492.5 489.54,492.4 489.37,489.3 489.20,491.2 489.04,489.3 488.87,488.6 488.70,485.6 488.53,487.2 488.37,489.4 488.20,485.9 488.03,488.4 487.87,488.2 487.70,485.9 487.53,488.6 487.37,486.4 487.20,487.2 487.03,486.6 486.86,485.1 486.70,485.3 486.53,486.6 486.36,487.7 486.20,483.6 486.03,486.7 485.86,482.6 485.70,484.7 485.53,484.4 485.36,481.4 485.19,482.0 485.03,479.6 484.86,481.9 484.69,480.6 484.53,480.2 484.36,481.2 484.19,479.7 484.03,480.1 483.86,482.2 483.69,481.0 483.52,480.2 483.36,480.7 483.19,483.3 483.02,481.2 482.86,481.4 482.69,482.8 482.52,482.4 482.36,487.6 482.19,488.2 482.02,485.7 481.85,486.9 481.69,486.0 481.52,485.6 481.35,486.8 481.19,486.1 481.02,485.4 480.85,484.8 480.69,485.8 480.52,487.5 480.35,487.4 480.18,487.0 480.02,486.5 479.85,482.5 479.68,485.2 479.52,487.2 479.35,481.6 479.18,487.8 479.02,486.0 478.85,489.3 478.68,487.3 478.51,485.4 478.35,489.6 478.18,488.2 478.01,487.3 477.85,486.4 477.68,488.2 477.51,488.9 477.35,486.1 477.18,485.9 477.01,487.1 476.84,486.4 476.68,484.6 476.51,485.9 476.34,484.2 476.18,484.7 476.01,481.1 475.84,480.3 475.68,481.4 475.51,481.8 475.34,482.8 475.17,480.2 475.01,483.3 474.84,483.3 474.67,480.5 474.51,483.5 474.34,480.6 474.17,480.7 474.01,482.1 473.84,481.1 473.67,480.1 473.50,478.4 473.34,479.9 473.17,482.3 473.00,482.8 472.84,482.1 472.67,479.2 472.50,481.2 472.34,480.3 472.17,480.1 472.00,480.3 471.83,480.5 471.67,482.1 471.50,479.9 471.33,479.7 471.17,480.7 471.00,479.0 470.83,479.4 470.67,478.4 470.50,477.6 470.33,478.0 470.16,477.4 470.00,477.3 469.83,476.1 469.66,480.0 469.50,477.0 469.33,480.9 469.16,478.0 469.00,477.5 468.83,474.4 468.66,475.0 468.49,475.9 468.33,476.5 468.16,475.4 467.99,474.8 467.83,474.2 467.66,478.3 467.49,477.6 467.33,478.0 467.16,477.4 466.99,475.9 466.82,476.7 466.66,481.4 466.49,479.7 466.32,480.4 466.16,478.2 465.99,479.5 465.82,484.3 465.66,480.7 465.49,479.7 465.32,480.3 465.15,483.6 464.99,480.6 464.82,483.5 464.65,482.6 464.49,485.8 464.32,484.4 464.15,481.6 463.99,485.5 463.82,486.2 463.65,484.7 463.48,485.0 463.32,486.8 463.15,486.6 462.98,485.7 462.82,484.4 462.65,486.1 462.48,485.4 462.32,486.5 462.15,487.4 461.98,482.7 461.81,482.6 461.65,482.2 461.48,484.2 461.31,481.7 461.15,480.2 460.98,480.2 460.81,479.7 460.65,479.1 460.48,477.4 460.31,479.2 460.14,477.7 459.98,480.1 459.81,476.5 459.64,477.4 459.48,477.5 459.31,477.2 459.14,479.4 458.98,477.0 458.81,478.0 458.64,478.7 458.47,476.8 458.31,479.7 458.14,478.4 457.97,481.7 457.81,480.1 457.64,480.4 457.47,482.4 457.31,482.8 457.14,483.3 456.97,483.3 456.80,481.9 456.64,481.3 456.47,483.1 456.30,483.6 456.14,482.7 455.97,483.6 455.80,483.1 455.64,486.4 455.47,484.5 455.30,483.4 455.13,484.9 454.97,487.8 454.80,486.2 454.63,486.7 454.47,486.1 454.30,486.5 454.13,487.6 453.97,486.3 453.80,486.5 453.63,486.6 453.46,489.1 453.30,489.0 453.13,491.1 452.96,487.2 452.80,488.9 452.63,487.6 452.46,486.8 452.30,488.7 452.13,489.7 451.96,491.4 451.79,485.7 451.63,486.9 451.46,489.2 451.29,489.2 451.13,487.2 450.96,487.4 450.79,489.3 450.63,489.2 450.46,489.5 450.29,490.9 450.12,488.6 449.96,492.9 449.79,492.4 449.62,490.4 449.46,493.6 449.29,490.5 449.12,494.9 448.96,493.2 448.79,493.2 448.62,492.6 448.45,493.8 448.29,490.1 448.12,490.1 447.95,492.8 447.79,492.6 447.62,491.5 447.45,491.4 447.29,490.0 447.12,492.1 446.95,492.5 446.78,489.3 446.62,492.0 446.45,490.5 446.28,488.7 446.12,489.5 445.95,490.7 445.78,489.2 445.62,488.8 445.45,490.1 445.28,489.6 445.11,490.7 444.95,487.2 444.78,486.4 444.61,489.2 444.45,488.7 444.28,486.8 444.11,487.1 443.95,487.1 443.78,484.9 443.61,488.7 443.44,486.2 443.28,484.1 443.11,483.2 442.94,483.0 442.78,483.8 442.61,484.5 442.44,481.8 442.28,480.3 442.11,481.5 441.94,482.3 441.77,484.3 441.61,480.8 441.44,485.2 441.27,486.5 441.11,485.3 440.94,482.9 440.77,484.7 440.61,485.3 440.44,483.4 440.27,486.0 440.10,484.5 439.94,486.4 439.77,486.3 439.60,486.8 439.44,487.3 439.27,488.9 439.10,488.9 438.94,487.5 438.77,489.3 438.60,489.2 438.43,485.6 438.27,489.1 438.10,489.6 437.93,486.8 437.77,486.9 437.60,489.8 437.43,487.3 437.27,490.9 437.10,487.4 436.93,487.9 436.76,486.4 436.60,490.7 436.43,488.4 436.26,487.5 436.10,490.4 435.93,493.3 435.76,490.4 435.60,488.7 435.43,490.5 435.26,494.2 435.09,488.1 434.93,493.2 434.76,491.0 434.59,491.2 434.43,488.7 434.26,491.3 434.09,486.9 433.93,487.6 433.76,487.1 433.59,486.1 433.42,485.2 433.26,486.8 433.09,485.9 432.92,485.7 432.76,484.8 432.59,485.9 432.42,484.0 432.26,486.0 432.09,485.8 431.92,483.7 431.75,482.8 431.59,482.3 431.42,484.2 431.25,482.7 431.09,486.2 430.92,480.5 430.75,483.6 430.59,485.5 430.42,483.7 430.25,484.0 430.08,480.8 429.92,488.0 429.75,483.9 429.58,482.8 429.42,482.5 429.25,482.7 429.08,484.6 428.92,482.4 428.75,482.5 428.58,483.8 428.41,480.8 428.25,483.4 428.08,481.1 427.91,480.3 427.75,482.4 427.58,482.0 427.41,482.6 427.25,481.1 427.08,480.8 426.91,480.2 426.74,479.0 426.58,480.8 426.41,480.2 426.24,478.2 426.08,476.9 425.91,480.3 425.74,480.3 425.58,480.6 425.41,483.2 425.24,481.9 425.07,480.9 424.91,483.9 424.74,485.0 424.57,483.2 424.41,488.8 424.24,483.2 424.07,483.4 423.91,481.6 423.74,483.7 423.57,481.9 423.40,488.7 423.24,485.8 423.07,486.4 422.90,488.0 422.74,486.2 422.57,489.7 422.40,488.7 422.24,487.6 422.07,488.5 421.90,489.2 421.73,488.0 421.57,490.2 421.40,488.6 421.23,491.4 421.07,489.1 420.90,493.8 420.73,489.3 420.57,491.7 420.40,488.0 420.23,487.4 420.06,488.8 419.90,487.1 419.73,487.3 419.56,488.4 419.40,488.5 419.23,488.5 419.06,486.5 418.90,483.8 418.73,485.7 418.56,484.6 418.39,486.2 418.23,484.4 418.06,483.0 417.89,482.6 417.73,482.8 417.56,481.0 417.39,482.8 417.23,484.0 417.06,482.0 416.89,485.1 416.72,484.0 416.56,485.5 416.39,485.1 416.22,483.4 416.06,485.3 415.89,485.0 415.72,484.7 415.56,486.1 415.39,483.4 415.22,485.7 415.05,482.5 414.89,485.4 414.72,486.7 414.55,486.3 414.39,484.0 414.22,484.3 414.05,488.0 413.89,486.7 413.72,486.4 413.55,489.2 413.38,488.8 413.22,487.2 413.05,486.2 412.88,489.7 412.72,490.7 412.55,491.9 412.38,491.0 412.22,491.6 412.05,490.7 411.88,486.9 411.71,491.2 411.55,494.0 411.38,490.2 411.21,492.9 411.05,495.6 410.88,494.3 410.71,491.1 410.55,493.6 410.38,492.8 410.21,493.5 410.04,492.7 409.88,492.6 409.71,492.3 409.54,492.6 409.38,493.5 409.21,493.6 409.04,492.4 408.88,492.1 408.71,493.0 408.54,492.2 408.37,493.9 408.21,492.3 408.04,498.7 407.87,498.3 407.71,495.3 407.54,498.3 407.37,496.7 407.21,495.5 407.04,495.3 406.87,497.9 406.70,496.9 406.54,498.5 406.37,496.2 406.20,497.9 406.04,499.1 405.87,498.7 405.70,498.3 405.54,494.1 405.37,495.5 405.20,492.6 405.03,495.5 404.87,495.0 404.70,494.8 404.53,493.8 404.37,495.8 404.20,495.1 404.03,495.3 403.87,494.2 403.70,493.0 403.53,493.6 403.36,495.1 403.20,492.5 403.03,491.1 402.86,493.4 402.70,494.6 402.53,493.6 402.36,491.9 402.20,493.0 402.03,491.0 401.86,491.1 401.69,491.3 401.53,487.5 401.36,490.1 401.19,490.3 401.03,488.3 400.86,489.1 400.69,487.5 400.53,486.6 400.36,487.4 400.19,487.0 400.02,483.0 399.86,485.1 399.69,487.2 399.52,486.3 399.36,488.9 399.19,486.8 399.02,485.3 398.86,488.0 398.69,489.4 398.52,490.4 398.35,488.8 398.19,490.6 398.02,489.4 397.85,494.0 397.69,491.0 397.52,489.5 397.35,491.3 397.19,491.7 397.02,493.4 396.85,494.5 396.68,491.9 396.52,493.0 396.35,493.1 396.18,490.4 396.02,492.2 395.85,489.5 395.68,493.7 395.52,492.3 395.35,494.6 395.18,493.5 395.01,490.5 394.85,494.5 394.68,491.2 394.51,492.3 394.35,492.2 394.18,496.1 394.01,494.1 393.85,494.9 393.68,493.4 393.51,493.6 393.34,494.9 393.18,495.6 393.01,496.4 392.84,496.4 392.68,497.8 392.51,493.5 392.34,494.1 392.18,493.5 392.01,496.1 391.84,492.4 391.67,492.3 391.51,494.3 391.34,491.4 391.17,491.0 391.01,490.4 390.84,491.6 390.67,488.0 390.51,490.3 390.34,489.3 390.17,488.0 390.00,490.6 389.84,490.9 389.67,488.7 389.50,488.8 389.34,489.8 389.17,487.3 389.00,491.5 388.84,490.0 388.67,489.5 388.50,488.7 388.33,489.8 388.17,490.3 388.00,487.3 387.83,490.6 387.67,490.2 387.50,489.1 387.33,487.4 387.17,487.0 387.00,488.7 386.83,488.6 386.66,487.9 386.50,488.0 386.33,488.5 386.16,486.6 386.00,486.5 385.83,488.3 385.66,487.2 385.50,485.1 385.33,487.6 385.16,485.8 384.99,485.7 384.83,487.3 384.66,485.2 384.49,482.7 384.33,484.2 384.16,485.0 383.99,486.0 383.83,482.3 383.66,483.8 383.49,483.4 383.32,487.1 383.16,486.1 382.99,485.4 382.82,488.2 382.66,487.7 382.49,485.5 382.32,486.4 382.16,487.8 381.99,489.2 381.82,488.7 381.65,490.0 381.49,487.7 381.32,489.9 381.15,491.3 380.99,492.2 380.82,493.5 380.65,492.3 380.49,494.0 380.32,491.3 380.15,492.5 379.98,494.0 379.82,492.7 379.65,494.0 379.48,496.2 379.32,493.5 379.15,494.7 378.98,493.3 378.82,497.2 378.65,495.0 378.48,494.4 378.31,493.4 378.15,492.9 377.98,493.3 377.81,492.6 377.65,493.3 377.48,494.1 377.31,492.8 377.15,492.6 376.98,489.4 376.81,489.9 376.64,492.0 376.48,490.7 376.31,488.6 376.14,490.0 375.98,490.5 375.81,489.1 375.64,487.6 375.48,487.3 375.31,489.6 375.14,488.2 374.97,486.7 374.81,484.9 374.64,487.7 374.47,486.8 374.31,488.7 374.14,488.7 373.97,486.9 373.81,486.8 373.64,493.5 373.47,490.2 373.30,487.7 373.14,486.7 372.97,488.9 372.80,489.5 372.64,491.9 372.47,490.1 372.30,491.7 372.14,489.8 371.97,491.6 371.80,489.4 371.63,490.1 371.47,490.9 371.30,493.4 371.13,489.6 370.97,491.9 370.80,493.7 370.63,492.5 370.47,493.6 370.30,495.3 370.13,491.8 369.96,492.5 369.80,496.0 369.63,497.4 369.46,494.4 369.30,492.4 369.13,497.2 368.96,494.8 368.80,497.2 368.63,500.4 368.46,498.6 368.29,495.7 368.13,494.3 367.96,496.5 367.79,494.3 367.63,495.6 367.46,498.0 367.29,497.1 367.13,495.0 366.96,495.6 366.79,495.7 366.62,496.4 366.46,496.3 366.29,499.5 366.12,496.2 365.96,497.0 365.79,499.7 365.62,500.0 365.46,498.5 365.29,502.6 365.12,501.7 364.95,499.6 364.79,500.4 364.62,497.9 364.45,499.6 364.29,501.0 364.12,498.2 363.95,502.2 363.79,498.2 363.62,498.8 363.45,501.0 363.28,500.8 363.12,498.1 362.95,497.9 362.78,498.7 362.62,500.1 362.45,499.5 362.28,497.3 362.12,500.0 361.95,499.1 361.78,498.6 361.61,498.1 361.45,495.8 361.28,497.4 361.11,499.6 360.95,496.1 360.78,499.7 360.61,494.1 360.45,498.6 360.28,494.9 360.11,496.2 359.94,496.8 359.78,492.4 359.61,496.0 359.44,496.7 359.28,494.9 359.11,492.6 358.94,494.0 358.78,492.3 358.61,493.1 358.44,490.6 358.27,489.4 358.11,491.7 357.94,487.9 357.77,486.9 357.61,489.8 357.44,490.2 357.27,486.2 357.11,492.0 356.94,490.4 356.77,492.1 356.60,490.6 356.44,491.0 356.27,492.8 356.10,491.5 355.94,490.3 355.77,493.4 355.60,492.4 355.44,495.6 355.27,493.3 355.10,495.6 354.93,495.5 354.77,497.4 354.60,495.0 354.43,495.5 354.27,497.4 354.10,498.2 353.93,498.6 353.77,493.0 353.60,495.9 353.43,492.9 353.26,494.3 353.10,493.4 352.93,494.0 352.76,494.2 352.60,494.4 352.43,494.6 352.26,496.7 352.10,495.9 351.93,495.2 351.76,499.5 351.59,497.0 351.43,498.3 351.26,497.9 351.09,497.7 350.93,496.5 350.76,495.5 350.59,500.3 350.43,497.3 350.26,497.7 350.09,495.3 349.92,494.3 349.76,498.3 349.59,494.1 349.42,495.6 349.26,493.4 349.09,493.5 348.92,496.4 348.76,490.2 348.59,491.3 348.42,493.1 348.25,489.4 348.09,489.5 347.92,490.6 347.75,490.1 347.59,487.9 347.42,488.6 347.25,491.1 347.09,490.2 346.92,492.5 346.75,491.9 346.58,491.0 346.42,489.4 346.25,489.5 346.08,489.2 345.92,490.9 345.75,490.6 345.58,491.1 345.42,489.5 345.25,491.1 345.08,488.8 344.91,491.3 344.75,489.4 344.58,489.6 344.41,490.1 344.25,488.5 344.08,489.4 343.91,489.6 343.75,488.2 343.58,489.6 343.41,489.8 343.24,489.2 343.08,485.8 342.91,491.3 342.74,486.8 342.58,487.3 342.41,487.6 342.24,487.0 342.08,487.3 341.91,486.9 341.74,489.0 341.57,487.1 341.41,486.6 341.24,487.1 341.07,484.4 340.91,485.3 340.74,486.8 340.57,488.3 340.41,486.5 340.24,489.6 340.07,487.2 339.90,488.0 339.74,487.3 339.57,490.1 339.40,486.2 339.24,488.9 339.07,491.3 338.90,490.7 338.74,492.2 338.57,492.7 338.40,492.7 338.23,492.2 338.07,492.5 337.90,492.2 337.73,494.2 337.57,495.4 337.40,494.3 337.23,494.4 337.07,495.8 336.90,496.5 336.73,496.7 336.56,497.3 336.40,496.9 336.23,498.4 336.06,495.1 335.90,498.2 335.73,495.0 335.56,495.3 335.40,496.1 335.23,494.0 335.06,491.5 334.89,493.1 334.73,490.9 334.56,491.7 334.39,490.3 334.23,495.3 334.06,489.1 333.89,492.4 333.73,492.0 333.56,489.2 333.39,491.2 333.22,491.3 333.06,486.6 332.89,487.0 332.72,488.8 332.56,487.7 332.39,484.9 332.22,489.3 332.06,488.0 331.89,486.8 331.72,488.9 331.55,491.1 331.39,491.4 331.22,490.9 331.05,490.6 330.89,491.5 330.72,491.5 330.55,491.8 330.39,493.3 330.22,492.1 330.05,492.6 329.88,491.3 329.72,491.2 329.55,491.4 329.38,493.3 329.22,496.6 329.05,493.4 328.88,494.8 328.72,493.3 328.55,496.1 328.38,494.0 328.21,493.6 328.05,496.2 327.88,493.2 327.71,497.1 327.55,497.7 327.38,495.8 327.21,496.8 327.05,500.1 326.88,496.7 326.71,499.8 326.54,498.0 326.38,499.1 326.21,498.8 326.04,499.5 325.88,498.0 325.71,497.5 325.54,499.4 325.38,496.3 325.21,495.5 325.04,494.7 324.87,499.1 324.71,499.0 324.54,495.3 324.37,501.2 324.21,498.5 324.04,496.9 323.87,500.0 323.71,498.6 323.54,501.4 323.37,500.1 323.20,498.1 323.04,499.3 322.87,499.1 322.70,500.9 322.54,503.6 322.37,500.0 322.20,502.5 322.04,499.7 321.87,500.8 321.70,498.3 321.53,500.3 321.37,502.1 321.20,501.2 321.03,498.8 320.87,502.0 320.70,500.6 320.53,499.7 320.37,496.1 320.20,502.0 320.03,499.6 319.86,499.5 319.70,499.5 319.53,499.2 319.36,500.0 319.20,500.1 319.03,498.5 318.86,498.1 318.70,496.5 318.53,497.0 318.36,496.2 318.19,498.0 318.03,496.4 317.86,496.1 317.69,494.0 317.53,496.8 317.36,497.7 317.19,495.9 317.03,497.1 316.86,495.8 316.69,493.3 316.52,494.6 316.36,493.7 316.19,489.6 316.02,491.2 315.86,491.5 315.69,492.2 315.52,491.4 315.36,490.8 315.19,489.4 315.02,489.4 314.85,489.9 314.69,491.3 314.52,491.2 314.35,491.8 314.19,491.4 314.02,494.3 313.85,490.2 313.69,494.0 313.52,491.2 313.35,491.4 313.18,494.7 313.02,493.5 312.85,495.0 312.68,495.8 312.52,497.3 312.35,494.8 312.18,499.0 312.02,496.2 311.85,497.0 311.68,495.4 311.51,496.9 311.35,495.7 311.18,496.9 311.01,495.2 310.85,495.9 310.68,492.8 310.51,497.0 310.35,493.0 310.18,495.6 310.01,496.6 309.84,494.8 309.68,494.9 309.51,495.6 309.34,496.0 309.18,497.1 309.01,494.3 308.84,499.8 308.68,497.2 308.51,495.5 308.34,497.2 308.17,499.6 308.01,497.7 307.84,495.4 307.67,497.5 307.51,498.1 307.34,493.1 307.17,495.9 307.01,491.7 306.84,492.5 306.67,491.2 306.50,489.8 306.34,491.0 306.17,492.2 306.00,490.1 305.84,490.5 305.67,491.0 305.50,489.6 305.34,490.7 305.17,492.2 305.00,487.5 304.83,490.2 304.67,489.3 304.50,488.2 304.33,484.7 304.17,490.6 304.00,490.8 303.83,490.8 303.67,490.3 303.50,488.6 303.33,488.3 303.16,488.7 303.00,489.5 302.83,488.1 302.66,488.4 302.50,487.7 302.33,488.0 302.16,485.2 302.00,486.0 301.83,489.0 301.66,486.6 301.49,486.9 301.33,489.7 301.16,487.6 300.99,485.3 300.83,486.3 300.66,487.1 300.49,487.6 300.33,483.5 300.16,485.7 299.99,485.0 299.82,484.6 299.66,486.2 299.49,483.9 299.32,484.2 299.16,486.2 298.99,484.0 298.82,483.6 298.66,482.2 298.49,485.3 298.32,486.5 298.15,487.1 297.99,486.1 297.82,486.5 297.65,486.9 297.49,488.6 297.32,485.9 297.15,487.7 296.99,489.7 296.82,488.4 296.65,490.0 296.48,487.1 296.32,491.3 296.15,487.2 295.98,490.8 295.82,490.4 295.65,491.1 295.48,492.2 295.32,492.0 295.15,492.6 294.98,493.4 294.81,492.7 294.65,492.6 294.48,493.4 294.31,492.8 294.15,491.8 293.98,493.1 293.81,493.5 293.65,493.6 293.48,494.8 293.31,492.5 293.14,491.6 292.98,490.5 292.81,492.0 292.64,491.7 292.48,486.9 292.31,489.6 292.14,488.8 291.98,488.5 291.81,489.3 291.64,488.2 291.47,489.0 291.31,484.4 291.14,486.0 290.97,483.9 290.81,489.0 290.64,483.2 290.47,485.9 290.31,486.8 290.14,486.8 289.97,484.5 289.80,482.9 289.64,484.9 289.47,486.9 289.30,483.6 289.14,486.4 288.97,489.6 288.80,488.4 288.64,487.5 288.47,482.5 288.30,489.1 288.13,488.3 287.97,489.9 287.80,487.7 287.63,487.9 287.47,487.9 287.30,488.7 287.13,491.3 286.97,487.8 286.80,488.4 286.63,489.3 286.46,488.9 286.30,489.2 286.13,488.6 285.96,491.3 285.80,494.2 285.63,491.0 285.46,491.6 285.30,491.8 285.13,491.6 284.96,490.9 284.79,489.8 284.63,492.2 284.46,490.6 284.29,492.6 284.13,493.3 283.96,492.4 283.79,494.6 283.63,490.4 283.46,492.7 283.29,492.4 283.12,492.7 282.96,489.6 282.79,494.3 282.62,492.8 282.46,491.8 282.29,492.8 282.12,493.4 281.96,494.7 281.79,493.2 281.62,494.3 281.45,493.6 281.29,497.2 281.12,494.8 280.95,495.0 280.79,497.5 280.62,492.6 280.45,493.9 280.29,494.9 280.12,495.4 279.95,496.0 279.78,495.0 279.62,497.7 279.45,493.5 279.28,495.7 279.12,493.9 278.95,496.1 278.78,495.9 278.62,495.3 278.45,493.1 278.28,494.2 278.11,494.3 277.95,493.8 277.78,493.0 277.61,496.9 277.45,495.5 277.28,492.9 277.11,492.6 276.95,491.1 276.78,492.4 276.61,494.5 276.44,493.1 276.28,494.8 276.11,491.7 275.94,488.7 275.78,491.7 275.61,489.5 275.44,491.1 275.28,491.8 275.11,493.6 274.94,492.2 274.77,493.2 274.61,489.9 274.44,487.7 274.27,486.1 274.11,485.8 273.94,486.4 273.77,486.1 273.61,486.1 273.44,484.3 273.27,484.6 273.10,483.2 272.94,487.7 272.77,482.7 272.60,483.0 272.44,484.7 272.27,486.5 272.10,485.0 271.94,487.3 271.77,490.3 271.60,488.6 271.43,490.3 271.27,490.3 271.10,487.5 270.93,490.8 270.77,489.7 270.60,486.6 270.43,492.0 270.27,487.1 270.10,487.1 269.93,488.1 269.76,490.2 269.60,489.4 269.43,491.2 269.26,490.5 269.10,490.0 268.93,489.7 268.76,490.4 268.60,487.7 268.43,489.0 268.26,488.5 268.09,488.5 267.93,489.1 267.76,490.0 267.59,490.8 267.43,489.5 267.26,492.3 267.09,492.2 266.93,492.3 266.76,492.8 266.59,494.1 266.42,493.0 266.26,492.3 266.09,491.1 265.92,491.8 265.76,491.7 265.59,490.6 265.42,492.1 265.26,491.0 265.09,488.6 264.92,489.8 264.75,490.3 264.59,487.8 264.42,487.6 264.25,487.3 264.09,488.3 263.92,485.0 263.75,487.4 263.59,488.7 263.42,486.9 263.25,488.1 263.08,487.9 262.92,484.6 262.75,487.3 262.58,486.0 262.42,485.3 262.25,487.1 262.08,485.9 261.92,486.0 261.75,485.5 261.58,482.2 261.41,484.6 261.25,485.3 261.08,484.3 260.91,483.6 260.75,485.6 260.58,482.9 260.41,482.5 260.25,484.2 260.08,485.3 259.91,482.2 259.74,484.0 259.58,484.6 259.41,483.7 259.24,485.0 259.08,482.4 258.91,483.6 258.74,484.9 258.58,480.8 258.41,481.6 258.24,484.8 258.07,480.0 257.91,480.7 257.74,480.6 257.57,480.4 257.41,477.1 257.24,476.1 257.07,478.4 256.91,477.3 256.74,475.9 256.57,479.8 256.40,477.4 256.24,482.1 256.07,480.7 255.90,480.3 255.74,480.4 255.57,479.6 255.40,481.2 255.24,482.7 255.07,482.3 254.90,484.0 254.73,483.1 254.57,484.0 254.40,485.1 254.23,485.1 254.07,485.2 253.90,487.1 253.73,484.5 253.57,486.5 253.40,487.9 253.23,486.0 253.06,489.6 252.90,486.4 252.73,488.8 252.56,488.9 252.40,491.4 252.23,489.6 252.06,487.1 251.90,489.5 251.73,489.1 251.56,489.9 251.39,488.8 251.23,489.8 251.06,488.3 250.89,488.0 250.73,484.3 250.56,486.9 250.39,485.2 250.23,484.1 250.06,484.6 249.89,485.5 249.72,487.0 249.56,485.7 249.39,483.7 249.22,483.4 249.06,480.1 248.89,482.5 248.72,478.6 248.56,479.3 248.39,480.9 248.22,480.3 248.05,480.0 247.89,480.4 247.72,481.0 247.55,484.7 247.39,481.5 247.22,481.6 247.05,482.3 246.89,483.2 246.72,483.3 246.55,483.0 246.38,484.1 246.22,483.8 246.05,484.6 245.88,484.4 245.72,482.7 245.55,482.8 245.38,484.6 245.22,483.4 245.05,483.9 244.88,482.0 244.71,483.9 244.55,485.6 244.38,484.3 244.21,485.9 244.05,484.2 243.88,486.3 243.71,483.4 243.55,484.4 243.38,486.3 243.21,486.4 243.04,483.9 242.88,487.3 242.71,486.8 242.54,488.7 242.38,487.6 242.21,486.1 242.04,487.7 241.88,488.5 241.71,488.4 241.54,487.3 241.37,487.8 241.21,488.9 241.04,488.6 240.87,489.5 240.71,491.1 240.54,484.6 240.37,486.7 240.21,488.4 240.04,488.5 239.87,487.6 239.70,487.3 239.54,487.6 239.37,489.6 239.20,489.8 239.04,488.9 238.87,488.7 238.70,488.3 238.54,487.8 238.37,492.4 238.20,488.5 238.03,489.9 237.87,489.4 237.70,489.4 237.53,491.8 237.37,489.5 237.20,490.8 237.03,490.5 236.87,491.9 236.70,486.8 236.53,491.7 236.36,490.2 236.20,488.0 236.03,492.6 235.86,488.0 235.70,490.5 235.53,490.6 235.36,486.6 235.20,488.3 235.03,490.1 234.86,485.4 234.69,488.2 234.53,485.5 234.36,487.5 234.19,487.3 234.03,487.2 233.86,483.8 233.69,487.0 233.53,486.1 233.36,483.4 233.19,484.9 233.02,485.1 232.86,487.2 232.69,486.4 232.52,482.6 232.36,480.4 232.19,483.7 232.02,481.7 231.86,483.4 231.69,482.2 231.52,480.2 231.35,480.8 231.19,479.7 231.02,479.9 230.85,479.0 230.69,479.4 230.52,476.8 230.35,478.4 230.19,481.1 230.02,480.1 229.85,483.0 229.68,484.0 229.52,481.9 229.35,480.4 229.18,483.4 229.02,484.4 228.85,482.4 228.68,484.2 228.52,483.7 228.35,482.5 228.18,485.1 228.01,486.0 227.85,484.9 227.68,484.5 227.51,484.2 227.35,484.6 227.18,482.5 227.01,483.3 226.85,487.9 226.68,482.8 226.51,482.1 226.34,482.8 226.18,481.6 226.01,477.6 225.84,481.9 225.68,482.9 225.51,483.8 225.34,480.9 225.18,478.9 225.01,481.7 224.84,479.9 224.67,476.7 224.51,481.3 224.34,479.3 224.17,478.5 224.01,476.9 223.84,474.6 223.67,479.6 223.51,475.6 223.34,470.7 223.17,474.2 223.00,472.5 222.84,472.9 222.67,471.4 222.50,467.1 222.34,469.9 222.17,467.7 222.00,466.2 221.84,465.4 221.67,461.7 221.50,462.3 221.33,464.7 221.17,460.0 221.00,459.5 220.83,459.1 220.67,457.3 220.50,455.7 220.33,456.5 220.17,453.9 220.00,456.3 219.83,452.3 219.66,454.7 219.50,451.8 219.33,449.3 219.16,454.3 219.00,450.9 218.83,452.1 218.66,450.3 218.50,450.6 218.33,448.4 218.16,448.6 217.99,445.9 217.83,447.1 217.66,447.9 217.49,447.3 217.33,442.7 217.16,445.5 216.99,443.3 216.83,442.8 216.66,440.9 216.49,439.3 216.32,442.1 216.16,441.1 215.99,438.5 215.82,439.9 215.66,437.2 215.49,435.7 215.32,435.3 215.16,433.0 214.99,435.6 214.82,431.6 214.65,432.7 214.49,432.9 214.32,432.5 214.15,429.1 213.99,429.4 213.82,433.1 213.65,429.3 213.49,431.9 213.32,427.5 213.15,430.1 212.98,431.4 212.82,430.1 212.65,432.1 212.48,428.6 212.32,429.0 212.15,431.4 211.98,428.3 211.82,430.1 211.65,428.4 211.48,428.2 211.31,429.0 211.15,429.2 210.98,429.9 210.81,430.9 210.65,425.2 210.48,426.7 210.31,425.8 210.15,428.8 209.98,426.2 209.81,425.3 209.64,429.6 209.48,428.8 209.31,428.1 209.14,423.7 208.98,422.7 208.81,422.4 208.64,422.2 208.48,417.2 208.31,419.7 208.14,418.8 207.97,415.8 207.81,416.1 207.64,415.9 207.47,411.7 207.31,411.9 207.14,411.1 206.97,413.0 206.81,410.3 206.64,408.3 206.47,404.2 206.30,403.6 206.14,404.0 205.97,402.5 205.80,404.4 205.64,405.9 205.47,403.5 205.30,405.0 205.14,402.6 204.97,404.0 204.80,402.8 204.63,399.6 204.47,401.2 204.30,401.3 204.13,404.7 203.97,402.4 203.80,401.3 203.63,400.9 203.47,400.2 203.30,397.6 203.13,397.9 202.96,402.4 202.80,399.0 202.63,399.5 202.46,397.5 202.30,397.9 202.13,400.1 201.96,400.5 201.80,397.1 201.63,396.9 201.46,397.0 201.29,398.5 201.13,395.1 200.96,398.5 200.79,397.7 200.63,398.1 200.46,396.1 200.29,395.7 200.13,396.3 199.96,394.3 199.79,394.9 199.62,395.1 199.46,395.7 199.29,394.5 199.12,395.4 198.96,393.5 198.79,391.7 198.62,391.2 198.46,392.0 198.29,391.0 198.12,387.1 197.95,388.7 197.79,389.8 197.62,386.3 197.45,384.6 197.29,383.7 197.12,388.0 196.95,386.2 196.79,386.1 196.62,384.4 196.45,386.4 196.28,383.5 196.12,382.7 195.95,386.8 195.78,386.9 195.62,382.8 195.45,382.0 195.28,384.3 195.12,381.9 194.95,379.4 194.78,380.8 194.61,380.4 194.45,377.7 194.28,376.8 194.11,377.3 193.95,376.1 193.78,374.0 193.61,377.1 193.45,376.0 193.28,372.9 193.11,373.4 192.94,370.7 192.78,371.1 192.61,371.1 192.44,371.3 192.28,367.7 192.11,371.4 191.94,367.9 191.78,366.2 191.61,368.8 191.44,364.4 191.27,367.0 191.11,367.0 190.94,366.3 190.77,364.1 190.61,360.6 190.44,361.6 190.27,360.1 190.11,359.6 189.94,358.8 189.77,357.1 189.60,358.3 189.44,356.4 189.27,354.4 189.10,354.1 188.94,352.2 188.77,352.3 188.60,350.2 188.44,347.3 188.27,352.3 188.10,348.9 187.93,348.1 187.77,349.9 187.60,349.6 187.43,348.7 187.27,347.0 187.10,347.7 186.93,347.6 186.77,345.7 186.60,348.0 186.43,347.5 186.26,345.7 186.10,349.5 185.93,346.5 185.76,346.1 185.60,345.3 185.43,346.4 185.26,346.2 185.10,343.7 184.93,342.4 184.76,340.9 184.59,341.6 184.43,342.4 184.26,339.4 184.09,340.2 183.93,339.0 183.76,338.4 183.59,336.9 183.43,335.0 183.26,336.8 183.09,341.7 182.92,335.2 182.76,334.9 182.59,335.2 182.42,335.5 182.26,331.1 182.09,333.2 181.92,333.0 181.76,329.6 181.59,333.8 181.42,331.7 181.25,329.9 181.09,330.5 180.92,326.4 180.75,328.3 180.59,322.0 180.42,326.7 180.25,325.1 180.09,323.0 179.92,322.6 179.75,319.5 179.58,319.7 179.42,318.1 179.25,318.4 179.08,319.2 178.92,317.2 178.75,318.2 178.58,318.1 178.42,314.6 178.25,316.6 178.08,313.6 177.91,312.8 177.75,312.7 177.58,313.0 177.41,309.9 177.25,310.4 177.08,310.4 176.91,311.4 176.75,308.4 176.58,307.0 176.41,306.4 176.24,307.5 176.08,308.8 175.91,307.6 175.74,305.1 175.58,304.3 175.41,302.8 175.24,303.7 175.08,304.0 174.91,303.1 174.74,302.8 174.57,301.3 174.41,301.8 174.24,299.5 174.07,295.4 173.91,298.2 173.74,295.3 173.57,295.6 173.41,296.8 173.24,294.4 173.07,293.0 172.90,292.2 172.74,294.1 172.57,293.7 172.40,288.2 172.24,291.3 172.07,290.2 171.90,287.7 171.74,287.4 171.57,288.2 171.40,289.5 171.23,287.3 171.07,289.9 170.90,289.8 170.73,290.0 170.57,289.5 170.40,288.2 170.23,289.4 170.07,289.7 169.90,290.7 169.73,284.1 169.56,286.1 169.40,284.4 169.23,286.2 169.06,285.3 168.90,286.3 168.73,286.7 168.56,284.7 168.40,287.5 168.23,285.4 168.06,284.8 167.89,287.9 167.73,288.1 167.56,284.6 167.39,285.7 167.23,285.6 167.06,284.6 166.89,281.1 166.73,280.7 166.56,279.9 166.39,277.9 166.22,275.7 166.06,277.3 165.89,275.5 165.72,272.0 165.56,271.6 165.39,270.8 165.22,268.5 165.06,267.9 164.89,266.8 164.72,265.0 164.55,267.2 164.39,266.1 164.22,262.8 164.05,264.3 163.89,260.8 163.72,264.3 163.55,261.8 163.39,264.0 163.22,259.0 163.05,260.6 162.88,258.6 162.72,260.5 162.55,258.1 162.38,257.7 162.22,255.6 162.05,256.9 161.88,260.4 161.72,254.9 161.55,257.9 161.38,257.0 161.21,257.7 161.05,257.1 160.88,255.4 160.71,257.0 160.55,256.3 160.38,257.9 160.21,253.5 160.05,256.1 159.88,255.6 159.71,253.3 159.54,255.8 159.38,256.7 159.21,255.3 159.04,256.5 158.88,254.6 158.71,254.2 158.54,254.7 158.38,252.1 158.21,253.9 158.04,252.1 157.87,255.1 157.71,254.0 157.54,250.8 157.37,253.6 157.21,251.6 157.04,248.6 156.87,253.7 156.71,248.8 156.54,249.6 156.37,249.4 156.20,248.4 156.04,249.8 155.87,247.3 155.70,245.8 155.54,245.4 155.37,246.3 155.20,245.3 155.04,244.5 154.87,247.2 154.70,246.4 154.53,243.4 154.37,246.0 154.20,242.0 154.03,241.4 153.87,244.0 153.70,244.3 153.53,241.3 153.37,240.8 153.20,240.6 153.03,238.9 152.86,237.9 152.70,236.6 152.53,238.0 152.36,236.8 152.20,236.7 152.03,231.9 151.86,234.3 151.70,232.9 151.53,231.5 151.36,233.0 151.19,230.2 151.03,228.2 150.86,230.0 150.69,230.4 150.53,227.5 150.36,225.2 150.19,225.0 150.03,223.1 149.86,226.3 149.69,225.0 149.52,223.2 149.36,222.7 149.19,220.9 149.02,218.4 148.86,216.4 148.69,216.1 148.52,217.3 148.36,211.6 148.19,211.6 148.02,210.8 147.85,207.4 147.69,209.5 147.52,208.4 147.35,209.2 147.19,204.6 147.02,207.0 146.85,205.9 146.69,204.4 146.52,205.8 146.35,202.7 146.18,201.9 146.02,202.7 145.85,202.3 145.68,202.6 145.52,206.2 145.35,202.3 145.18,204.4 145.02,202.3 144.85,204.8 144.68,204.9 144.51,202.1 144.35,202.5 144.18,202.0 144.01,201.6 143.85,200.3 143.68,199.8 143.51,198.1 143.35,200.6 143.18,199.6 143.01,198.2 142.84,198.4 142.68,197.6 142.51,196.5 142.34,195.6 142.18,194.7 142.01,194.7 141.84,195.3 141.68,195.1 141.51,195.4 141.34,192.9 141.17,194.4 141.01,192.9 140.84,190.3 140.67,193.1 140.51,194.8 140.34,193.1 140.17,191.3 140.01,193.4 139.84,191.5 139.67,191.5 139.50,190.6 139.34,192.1 139.17,191.3 139.00,189.3 138.84,190.9 138.67,188.4 138.50,188.8 138.34,185.7 138.17,185.7 138.00,184.5 137.83,182.4 137.67,182.4 137.50,181.7 137.33,178.1 137.17,179.0 137.00,176.2 136.83,176.5 136.67,177.5 136.50,174.5 136.33,176.4 136.16,172.9 136.00,171.9 135.83,173.1 135.66,167.7 135.50,170.4 135.33,172.9 135.16,169.5 135.00,171.1 134.83,166.9 134.66,166.9 134.49,166.5 134.33,166.8 134.16,168.7 133.99,162.3 133.83,162.2 133.66,163.8 133.49,166.6 133.33,162.2 133.16,164.2 132.99,163.0 132.82,160.6 132.66,160.2 132.49,156.8 132.32,159.4 132.16,156.9 131.99,158.2 131.82,155.7 131.66,155.7 131.49,156.5 131.32,152.6 131.15,150.4 130.99,153.9 130.82,150.4 130.65,152.0 130.49,148.5 130.32,148.9 130.15,147.9 129.99,147.2 129.82,146.7 129.65,146.7 129.48,146.2 129.32,148.3 129.15,144.3 128.98,144.6 128.82,145.9 128.65,145.1 128.48,145.1 128.32,145.9 128.15,145.8 127.98,145.4 127.81,145.7 127.65,146.3 127.48,144.4 127.31,145.4 127.15,146.2 126.98,144.3 126.81,143.8 126.65,144.8 126.48,141.0 126.31,144.5 126.14,146.2 125.98,144.2 125.81,142.7 125.64,146.2 125.48,143.4 125.31,143.1 125.14,144.0 124.98,144.3 124.81,142.5 124.64,140.9 124.47,139.1 124.31,137.9 124.14,133.7 123.97,138.4 123.81,137.5 123.64,135.9 123.47,133.8 123.31,134.3 123.14,133.3 122.97,131.6 122.80,129.5 122.64,128.7 122.47,128.7 122.30,128.2 122.14,124.5 121.97,123.9 121.80,127.5 121.64,121.4 121.47,122.2 121.30,120.0 121.13,118.6 120.97,120.2 120.80,120.8Z" fill="#0072b2" fill-opacity="0.2" stroke="#0072b2" stroke-opacity="0.2" stroke-width="1.39" stroke-linejoin="round"/>
<g stroke="#808080" stroke-opacity="0.2" stroke-width="1.39"><line x1="178.5" y1="18.5" x2="178.5" y2="542.5"/><line x1="347.5" y1="18.5" x2="347.5" y2="542.5"/><line x1="516.5" y1="18.5" x2="516.5" y2="542.5"/><line x1="686.5" y1="18.5" x2="686.5" y2="542.5"/><line x1="855.5" y1="18.5" x2="855.5" y2="542.5"/><line x1="79.5" y1="21.5" x2="985.5" y2="21.5"/><line x1="79.5" y1="82.5" x2="985.5" y2="82.5"/><line x1="79.5" y1="144.5" x2="985.5" y2="144.5"/><line x1="79.5" y1="206.5" x2="985.5" y2="206.5"/><line x1="79.5" y1="267.5" x2="985.5" y2="267.5"/><line x1="79.5" y1="329.5" x2="985.5" y2="329.5"/><line x1="79.5" y1="390.5" x2="985.5" y2="390.5"/><line x1="79.5" y1="452.5" x2="985.5" y2="452.5"/><line x1="79.5" y1="514.5" x2="985.5" y2="514.5"/></g>
<path d="M121.4,41.2h0M121.7,43.5h0M123.2,45.7h0M122.2,52.5h0M122,55h0M122.3,57.5h0M122.5,59.5h0M121.7,66.7h0M122,69h0M123.2,72h0M122.7,70.5h0M123.2,82.5h0M128.5,87h0M129.2,96h0M128.5,99.7h0M132.2,99.7h0M135.5,105h0M123.2,122h0M128.5,124.5h0M128.7,127.5h0M126.9,147.23h0M126.18,149.29h0M127.17,151.84h0M127.03,155.23h0M126.35,156.04h0M126.64,159.07h0M126.38,161.17h0M125.4,164.38h0M125.35,167.23h0M126.06,168.54h0M127.08,169.68h0M128.14,173.84h0M127.98,176.25h0M126.9,177.48h0M127.67,180.65h0M126.95,183.16h0M128.08,184.41h0M127.19,188.38h0M127.4,202h0M137.5,45.7h0M138.2,48.7h0M139,55.5h0M131.51,89.07h0M131.42,86.09h0M130.19,84.51h0M130.66,85.65h0M130.86,83h0M132.12,79.5h0M130.72,78.61h0M133.37,77.37h0M132.36,75.37h0M129.83,72.67h0M133.94,74.01h0M132.47,72.5h0M131.85,70.46h0M132.64,68.3h0M130.76,67.46h0M132.96,66.41h0M130.33,63.18h0M131.93,62.44h0M135.06,61.04h0M136.2,61.51h0M135.68,60.39h0M134.84,60.25h0M136.61,62.43h0M135.39,66.38h0M135.47,65.01h0M135.7,67.65h0M133.74,68.32h0M135.48,71.74h0M132.26,71.86h0M135.78,72.95h0M132.43,73.66h0M134.09,75.92h0M134.81,78.31h0M137.03,79.42h0M137.81,78.63h0M137.57,80.17h0M137.9,76.82h0M137.97,74.5h0M137.56,74.24h0M135.79,71.98h0M135.53,70.54h0M135.68,69.01h0M138.18,68.09h0M138.14,66.18h0M138.38,63.44h0M138.9,64.27h0M138.57,61.71h0M137.92,62.01h0M137.52,61.29h0M137.21,62.86h0M140.55,63.9h0M140.33,66.54h0M138.07,66.34h0M139.3,67.14h0M140.14,70.01h0M141.44,68.33h0M139.25,72.24h0M140.16,74.33h0M141.17,75.16h0M137.95,78.37h0M138.8,79.27h0M139.33,80.14h0M138.42,81.08h0M141.18,84.1h0M139.68,83.75h0M138.78,85.49h0M137.38,88.17h0M139.09,89.49h0M138.98,92.3h0M139.02,90.8h0M140.34,89.91h0M139.12,93.83h0M140.1,95.86h0M140.61,95.81h0M140.28,99h0M140.39,100.22h0M141.97,98.36h0M141.83,99.22h0M142.28,99.5h0M143.55,102.77h0M142.3,104.36h0M140.52,105.66h0M141.83,105.1h0M143.07,106.78h0M143.83,107.28h0M144.1,108.29h0M143.28,110.02h0M144.01,111.25h0M145.14,114.17h0M143.31,116.26h0M142.24,117.95h0M143.07,118.75h0M141.31,119.54h0M143.28,121.65h0M143.18,123.67h0M144.93,124.19h0M144.48,125.98h0M145.91,127.03h0M147.46,128.26h0M144.91,130.32h0M144.34,130.62h0M145.77,134.34h0M145.27,133.14h0M145.58,136.71h0M144.88,136.32h0M146.2,140.76h0M145.82,141.58h0M143.62,141.34h0M145.75,143.19h0M146.47,143.98h0M147.47,146.56h0M145.76,148.53h0M145.65,152.22h0M147.77,149.67h0M146.02,153.84h0M146.83,153.45h0M147.29,155.82h0M147.64,157.93h0M146.96,159.07h0M145.87,160.44h0M148.7,171h0M148,196.5h0M148.3,206h0M149.5,218h0M149.5,223.5h0M149.5,230h0M149.5,250h0M149.44,253.75h0M150.66,257.24h0M151.23,260.47h0M150.39,263.12h0M149.05,265.37h0M148.83,268.71h0M149.06,269.97h0M152.2,271.14h0M154.07,287.7h0M153.93,290.31h0M154.99,291.03h0M154.44,292.32h0M152.9,294.31h0M153.63,292.92h0M156.71,296.12h0M158.31,296.31h0M159.93,298.41h0M157.53,299.88h0M157.38,300.3h0M156.94,301.49h0M157.35,301.9h0M156.49,304.91h0M155.77,304.91h0M158.99,307.32h0M158.71,306.67h0M159.21,310.8h0M157.22,309.63h0M158.37,313.18h0M155.85,312.84h0M155.08,315.17h0M156.86,315.77h0M156.2,317.93h0M157.39,318.54h0M158.93,321.13h0M157.57,321.81h0M160.28,323.11h0M157.81,325.42h0M159.94,324.28h0M165,314h0M168,314h0M166,322.5h0M167.5,326.7h0M166.3,331.62h0M166.27,332.41h0M166.04,335.53h0M167.97,336.64h0M167.64,339.8h0M168.38,341.91h0M166.62,343.02h0M166.53,344.19h0M161.5,240h0M161.5,248h0M169.3,233h0M169.3,240h0M170.5,248h0M160.13,290.12h0M160.21,286.64h0M160.69,284.43h0M160.05,279.56h0M159.49,278.67h0M160.33,275h0M159.86,270.7h0M161.88,270.31h0M160.19,266.5h0M160.32,263.77h0M160.84,258.05h0M160.07,256.21h0M160.78,256.02h0M161.21,260.23h0M161.16,264.02h0M161.53,263.72h0M162.81,268.73h0M162.41,271.63h0M161.31,275.82h0M162.13,277.8h0M163.14,279.58h0M162.31,283.73h0M163,285.91h0M164.73,288.2h0M166.93,289.01h0M166.59,285.44h0M166.78,283.17h0M166.43,278.29h0M167.47,279.17h0M166.7,275.05h0M168.78,271.45h0M167.68,266.35h0M167.7,262.42h0M168.61,260.7h0M168.28,258.31h0M168.71,257.8h0M168.91,253.82h0M168.64,254.01h0M168.69,258.83h0M169.04,261.89h0M170.54,263.69h0M169.47,267.96h0M169.71,270.1h0M169.68,272.14h0M170.5,274.66h0M171.42,278.78h0M169.34,282.97h0M170.39,283.61h0M175,211.5h0M171.2,217h0M180.2,218h0M185.5,225h0M180.2,229h0M171.5,156h0M174,156h0M179.5,166.2h0M176.5,169.2h0M171.2,174.3h0M176.5,176.2h0M171.02,179.64h0M174.75,180.45h0M171.82,178.28h0M178.19,178.59h0M175.19,178.5h0M176.41,180.81h0M177.57,182.96h0M173.28,182.46h0M173.55,183.62h0M177.37,185.39h0M174.05,187.03h0M174.02,185.12h0M174.48,187.92h0M176.4,186.33h0M177.64,187.1h0M177.06,187.08h0M177.42,185.51h0M177.57,187.42h0M177.52,185.65h0M178.29,187.4h0M176.38,187.72h0M177.98,190.04h0M174.22,191.12h0M175.46,191.79h0M176.49,191.58h0M175.45,194h0M173.8,194.59h0M172.09,196.69h0M173.37,195.25h0M175.13,196.66h0M176.78,195.15h0M177.17,192.23h0M176.76,193.94h0M177.8,192.83h0M178.83,196.79h0M178.72,198.38h0M175.47,197.6h0M176.23,199.19h0M174.12,197.89h0M174.97,197.91h0M179.5,201.01h0M174.73,202.39h0M173.72,201.86h0M174.09,203.98h0M174.44,204.06h0M174.76,204.28h0M178.11,205.21h0M178.94,204.12h0M181.59,202.89h0M177.14,204.41h0M179.05,205.97h0M179.53,204.89h0M174.86,208.74h0M177.44,209.17h0M174.02,208.72h0M184.3,238h0M185.5,246h0M192.2,298.5h0M180.98,251.7h0M184.73,255.1h0M182.42,256.1h0M182.62,258.01h0M183.44,260.37h0M182.89,262.65h0M182.37,263.98h0M182.89,265.27h0M181.68,270.5h0M183.11,270.45h0M181.32,271.08h0M182.98,272.71h0M183.14,274.26h0M181.46,278.6h0M184.36,282.72h0M181.9,281.74h0M183.75,285.18h0M182.51,285.72h0M183.25,290.83h0M183.25,291.98h0M186.77,293.81h0M186.37,296.07h0M187.14,294.28h0M186.42,291.56h0M186.48,287.82h0M186.16,284.96h0M185.96,283.16h0M186.78,280.34h0M186.54,281.91h0M186.41,277.77h0M185.54,276h0M186.54,273.98h0M187.41,273.77h0M186.66,269.02h0M187.45,268.73h0M187.17,265.73h0M186.57,263.17h0M186.79,259.27h0M187.05,260.09h0M187.54,256.29h0M187.69,254.49h0M188.94,253.44h0M187.26,255.39h0M186.6,258.54h0M188.96,258.79h0M188.15,261.74h0M188.55,263.95h0M190.86,265.78h0M190.09,268.54h0M189.5,269.67h0M189.88,273.26h0M189.28,273.39h0M190.05,274.73h0M188.85,278.26h0M188.85,281.61h0M189.14,281.96h0M190.9,283.93h0M190.96,286.32h0M189.27,288.93h0M190.81,290.68h0M189.81,293.27h0M190.91,293.27h0M193.9,303.09h0M193.45,301.18h0M192.34,301.22h0M195.77,303.96h0M195.31,302.26h0M196.67,307.69h0M193.03,308.25h0M196.18,307.79h0M193.82,310.31h0M190.86,311.48h0M194.01,314.46h0M193.83,311.98h0M194.08,311.82h0M196.19,311.58h0M195.18,314.4h0M198.56,313.85h0M197.21,316.84h0M196.78,318.82h0M198.5,319.03h0M196.44,319.68h0M195.28,323.56h0M195.97,322.63h0M198.13,323.95h0M200.57,325.63h0M199.32,323.12h0M198.69,322.28h0M201.04,325.2h0M199.91,320.6h0M199.74,318.2h0M202.28,317.86h0M198.14,316.15h0M199.82,314.03h0M197.32,313.73h0M199.07,312.9h0M200.11,311.59h0M200.7,310.96h0M197.68,306.84h0M200.21,305.83h0M200.08,307.34h0M198.9,304.5h0M191.15,327.65h0M191.08,330.71h0M190.59,332.18h0M192,335.18h0M191.6,337.58h0M192.65,340.43h0M199.72,328.28h0M200.39,331.77h0M200.6,334.85h0M200.66,337.53h0M201.5,345h0M201.5,356h0M201.2,366h0M202.37,371.86h0M202.27,373.32h0M202.63,375.52h0M203.38,376.24h0M203.61,378h0M202.19,379.25h0M201.86,380.5h0M202.04,381.7h0M203.41,383.57h0M202.95,384.92h0M203.1,387.08h0M203.32,387.73h0M203.34,389.5h0M203.07,391.41h0M202.51,392.56h0M202.9,394.28h0M203.52,395.89h0M203.81,396.34h0M204.53,402.53h0M204.27,403.91h0M206.06,405.54h0M205.14,406.7h0M205.72,408.1h0M206.71,409.65h0M205.37,411.2h0M205.82,412.23h0M206.19,414.61h0M205.84,416.35h0M210.4,411.2h0M205.52,417.2h0M206,418.1h0M207.21,416.62h0M208.18,417.56h0M209.08,417.9h0M210.96,417.65h0M209.89,417.77h0M211.59,419.29h0M212.65,418.08h0M213.05,418.44h0M213.65,418.78h0M212.79,419.25h0M212.41,420.03h0M212.66,420.28h0M212.5,421.2h0M210.32,421.54h0M210.44,422.29h0M209.8,423.43h0M209.46,422.39h0M208.24,424.65h0M207.7,423.69h0M207.34,424.98h0M205.21,425.13h0M206.87,425.1h0M206.39,424.22h0M207.05,427h0M208.67,425.63h0M208.96,425.89h0M211.22,427.46h0M212.37,427.06h0M212.25,428.62h0M213.17,428.75h0M213.91,428.35h0M214.03,428.39h0M213.59,429.2h0M213.02,428.2h0M211.72,429.69h0M210.77,430.12h0M210.23,430.14h0M210.44,431.1h0M208.86,430.35h0M209.46,432.45h0M207.54,433.17h0M207.95,431.82h0M205.97,433.21h0M207.14,434.44h0M208.78,433.91h0M209.6,433.16h0M209.96,433.45h0M212.32,434.99h0M211.74,435.92h0M212.71,434.15h0M212.92,435.19h0M215.3,434.88h0M215.55,435.47h0M216.05,436.14h0M214.37,436.26h0M215.04,436.23h0M213.71,438.58h0M213.57,437.42h0M213.19,437.82h0M211.28,439.13h0M211.21,438.78h0M210.93,439.05h0M209.68,440.26h0M208.59,439.3h0M207.33,440.95h0M206.86,441.56h0M206.61,441.62h0M209.01,441.28h0M209.2,441.64h0M209.09,440.7h0M210.76,442.05h0M210.67,442.58h0M210.08,443.23h0M214.06,442.97h0M214.85,442.84h0M213.81,442.78h0M215.15,443.57h0M216.62,443.94h0M216.48,444.91h0M215.31,444.25h0M214.72,444.08h0M214.08,444.52h0M213.02,444.44h0M212.73,444.79h0M211.58,443.59h0M210.38,444.2h0M210.09,444.65h0M208.08,445.97h0M209.42,445.77h0M206.36,446.1h0M207.94,447.46h0M208.75,446.61h0M209.31,448.8h0M215.32,446.47h0M214.69,446.5h0M216.68,446.74h0M214.62,448.4h0M215.1,447.78h0M216.07,450.15h0M216.8,450.13h0M216.57,451.96h0M215.28,451.48h0M216.98,452.02h0M217.39,453.7h0M219.72,455.17h0M219.03,452.97h0M218.33,455.63h0M217.68,456.79h0M219.11,455.69h0M218.23,456.88h0M219.61,458.94h0M220.05,458.35h0M219.75,459.22h0M220.56,462.03h0M220.41,460.38h0M220.52,461.16h0M222.53,460.56h0M222.12,462.34h0M221.76,462.91h0M221.75,466.21h0M222.84,466.46h0M223.53,464.89h0M224.53,467.75h0M225.79,466.69h0M225.77,465.85h0M225.29,466.73h0M228.55,466.35h0M228.43,464.83h0M228.72,463.4h0M229.66,463.61h0M227.98,463.86h0M229.41,463h0M229.65,462.02h0M231.09,462.78h0M229.31,460.2h0M230.09,461.17h0M231.64,459.18h0M231.04,458.94h0M230.32,457.08h0M232.21,457.3h0M229.77,455.85h0M231.27,454.23h0M230.83,454.99h0M230.98,462.09h0M231.33,458.95h0M231.12,455.7h0M230.6,451.82h0M230.76,448.85h0M230.02,446.24h0M230.56,443.02h0M231.51,439.52h0M231.6,436.13h0M231.3,432.89h0M220.52,456.58h0M220.96,458.2h0M220.85,458.63h0M223.47,458.84h0M223.71,461.18h0M224.7,463.61h0M227.14,460.77h0M226.86,461.34h0M226.43,459.99h0M228.29,457.98h0M227.22,459.06h0M230.29,459.27h0M230.39,460.72h0M230.79,461.32h0M231.92,462.97h0M232.44,462.41h0M230.45,459.21h0M229.71,459.51h0M232.2,455.16h0M230.06,454.9h0M231.1,453.42h0M228.94,454.58h0M230.87,453.5h0M230.95,455.72h0M233.07,454.16h0M232,454.72h0M231.39,453.74h0M233.11,451.83h0M231.77,448.05h0M229.4,449.27h0M230.92,448.48h0M230.93,447.69h0M231.29,445.61h0M232.48,442.49h0M238.7,419.5h0M240.2,423h0M240.5,427.7h0M717.83,437.85h0M718.72,434.78h0M717.35,430.99h0M718.45,430.14h0M717.62,425.74h0M718.07,423.54h0M718.6,419.68h0M717.44,418.32h0M720.28,414.86h0M718.12,412.07h0M718.29,411.22h0M717.84,413.03h0M718.9,414.01h0M719.05,418.88h0M718.51,421.7h0M718.86,422.72h0M720.73,425.84h0M720.84,428.97h0M719.22,431.35h0M720.02,434.4h0M721.85,435.68h0M722.29,431.84h0M723.09,431.71h0M721.87,426.22h0M723.59,423.69h0M723.13,423.49h0M723.23,421.21h0M723.78,416.16h0M725.1,416.37h0M725.29,418.14h0M726.09,423.02h0M725.36,424.71h0M726.21,426.35h0M726.04,430.27h0M726.75,428.8h0M727.07,425.41h0M727.22,424.23h0M728.36,420.47h0M728.33,417.05h0M728.8,413.87h0M728.5,411.75h0M729.45,409.71h0M728.88,406.64h0M729.77,404.13h0M729.62,405.85h0M730.03,409.1h0M729.62,412.25h0M728.9,413.58h0M728.96,415.15h0M731.91,420.88h0M730.88,422.44h0M731.15,424.12h0M730.9,426.97h0M730.98,423.79h0M733.96,419.64h0M731.09,418.47h0M732.25,414.53h0M732.58,413.46h0M732.03,410.46h0M732.34,413.25h0M733.24,414.67h0M733.97,417.84h0M734.3,419.85h0M735.75,420.79h0M734.47,417.08h0M736.06,416.77h0M737.22,413.26h0M737.08,409.81h0M735.77,407.9h0M734.64,404.59h0M737,399.7h0M737,396h0M737.7,392h0M737.7,387h0M737.7,383h0M737.7,378h0M738.5,373.5h0M739.2,369h0M738.5,362h0M739.2,357.7h0M744.5,361.5h0M747.5,333h0M740.28,357.13h0M741.51,353.18h0M742.74,351.46h0M741.51,349.71h0M740.62,347.4h0M741.69,344.98h0M744.36,341.81h0M742.01,339.8h0M744.32,339.96h0M743.3,342.47h0M744.69,345.75h0M744.25,349.12h0M743.19,350.58h0M744.77,351.31h0M747.71,354.85h0M745.87,354.86h0M746.81,352.37h0M746.16,353.13h0M746.61,347.66h0M747.31,346.23h0M747.7,344.3h0M749.69,343.94h0M747.7,339.81h0M747.78,339.1h0M747.59,339.36h0M747.24,340.62h0M747.24,344.15h0M749.81,346.16h0M747.58,346.91h0M751.14,349.28h0M750.73,351.04h0M748.36,351.09h0M746.28,348.88h0M746.25,346.95h0M745.02,345.49h0M741.2,306h0M741.2,310.5h0M741.2,319.5h0M741.2,324h0M751,247.5h0M751,252h0M751,257h0M751,263h0M750.2,267.7h0M750.2,279.7h0M750.2,290h0M749.5,313.5h0M749.36,317.79h0M749.64,322.06h0M749.32,326.03h0M749.1,330.32h0M757.5,60.5h0M756.5,68.7h0M757.8,73.5h0M757.2,82.3h0M756.2,90.8h0M757,93.5h0M755.1,96.7h0M758.4,102.5h0M755.5,112.3h0M754.6,130.5h0M759.2,132.5h0M754.7,134h0M757,137h0M758.7,140h0M755,145h0M757.5,148.7h0M754,152h0M757.7,150h0M760,156h0M760,160.5h0M753.2,162h0M760,167h0M753.2,170h0M754,176h0M752.5,186h0M752.5,190.5h0M762.2,188h0M753.2,198.7h0M761.5,201.7h0M751.7,216.7h0M751,220h0M750.2,228h0M770.5,225.7h0M758.32,202.69h0M760.04,204.49h0M760.91,206.17h0M759.81,206.7h0M761.28,210.25h0M760.88,210.03h0M760.42,212.4h0M762.92,214.43h0M760.59,214.86h0M762.86,216.88h0M761.33,219.42h0M760.68,219.83h0M760.62,222.18h0M760.65,223.28h0M760.42,224.8h0M761.41,226.65h0M759.16,227.64h0M762.52,229.18h0M762.43,231.42h0M763.3,232.52h0M761.25,234.19h0M760.24,234.71h0M762.25,236.96h0M763.02,239.21h0M763.81,240.55h0M765.36,239.44h0M764.74,243.28h0M764.88,243h0M766.17,245.54h0M767.39,246.18h0M766.26,248.42h0M767.76,250.91h0M766.4,252.22h0M768.14,254.95h0M766.36,253.92h0M768.07,250.74h0M767.34,248.07h0M769.59,249.63h0M770.02,246.32h0M769.02,246.64h0M769.42,246.69h0M769.87,247.72h0M768.99,250.85h0M769.71,251.83h0M769.93,253.92h0M771.73,254.79h0M772.49,258.16h0M770.82,260.43h0M771.13,260.62h0M771.79,264.74h0M771.21,264.19h0M771.61,266.82h0M772.48,266.38h0M770.06,266.09h0M767.93,270.11h0M780.29,267.75h0M780.26,270.74h0M777.92,271.72h0M779.86,274.17h0M780.25,275.95h0M779.77,279.66h0M779.12,280.4h0M777.17,282.2h0M777,285.14h0M775.54,287.56h0M775.73,289.24h0M775.85,291.68h0M774.34,293.24h0M775.52,295.04h0M776.11,296.87h0M777.24,298.86h0M777.75,300.77h0M776.16,303.39h0M775.33,304.99h0M772.72,307.07h0M779.5,264.7h0M780.2,270h0M780.2,276h0M778,283.5h0M775,288h0M772,297h0M776.5,297h0M778,301.5h0M773.5,306h0M773.5,310.5h0M773.5,315h0M773.5,321h0M773.5,326h0M781.5,160.5h0M781.5,169.5h0M781.5,172h0M791.5,174.7h0M791.5,180h0M790.7,186h0M782.2,189.7h0M782.2,193.5h0M797.5,189.7h0M783.2,204h0M790,196.5h0M783.2,220.5h0M783.2,223h0M788.5,232.5h0M802,234.7h0M789.99,195.32h0M790.92,195.91h0M791.33,198.16h0M793.25,198.28h0M794.45,198.31h0M795.28,199.44h0M796.03,201.36h0M793.76,200.93h0M792.47,200.07h0M791.4,202.26h0M791.73,202.22h0M790,203.4h0M792.53,204.6h0M793.14,204.5h0M794.34,204.08h0M796.63,205.21h0M798.13,204.87h0M799.23,206.25h0M798.62,206.08h0M797.73,207.26h0M795.8,207.41h0M795.19,208.9h0M794.12,208.87h0M793.88,209.64h0M792.47,209.87h0M790.56,211.11h0M792.27,209.85h0M793.17,213.67h0M796.69,211.26h0M797.18,212.16h0M799.56,211.97h0M799.24,212.23h0M800.75,213.21h0M801.02,212.98h0M798.96,213.69h0M797.7,213.58h0M795.29,214.59h0M795.47,215.05h0M793.46,218.07h0M792.64,216.21h0M790.45,217.07h0M790.43,218.4h0M793.73,219.67h0M795.75,217.46h0M795.28,217.85h0M797.01,219.48h0M799.03,219.93h0M800.55,218.81h0M798.52,219.11h0M799.93,220.46h0M797.99,222.5h0M795.33,222.54h0M793.03,223.85h0M793.41,223.84h0M793.36,224.57h0M792.3,225.61h0M794.03,225.34h0M793.84,225.93h0M796.25,225.32h0M796.34,225.88h0M800.6,227.05h0M800.96,226.79h0M781.46,235.66h0M785.86,234.4h0M786.83,235.9h0M785.43,239.55h0M786.28,240.66h0M790.73,238.47h0M794.33,237.48h0M788.78,237.91h0M785.05,240.51h0M782.35,241.23h0M783.44,245.81h0M786.41,246.79h0M790.11,245.86h0M794.12,246.16h0M791.36,249.21h0M789.03,250.88h0M787.51,250.72h0M790.29,251.17h0M792.77,250.19h0M788.81,253.69h0M786.23,255.81h0M785.85,257.79h0M791.19,257.66h0M794.69,256.33h0M780.37,261.39h0M780.6,265.88h0M780.42,270.09h0M780.42,273.6h0M779.53,278.26h0M780.31,281.67h0M780.8,285.85h0M780.59,289.94h0M802.19,237.83h0M799.74,239.07h0M799.59,237.9h0M800.98,242.13h0M799.89,244.98h0M800.66,244.96h0M798.31,249.21h0M800.96,248.62h0M800.75,249.18h0M799.58,252.45h0M802.32,253.81h0M800.83,256h0M800.97,256.6h0M799.95,259.78h0M799.74,259.57h0M800.9,261.92h0M800.04,262.18h0M802.16,264.29h0M802.64,266.95h0M801.23,267.74h0M800.36,269.44h0M801.75,268.04h0M801.26,266.85h0M802.67,265.72h0M802.86,264.08h0M802.43,262.69h0M803.1,260.22h0M804.25,257.81h0M805.09,255.11h0M803.04,254.72h0M804.46,252.62h0M803.67,249.94h0M803.03,251.79h0M805.55,246.62h0M804.83,247.19h0M804.76,245.74h0M805.15,243.3h0M804.81,244.68h0M804.08,243.74h0M807.07,244.59h0M806.36,248.79h0M805.89,247.85h0M806.76,248.86h0M807.24,250.94h0M805.92,252.96h0M806.87,255.31h0M806.13,257.25h0M807.26,257.02h0M806.53,260.56h0M809.38,264.12h0M806.75,262.78h0M807.79,265.02h0M807.9,267.51h0M807.27,269.67h0M808.71,269.42h0M807.85,270.77h0M807.7,269.54h0M808.3,270.02h0M807.73,268.18h0M809.86,263.43h0M809.47,261.8h0M810.01,261.07h0M807.86,259.16h0M809.67,259.45h0M808.81,257.61h0M809.85,257.73h0M811.22,254.9h0M810.39,252.57h0M810.14,251.99h0M811.61,248.25h0M811.69,246.09h0M812.71,245.89h0M809.18,246.7h0M811.54,245.75h0M810.96,249.95h0M810.68,251.56h0M811.84,251.83h0M810.73,254.16h0M809.83,255.36h0M811.33,257.37h0M812.14,259.75h0M814.44,259.77h0M812.02,263.29h0M811.75,264.76h0M811.11,266.45h0M812.9,265.17h0M813.19,266.93h0M813.74,271.17h0M812.32,271.52h0M813.17,273.07h0M811.87,271.77h0M814.51,269.54h0M812.98,268.96h0M812.01,266.88h0M816.12,265.3h0M815.67,264.81h0M815.72,261.48h0M815.93,262.18h0M814.75,257.13h0M817.06,260.29h0M815.15,254.72h0M818.31,255.05h0M816.83,253.74h0M814.97,251.16h0M817.88,251.19h0M819.19,251.97h0M817.17,251.93h0M818.7,255.71h0M817.63,258.17h0M817.42,258.09h0M815.67,258.57h0M819.69,261.33h0M818.22,263.92h0M819.25,265.54h0M817.94,268h0M818.37,269.09h0M820.6,270.68h0M819.3,269.77h0M819.49,275.72h0M818.88,272.91h0M820.61,272.11h0M821.43,269.24h0M820.45,267.8h0M820.98,266.38h0M820.21,266.28h0M823.09,264.59h0M821.33,262.04h0M822.05,261.79h0M824.15,257.73h0M822.5,257.03h0M821.42,254.63h0M822.15,258.07h0M822.83,258.44h0M825.09,261.06h0M823.64,263.47h0M823.3,261.26h0M824.47,267.24h0M825.05,267h0M823.09,268h0M825.4,268.03h0M803.2,273.5h0M814.5,282.5h0M813.7,288.5h0M823,300h0M824.5,306h0M827.5,303h0M830.5,312h0M835,324h0M841,328.5h0M822.74,300.36h0M821.71,300.1h0M824.25,299.88h0M824.64,300.04h0M826.87,301.38h0M825.7,304.37h0M827.45,302.8h0M828.12,306.38h0M829.45,304.72h0M827.63,305.37h0M828.2,307.53h0M826.08,307.14h0M826.16,308.55h0M826.58,308.28h0M826.53,309.01h0M825.3,310.32h0M825.7,312.01h0M827.29,311.66h0M827.24,310.85h0M828.38,313.11h0M828.68,312.84h0M831.44,313h0M832.66,312.98h0M832.26,311.89h0M832.9,315.3h0M833.35,319.28h0M835.12,321.77h0M836.69,322.21h0M836.75,322.93h0M835.93,323.49h0M836.09,326.1h0M836.9,325.14h0M838.12,326.33h0M838.1,327.44h0M837.15,328.17h0M838.76,328.53h0M839.08,327.85h0M839.92,327.87h0M838.95,328.84h0M840.19,329.79h0M838.31,330.92h0M838.9,331.47h0M837.46,333.32h0M836.31,332.74h0M835.49,335.32h0M836.22,335.18h0M836.83,334.27h0M837.49,336.29h0M835.43,333.06h0M835.57,337.51h0M836.29,336.62h0M839.4,336.7h0M838.53,334.66h0M838.44,339.06h0M840.8,336.31h0M838.76,336.52h0M841.39,337.92h0M841.89,336.66h0M842.48,336.08h0M841.31,338.01h0M843.87,336.95h0M844.51,339.41h0M840.21,339.44h0M841.84,341.11h0M842.25,339.37h0M844.11,342.54h0M840.26,342.22h0M839.26,344.6h0M840.22,342.56h0M842.62,345.78h0M839.74,345.26h0M839.71,346h0M841.43,345.11h0M836.65,346.32h0M837.25,346.12h0M841.99,344.26h0M842.45,343.61h0M840.21,343.68h0M843.39,345.65h0M843.39,343.99h0M844.27,344.47h0M843.55,343.48h0M844.66,342.99h0M844.73,342.78h0M846.61,341.81h0M846.88,343.16h0M850.07,341.76h0M849.3,341.5h0M846.85,339.69h0M849.18,342.07h0M850.21,341.7h0M848.36,342.52h0M849.11,344.73h0M847.3,343.2h0M847.96,344.75h0M845.46,346.24h0M847.43,347.41h0M844.22,346.35h0M847.46,347.84h0M843.4,348.45h0M842.28,347.65h0M845.49,347.25h0M844.23,348.11h0M844.29,351.34h0M844.39,351.47h0M843.46,350.63h0M842,351.99h0M843.59,352.49h0M844.45,352.32h0M845.33,352.44h0M848,354.51h0M845.06,351.24h0M846.81,351.97h0M848.15,350.82h0M847.49,350.75h0M847.17,350.28h0M848.7,350.73h0M851.56,350.18h0M850.46,350.89h0M852.32,350.53h0M851.21,349.18h0M852.87,352.28h0M850.95,349.7h0M850.31,351.84h0M851.16,354.27h0M850.66,351.91h0M852.14,354.57h0M847.59,355.25h0M850.01,354.73h0M851.06,353.07h0M850.31,357h0M847.56,356.22h0M846.75,356.15h0M846.58,358.59h0M847.22,357.13h0M846.65,359.54h0M846.5,358.45h0M847.51,359.79h0M845.97,358.36h0M846.57,359.29h0M847.12,358.98h0M847.64,359.42h0M849.98,360.56h0M851.21,360.42h0M854.85,361.02h0M852.86,362.36h0M852.86,361.16h0M855.41,359.6h0M853.21,361.44h0M855.33,362.04h0M856.01,363.55h0M855.41,364.19h0M854.55,364.73h0M853.2,364.15h0M851.65,365.66h0M852.75,364.16h0M851.81,367.57h0M853.17,367.33h0M851.72,368.02h0M852.3,367.74h0M849.06,368.81h0M852.15,368.69h0M849.37,370.58h0M848.84,369.23h0M849.5,372.16h0M850.91,372.31h0M853.67,374.4h0M853.54,372.88h0M851.44,373.41h0M853.53,374.28h0M853.69,374.7h0M852.16,375.14h0M853.35,374.71h0M852.37,375.29h0M854.34,376.42h0M851.76,361.93h0M851.8,362.54h0M852.6,364.1h0M854.09,364.52h0M855.7,367.16h0M855.71,367.78h0M857.19,368.1h0M858.21,367.85h0M858.9,370.7h0M859.08,371.44h0M860.25,371.24h0M860.21,370.84h0M862.14,373.05h0M863.99,374.47h0M863.63,372.96h0M866.54,375.9h0M867.17,375.01h0M865.7,377.84h0M866.75,380.49h0M864.84,380.43h0M865.14,382.04h0M865.7,382.67h0M866.65,383.82h0M867.65,386.32h0M868.25,386.06h0M871.71,385.29h0M871.49,385.82h0M872.64,386.72h0M874.12,389.07h0M874.86,388.03h0M875.68,389.34h0M876.56,388.71h0M876.7,388.65h0M879.51,392.03h0M877.79,392.15h0M877.44,392.84h0M878.39,394.18h0M877.99,395.46h0M881.12,396.78h0M879.74,397.31h0M880.54,400.83h0M880.53,401.45h0M879.76,403.22h0M879.72,403.43h0M878.61,405.28h0M887.64,408.19h0M888.04,410.54h0M887.33,410.54h0M886.54,413.52h0M884.9,414.2h0M883.08,416.39h0M882.02,417.6h0M880.78,417.78h0M879.58,419.19h0M879.27,420.3h0M881.9,421.7h0M881.38,421.51h0M880.63,421.4h0M882.5,419.76h0M883.41,418.19h0M887.5,362h0M887.5,365h0M890.42,380.66h0M890,380.18h0M888.82,382.31h0M889.02,382.29h0M890.4,384.23h0M888.69,382.58h0M890.03,385.61h0M887.13,384.75h0M886.64,386.99h0M888.4,386.51h0M889.32,388.46h0M888.13,388.34h0M889.69,387.89h0M890.26,389.46h0M890.66,390.88h0M889.87,391.85h0M890.5,390.7h0M889.44,392.21h0M891.7,393.25h0M892.53,394.34h0M894.24,395.36h0M892.09,395.19h0M892.81,395.44h0M892.87,397.76h0M895,398.1h0M891.74,399.94h0M893.42,399.65h0M896.82,401.44h0M895.61,401.05h0M893.99,402.77h0M895.72,403.38h0M897.09,404.42h0M897.24,404.05h0M896.91,405.46h0M896.79,405.63h0M898.88,406.93h0M898.48,408.32h0M899.76,410.97h0M899.79,409.35h0M899.4,410.63h0M901.81,410.88h0M900.34,412.43h0M901.77,412.62h0M901.18,413.82h0M902.07,413.99h0M902.7,416.19h0M903.05,415.8h0M904.72,413.76h0M906.56,415.81h0M907.88,416.06h0M898,387h0M908.5,406.5h0M908.5,427.5h0M908,422h0M905.33,417.12h0M905.93,415.97h0M906.24,414.8h0M906.35,414.68h0M906.8,414.78h0M906.41,414.45h0M907.37,414.66h0M907.57,414.21h0M907.64,414.74h0M907.62,413.92h0M907.91,414.03h0M908.04,412.53h0M908.87,412.7h0M909.02,413.33h0M909.81,412.94h0M909.44,413.23h0M910.33,412.97h0M910.07,412.41h0M910.53,413.77h0M910.61,413.4h0M911.43,411.75h0M911.59,412.28h0M912.14,412.63h0M912.74,412.99h0M912.62,412.5h0M913.1,411.69h0M913.52,412.8h0M913.49,411.95h0M913.6,412.57h0M914.13,411.8h0M914.43,411.99h0M914.78,411.66h0M915.05,411.47h0M914.86,410.4h0M915.45,411.1h0M915.95,410.38h0M915.7,409.28h0M916.21,409.57h0M916.17,409.37h0M916.67,409.63h0M917.4,409.53h0M917.08,408.17h0M916.8,408.94h0M917.25,408.12h0M917.27,407.19h0M917.6,407.98h0M916.91,406.69h0M917.11,406.09h0M917.42,406.92h0M917.03,406.67h0M917.9,405.39h0M917,406.08h0M917.42,405.71h0M917.29,404.46h0M917.59,405.63h0M918.09,404.06h0M918.09,403.89h0M918.24,401.98h0M918.2,403.45h0M917.47,402.36h0M918.23,402.66h0M917.64,401.03h0M918.09,403.01h0M918.17,403.53h0M918.17,404.13h0M918.53,401.57h0M918.18,404.04h0M918.99,404.23h0M918.7,402.56h0M918.92,404.27h0M918.83,405h0M918.92,406.24h0M918.68,405.23h0M919.33,406.2h0M918.47,406.38h0M918.97,406.98h0M918.88,406.86h0M918.86,407.98h0M919.07,408.37h0M918.88,407.24h0M919.69,408.84h0M919.99,407.83h0M920.11,408.22h0M920.63,409.17h0M920.42,408.66h0M920.52,409.05h0M921.22,409.29h0M921.65,409.29h0M922.79,408.72h0M922.3,408.58h0M923.01,409.67h0M923.28,409.82h0M923.98,409.69h0M923.72,409.37h0M924.21,409.93h0M924.3,409.32h0M924.43,408.44h0M924.72,409.36h0M925.13,409.42h0M926.13,409.5h0M926.12,408.43h0M926.32,408.44h0M926.71,409.02h0M926.87,408.48h0M927.37,408.63h0M927.7,409.16h0M928.25,408.77h0M928.67,409.67h0M928.25,408.79h0M929.15,409.68h0M929.84,409.33h0M929.46,410.25h0M930.03,408.78h0M930.5,408.76h0M931.12,409.63h0M931.31,408.58h0M931.41,408.65h0M931.97,409.11h0M932.47,409.23h0M932.62,408.21h0M929.57,388.53h0M929.45,391.51h0M929.51,394.25h0M929.55,397.13h0M929.48,399.63h0M929.73,402.47h0M929.61,405.63h0M929.48,408.01h0M932.85,409.65h0M932.69,411.88h0M932.43,414.38h0M932.24,416.68h0M232.5,438.1h0M232.67,437.31h0M232.84,438.47h0M233.01,440.79h0M233.18,444.12h0M233.35,436.22h0M233.52,440.79h0M233.69,436.07h0M233.86,445.03h0M234.03,440.1h0M234.2,442.14h0M234.37,438.25h0M234.54,440.26h0M234.71,443.53h0M234.88,436.92h0M235.05,437.8h0M235.22,438.54h0M235.39,443.18h0M235.56,443.74h0M235.73,442.24h0M235.9,437.66h0M236.07,438.19h0M236.24,441.69h0M236.41,439.09h0M236.58,438.18h0M236.75,443.42h0M236.92,437.24h0M237.09,441.34h0M237.26,436.44h0M237.43,442.09h0M237.6,437.12h0M237.77,441.84h0M237.94,440.11h0M238.11,441.23h0M238.28,439.47h0M238.45,435.74h0M238.62,437.8h0M238.79,441.67h0M238.96,436.08h0M239.13,438.7h0M239.3,438.63h0M239.47,438.12h0M239.64,437.24h0M239.81,437.43h0M239.98,436.89h0M240.15,437.22h0M240.32,436h0M240.49,439.92h0M240.66,440.74h0M240.83,437.03h0M241,436.12h0M241.17,437.96h0M241.34,436.41h0M241.51,438.23h0M241.68,437.26h0M241.85,439.13h0M242.02,440.1h0M242.19,440.92h0M242.36,440.01h0M242.53,440.69h0M242.7,441.71h0M242.87,438.2h0M243.04,436.74h0M243.21,436.83h0M243.38,438.63h0M243.55,440.04h0M243.72,440.91h0M243.89,436.83h0M244.06,439.05h0M244.23,436.28h0M244.4,439.4h0M244.57,441.26h0M244.74,437.99h0M244.91,440.13h0M245.08,439.98h0M245.25,440.46h0M245.42,437.26h0M245.59,439.86h0M245.76,436.49h0M245.93,439.52h0M246.1,436.63h0M246.27,444.85h0M246.44,439.49h0M246.61,438.72h0M246.78,445.39h0M246.95,440.9h0M247.12,441.95h0M247.29,446.09h0M247.46,442.54h0M247.63,441.25h0M247.8,445.59h0M247.97,440.51h0M248.14,438.8h0M248.31,445.86h0M248.48,443.29h0M248.65,449.39h0M248.82,444.09h0M248.99,448.31h0M249.16,438.46h0M249.33,438.4h0M249.5,442.3h0M249.67,447.89h0M249.84,443.95h0M250.01,445.55h0M250.18,442.95h0M250.35,442.89h0M250.52,442.86h0M250.69,442.5h0M250.86,440.04h0M251.03,446.81h0M251.2,442.86h0M251.37,449.08h0M251.54,445.53h0M251.71,440.89h0M251.88,442.2h0M252.05,440.9h0M252.22,446.73h0M252.39,441.39h0M252.56,444.44h0M252.73,443.01h0M252.9,442.2h0M253.07,447.26h0M253.24,443.45h0M253.41,441.22h0M253.58,439.64h0M253.75,440.84h0M253.92,439.58h0M254.09,444.39h0M254.26,445.09h0M254.43,443.43h0M254.6,444.5h0M254.77,444.75h0M254.94,442.81h0M255.11,438.82h0M255.28,443.4h0M255.45,437.39h0M255.62,441.78h0M255.79,438.9h0M255.96,443.75h0M256.13,443.44h0M256.3,440.6h0M256.47,442.68h0M256.64,443.64h0M256.81,442.08h0M256.98,440.23h0M257.15,439.31h0M257.32,444.48h0M257.49,439.36h0M257.66,440.15h0M257.83,443.64h0M258,439.48h0M258.17,440.1h0M258.34,441.35h0M258.51,440.33h0M258.68,439.93h0M258.85,443.17h0M259.02,440.7h0M259.19,443.53h0M259.36,440.46h0M259.53,441.29h0M259.7,442.2h0M259.87,440.96h0M260.04,441.97h0M260.21,442.07h0M260.38,442.42h0M260.55,443.29h0M260.72,442.11h0M260.89,443.41h0M261.06,441.8h0M261.23,442.94h0M261.4,442.47h0M261.57,443.4h0M261.74,442.85h0M261.91,443.75h0M262.08,442.1h0M262.25,442.45h0M262.42,443.22h0M262.59,443.53h0M262.76,442.97h0M262.93,444.11h0M263.1,443.12h0M263.27,444.6h0M263.44,444.68h0M263.61,442.5h0M263.78,444.1h0M263.95,444.74h0M264.12,442.74h0M264.29,444.59h0M264.46,444.26h0M264.63,444.17h0M264.8,443.62h0M264.97,444.9h0M265.14,443.57h0M265.31,443.47h0M265.48,443.92h0M265.65,445.67h0M265.82,444.08h0M265.99,443.35h0M266.16,444.07h0M266.33,445.13h0M266.5,444.74h0M266.67,445.02h0M266.84,445.36h0M267.01,443.77h0M267.18,443.95h0M267.35,445.51h0M267.52,444.06h0M267.69,444.47h0M267.86,445.5h0M268.03,444.87h0M268.2,445.8h0M268.37,442.88h0M268.54,444.87h0M268.71,444.52h0M268.88,444.19h0M269.05,443.75h0M269.22,443.87h0M269.39,445.38h0M269.56,443.94h0M269.73,442.74h0M269.9,444.58h0M270.07,445.04h0M270.24,443.03h0M270.41,441.55h0M270.58,444.4h0M270.75,444.02h0M270.92,443.93h0M271.09,440.09h0M271.26,440.46h0M271.43,445.2h0M271.6,442.66h0M271.77,440.71h0M271.94,439.2h0M272.11,441.76h0M272.28,440.56h0M272.45,439.08h0M272.62,442.7h0M272.79,438.75h0M272.96,445.37h0M273.13,438.73h0M273.3,444.97h0M273.47,439.52h0M273.64,438.67h0M273.81,443.69h0M273.98,440.75h0M274.15,436.2h0M274.32,444.74h0M274.49,441h0M274.66,441.15h0M274.83,438.41h0M275,444.68h0M275.17,441.69h0M275.34,433.87h0M275.51,445.69h0M275.68,441.08h0M275.85,436.8h0M276.02,433.41h0M276.19,433.42h0M276.36,434.62h0M276.53,436.63h0M276.7,440.7h0M276.87,436.19h0M277.04,444.69h0M277.21,440.77h0M277.38,439.31h0M277.55,439.35h0M277.72,436.48h0M277.89,441.06h0M278.06,436.5h0M278.23,438.17h0M278.4,441.11h0M278.57,443.01h0M278.74,439.09h0M278.91,444.36h0M279.08,440.03h0M279.25,446.8h0M279.42,438.25h0M279.59,443.18h0M279.76,441.08h0M279.93,442.32h0M280.1,439.45h0M280.27,441.76h0M280.44,440.83h0M280.61,444.88h0M280.78,445.69h0M280.95,445.81h0M281.12,446.61h0M281.29,443.27h0M281.46,444.86h0M281.63,446.78h0M281.8,444h0M281.97,444.12h0M282.14,444.91h0M282.31,441.3h0M282.48,445.98h0M282.65,443.53h0M282.82,445.4h0M282.99,442.01h0M283.16,443.96h0M283.33,444.36h0M283.5,445.41h0M283.67,444.49h0M283.84,444.61h0M284.01,446.08h0M284.18,442.9h0M284.35,443.76h0M284.52,445.77h0M284.69,443.8h0M284.86,444.41h0M285.03,444.04h0M285.2,446.21h0M285.37,445.01h0M285.54,445.53h0M285.71,442.37h0M285.88,444.07h0M286.05,445.72h0M286.22,443.27h0M286.39,446.06h0M286.56,446.79h0M286.73,446.19h0M286.9,446.12h0M287.07,444.25h0M287.24,443.68h0M287.41,447.38h0M287.58,445.2h0M287.75,447.42h0M287.92,446.49h0M288.09,447.75h0M288.26,443.87h0M288.43,447.38h0M288.6,447.21h0M288.77,446.54h0M288.94,444.88h0M289.11,445.16h0M289.28,448.46h0M289.45,446.18h0M289.62,447.88h0M289.79,448.97h0M289.96,445.78h0M290.13,445.28h0M290.3,445.38h0M290.47,447.48h0M290.64,449.64h0M290.81,449.84h0M290.98,449.12h0M291.15,446.42h0M291.32,447.93h0M291.49,447.67h0M291.66,447.97h0M291.83,448.09h0M292,447.79h0M292.17,450.71h0M292.34,450.06h0M292.51,450.4h0M292.68,450.21h0M292.85,453.62h0M293.02,450.83h0M293.19,450.26h0M293.36,451.32h0M293.53,451.37h0M293.7,452.27h0M293.87,452.77h0M294.04,452.01h0M294.21,455.05h0M294.38,452.02h0M294.55,457.65h0M294.72,457.8h0M294.89,455.27h0M295.06,457.22h0M295.23,453.53h0M295.4,454.18h0M295.57,458.56h0M295.74,455.62h0M295.91,457.47h0M296.08,457.97h0M296.25,457.29h0M296.42,455.77h0M296.59,455.4h0M296.76,453.57h0M296.93,458.41h0M297.1,457.44h0M297.27,453.97h0M297.44,458.3h0M297.61,455.4h0M297.78,458.43h0M297.95,454.91h0M298.12,454.4h0M298.29,458.53h0M298.46,458.69h0M298.63,456.92h0M298.8,458.82h0M298.97,455.35h0M299.14,455.73h0M299.31,459.09h0M299.48,458.97h0M299.65,458.08h0M299.82,456.84h0M299.99,458.23h0M300.16,455.9h0M300.33,457.2h0M300.5,458.97h0M300.67,456.99h0M300.84,456.76h0M301.01,458.06h0M301.18,458.75h0M301.35,457.67h0M301.52,459.4h0M301.69,459.78h0M301.86,457.68h0M302.03,458.31h0M302.2,459.83h0M302.37,458.88h0M302.54,459.74h0M302.71,458.5h0M302.88,460.14h0M303.05,460.29h0M303.22,460.2h0M303.39,460.6h0M303.56,459.24h0M303.73,459.71h0M303.9,460.66h0M304.07,460.51h0M304.24,460.07h0M304.41,458.72h0M304.58,459.35h0M304.75,460.12h0M304.92,461.06h0M305.09,461.58h0M305.26,461.89h0M305.43,460.29h0M305.6,461.99h0M305.77,460.46h0M305.94,459.99h0M306.11,462.14h0M306.28,459.96h0M306.45,461.06h0M306.62,461.96h0M306.79,461.64h0M306.96,462.33h0M307.13,461.55h0M307.3,461.4h0M307.47,461.2h0M307.64,462.05h0M307.81,461.98h0M307.98,461.91h0M308.15,462.46h0M308.32,462.08h0M308.49,462.66h0M308.66,462.23h0M308.83,463.04h0M309,461.62h0M309.17,462.12h0M309.34,462.06h0M309.51,463.65h0M309.68,462.95h0M309.85,463.97h0M310.02,463.07h0M310.19,464.25h0M310.36,463.89h0M310.53,464.51h0M310.7,462.93h0M310.87,465.2h0M311.04,463.21h0M311.21,464.79h0M311.38,464.54h0M311.55,463.8h0M311.72,463.06h0M311.89,462.97h0M312.06,462.96h0M312.23,465.1h0M312.4,465.3h0M312.57,463.67h0M312.74,463.51h0M312.91,463.54h0M313.08,466.01h0M313.25,466.91h0M313.42,467.72h0M313.59,465.99h0M313.76,467.39h0M313.93,465.22h0M314.1,464.46h0M314.27,467.11h0M314.44,466.04h0M314.61,466.56h0M314.78,465.24h0M314.95,468.35h0M315.12,469.26h0M315.29,468.35h0M315.46,465.04h0M315.63,465.57h0M315.8,465h0M315.97,468.89h0M316.14,465.64h0M316.31,464.24h0M316.48,467.43h0M316.65,464.22h0M316.82,463.37h0M316.99,464.67h0M317.16,462.82h0M317.33,464.75h0M317.5,464.46h0M317.67,463.67h0M317.84,464.7h0M318.01,465.65h0M318.18,463.29h0M318.35,462.77h0M318.52,464.37h0M318.69,463.14h0M318.86,462.19h0M319.03,465.31h0M319.2,461.6h0M319.37,462.33h0M319.54,461.64h0M319.71,463.92h0M319.88,463.05h0M320.05,464.08h0M320.22,461.12h0M320.39,463.74h0M320.56,463.04h0M320.73,460.5h0M320.9,461.17h0M321.07,463.91h0M321.24,462.09h0M321.41,460.87h0M321.58,460.77h0M321.75,461.54h0M321.92,463.18h0M322.09,460.91h0M322.26,461.04h0M322.43,464.19h0M322.6,461.59h0M322.77,463.48h0M322.94,464.18h0M323.11,463.83h0M323.28,463.33h0M323.45,462.59h0M323.62,463.72h0M323.79,462.29h0M323.96,464.04h0M324.13,463.78h0M324.3,461.32h0M324.47,460.9h0M324.64,463.73h0M324.81,462.97h0M324.98,463.55h0M325.15,463.73h0M325.32,462.8h0M325.49,461.18h0M325.66,463.13h0M325.83,461.67h0M326,462.58h0M326.17,460.16h0M326.34,464.73h0M326.51,460.67h0M326.68,464.83h0M326.85,463.72h0M327.02,461.42h0M327.19,462.33h0M327.36,460.27h0M327.53,458.95h0M327.7,461.66h0M327.87,459.01h0M328.04,459.54h0M328.21,458.71h0M328.38,461.68h0M328.55,462.34h0M328.72,464.2h0M328.89,459.36h0M329.06,463.29h0M329.23,461.51h0M329.4,457.4h0M329.57,459.76h0M329.74,464.11h0M329.91,462.25h0M330.08,461.74h0M330.25,461.95h0M330.42,463.88h0M330.59,460.68h0M330.76,457.54h0M330.93,456.82h0M331.1,460.81h0M331.27,457.69h0M331.44,463.68h0M331.61,464.01h0M331.78,460.67h0M331.95,461.02h0M332.12,457.02h0M332.29,462.63h0M332.46,459.38h0M332.63,462.12h0M332.8,459.33h0M332.97,462.5h0M333.14,456.6h0M333.31,463.98h0M333.48,461.43h0M333.65,458.4h0M333.82,458.94h0M333.99,457.14h0M334.16,459.76h0M334.33,463.24h0M334.5,459.39h0M334.67,458.01h0M334.84,459.18h0M335.01,458.72h0M335.18,458.8h0M335.35,459.65h0M335.52,461.42h0M335.69,461.36h0M335.86,455.55h0M336.03,463.1h0M336.2,458.33h0M336.37,459.04h0M336.54,459.62h0M336.71,462.5h0M336.88,456.22h0M337.05,461.89h0M337.22,460.7h0M337.39,459.73h0M337.56,458.89h0M337.73,459.72h0M337.9,460.69h0M338.07,459.22h0M338.24,461.85h0M338.41,459.86h0M338.58,459.29h0M338.75,461.5h0M338.92,457.28h0M339.09,461.3h0M339.26,459.45h0M339.43,458.03h0M339.6,460.26h0M339.77,458.59h0M339.94,459.43h0M340.11,459.64h0M340.28,461.11h0M340.45,460.16h0M340.62,459.4h0M340.79,460.08h0M340.96,460.11h0M341.13,458.45h0M341.3,459.24h0M341.47,458.58h0M341.64,458.42h0M341.81,459.14h0M341.98,458.2h0M342.15,458.7h0M342.32,458.72h0M342.49,459.89h0M342.66,459.53h0M342.83,458.54h0M343,461.36h0M343.17,460.61h0M343.34,460.41h0M343.51,460.31h0M343.68,460.58h0M343.85,458.95h0M344.02,460.61h0M344.19,459.52h0M344.36,459.03h0M344.53,459.32h0M344.7,460.96h0M344.87,459.72h0M345.04,461.11h0M345.21,461.39h0M345.38,461.15h0M345.55,459.67h0M345.72,459.84h0M345.89,459.88h0M346.06,458.21h0M346.23,460.19h0M346.4,460.25h0M346.57,458.28h0M346.74,458.63h0M346.91,459.47h0M347.08,460.4h0M347.25,458.43h0M347.42,460h0M347.59,457.33h0M347.76,458.78h0M347.93,457.89h0M348.1,459.63h0M348.27,457.35h0M348.44,456.96h0M348.61,457.81h0M348.78,458.96h0M348.95,458.81h0M349.12,457.42h0M349.29,458.62h0M349.46,456.6h0M349.63,457.52h0M349.8,458.88h0M349.97,456.37h0M350.14,456.49h0M350.31,456.75h0M350.48,456.04h0M350.65,457.11h0M350.82,456.53h0M350.99,457.11h0M351.16,454.5h0M351.33,457.84h0M351.5,455.83h0M351.67,454.12h0M351.84,456.62h0M352.01,454.27h0M352.18,454.3h0M352.35,456.98h0M352.52,453.17h0M352.69,457.83h0M352.86,453.77h0M353.03,455.7h0M353.2,452.68h0M353.37,457.85h0M353.54,457.5h0M353.71,455.53h0M353.88,452.89h0M354.05,453.35h0M354.22,454.68h0M354.39,452.46h0M354.56,454.47h0M354.73,456.64h0M354.9,451h0M355.07,451.78h0M355.24,456.79h0M355.41,455.94h0M355.58,449.72h0M355.75,450.11h0M355.92,454.06h0M356.09,455.36h0M356.26,456.32h0M356.43,449.95h0M356.6,452.4h0M356.77,452.59h0M356.94,455h0M357.11,452.2h0M357.28,448.79h0M357.45,448.96h0M357.62,452.01h0M357.79,449.2h0M357.96,451.9h0M358.13,452.37h0M358.3,451.67h0M358.47,452.1h0M358.64,448.08h0M358.81,453.3h0M358.98,448.62h0M359.15,452.26h0M359.32,449.86h0M359.49,451.92h0M359.66,455.11h0M359.83,455.54h0M360,456.06h0M360.17,454.84h0M360.34,453.86h0M360.51,456.03h0M360.68,450.81h0M360.85,450.72h0M361.02,457.21h0M361.19,456.22h0M361.36,454.25h0M361.53,453.15h0M361.7,458.65h0M361.87,453.24h0M362.04,453.73h0M362.21,458.94h0M362.38,457.77h0M362.55,458.54h0M362.72,459.27h0M362.89,459.52h0M363.06,456.06h0M363.23,455.37h0M363.4,457.51h0M363.57,456.65h0M363.74,456.6h0M363.91,458.16h0M364.08,460.02h0M364.25,458.37h0M364.42,457.52h0M364.59,457.03h0M364.76,460.26h0M364.93,459.53h0M365.1,457.84h0M365.27,460.56h0M365.44,457.56h0M365.61,457.75h0M365.78,458.76h0M365.95,460.93h0M366.12,460h0M366.29,460.81h0M366.46,461.79h0M366.63,462.22h0M366.8,461.76h0M366.97,460.34h0M367.14,460.88h0M367.31,458.98h0M367.48,459.42h0M367.65,460.89h0M367.82,460.63h0M367.99,461.47h0M368.16,459.79h0M368.33,463.22h0M368.5,461.74h0M368.67,460.8h0M368.84,462.54h0M369.01,462.46h0M369.18,463.01h0M369.35,464.04h0M369.52,462.43h0M369.69,461.21h0M369.86,461.98h0M370.03,462.73h0M370.2,462.3h0M370.37,463.04h0M370.54,463.5h0M370.71,463.21h0M370.88,461.84h0M371.05,461.79h0M371.22,461.83h0M371.39,463.83h0M371.56,463.03h0M371.73,463.5h0M371.9,463.08h0M372.07,463.99h0M372.24,464.92h0M372.41,463.82h0M372.58,462.63h0M372.75,464.23h0M372.92,462.73h0M373.09,464.18h0M373.26,463.87h0M373.43,462.22h0M373.6,462.79h0M373.77,462.93h0M373.94,463.42h0M374.11,464.97h0M374.28,464.49h0M374.45,463.83h0M374.62,463.64h0M374.79,462.55h0M374.96,463.15h0M375.13,465.14h0M375.3,463.63h0M375.47,463.32h0M375.64,465.32h0M375.81,463.17h0M375.98,464.9h0M376.15,463.64h0M376.32,463.6h0M376.49,463.5h0M376.66,463.31h0M376.83,463.29h0M377,463.35h0M377.17,463.89h0M377.34,463.83h0M377.51,462.56h0M377.68,463.68h0M377.85,464.96h0M378.02,464.76h0M378.19,462.88h0M378.36,463.12h0M378.53,464.39h0M378.7,464.39h0M378.87,462.65h0M379.04,463.43h0M379.21,464.03h0M379.38,464.55h0M379.55,464.19h0M379.72,464.43h0M379.89,465.16h0M380.06,465.14h0M380.23,463.12h0M380.4,465.16h0M380.57,463.18h0M380.74,462.55h0M380.91,464.95h0M381.08,465.36h0M381.25,462.9h0M381.42,464.93h0M381.59,462.85h0M381.76,465.48h0M381.93,464.08h0M382.1,464.17h0M382.27,465.53h0M382.44,463.62h0M382.61,464.39h0M382.78,462.99h0M382.95,463.25h0M383.12,464.42h0M383.29,465.52h0M383.46,463.92h0M383.63,462.74h0M383.8,463.5h0M383.97,464.39h0M384.14,462.96h0M384.31,463.24h0M384.48,463.52h0M384.65,465.62h0M384.82,464.23h0M384.99,463.27h0M385.16,464.64h0M385.33,464.79h0M385.5,464.94h0M385.67,465.37h0M385.84,464.81h0M386.01,463.11h0M386.18,464.93h0M386.35,464.98h0M386.52,464.66h0M386.69,463.51h0M386.86,463.73h0M387.03,465.11h0M387.2,465.59h0M387.37,463.37h0M387.54,465.59h0M387.71,464.61h0M387.88,465.2h0M388.05,465.71h0M388.22,463.51h0M388.39,465.56h0M388.56,465.61h0M388.73,464.77h0M388.9,464.14h0M389.07,465.14h0M389.24,465.19h0M389.41,464.65h0M389.58,465.04h0M389.75,465.69h0M389.92,465.87h0M390.09,466.29h0M390.26,466.3h0M390.43,463.34h0M390.6,465.93h0M390.77,465.78h0M390.94,466.06h0M391.11,465.35h0M391.28,465.75h0M391.45,465.77h0M391.62,463.05h0M391.79,462.91h0M391.96,464.21h0M392.13,465.25h0M392.3,463.95h0M392.47,463.79h0M392.64,464.83h0M392.81,463.87h0M392.98,464.56h0M393.15,463.76h0M393.32,463.4h0M393.49,463.25h0M393.66,464.14h0M393.83,461.84h0M394,462.47h0M394.17,461.57h0M394.34,463.36h0M394.51,462.43h0M394.68,463.99h0M394.85,462.04h0M395.02,463.88h0M395.19,461.33h0M395.36,463.37h0M395.53,462.88h0M395.7,459.79h0M395.87,460.48h0M396.04,457.72h0M396.21,460.13h0M396.38,460.07h0M396.55,458.39h0M396.72,457.77h0M396.89,457.74h0M397.06,459.32h0M397.23,454.79h0M397.4,458.98h0M397.57,457.74h0M397.74,454.83h0M397.91,459.14h0M398.08,455.65h0M398.25,454.92h0M398.42,454.97h0M398.59,453.28h0M398.76,454.73h0M398.93,450.97h0M399.1,455.16h0M399.27,452.81h0M399.44,455.39h0M399.61,454.8h0M399.78,457.95h0M399.95,455.7h0M400.12,449.45h0M400.29,450.28h0M400.46,453.32h0M400.63,453.58h0M400.8,452.93h0M400.97,454.97h0M401.14,456.82h0M401.31,449.64h0M401.48,454.62h0M401.65,451.92h0M401.82,452.98h0M401.99,458.05h0M402.16,450.54h0M402.33,451.92h0M402.5,454.72h0M402.67,457.06h0M402.84,459.07h0M403.01,459.47h0M403.18,459.28h0M403.35,458.14h0M403.52,455.39h0M403.69,454.07h0M403.86,459.52h0M404.03,458.68h0M404.2,458.53h0M404.37,459.3h0M404.54,460.85h0M404.71,457.61h0M404.88,455.07h0M405.05,453.03h0M405.22,455.5h0M405.39,459.54h0M405.56,457.3h0M405.73,456.16h0M405.9,455.99h0M406.07,455.57h0M406.24,460.11h0M406.41,461.04h0M406.58,463.45h0M406.75,462.41h0M406.92,458.35h0M407.09,459.04h0M407.26,464.25h0M407.43,460.26h0M407.6,462.07h0M407.77,463.85h0M407.94,463.16h0M408.11,459.73h0M408.28,461.91h0M408.45,462.04h0M408.62,461.82h0M408.79,458.5h0M408.96,464.6h0M409.13,460.81h0M409.3,462h0M409.47,462.65h0M409.64,457.76h0M409.81,455.23h0M409.98,460.69h0M410.15,463.55h0M410.32,463.23h0M410.49,463h0M410.66,455.07h0M410.83,462.86h0M411,452.74h0M411.17,455.11h0M411.34,461.33h0M411.51,452.41h0M411.68,460.12h0M411.85,459.94h0M412.02,460.83h0M412.19,459.91h0M412.36,458.09h0M412.53,452.08h0M412.7,451.36h0M412.87,450.81h0M413.04,452.86h0M413.21,452.64h0M413.38,458.64h0M413.55,457.03h0M413.72,450.03h0M413.89,453.06h0M414.06,455.52h0M414.23,451.88h0M414.4,452.65h0M414.57,455.05h0M414.74,454.99h0M414.91,449.31h0M415.08,453.63h0M415.25,450.65h0M415.42,447.05h0M415.59,448.82h0M415.76,453.21h0M415.93,447.06h0M416.1,446.5h0M416.27,453.13h0M416.44,448.13h0M416.61,452.3h0M416.78,445.97h0M416.95,443.41h0M417.12,451.67h0M417.29,445.23h0M417.46,451.49h0M417.63,448.35h0M417.8,449.88h0M417.97,443.75h0M418.14,447.9h0M418.31,448.73h0M418.48,446.81h0M418.65,449.26h0M418.82,448.7h0M418.99,444.46h0M419.16,448.41h0M419.33,445.43h0M419.5,447.33h0M419.67,438.18h0M419.84,439.61h0M420.01,437.57h0M420.18,435.77h0M420.35,442.63h0M420.52,445.87h0M420.69,441.62h0M420.86,445.2h0M421.03,443.17h0M421.2,440.85h0M421.37,438.35h0M421.54,436.06h0M421.71,444.71h0M421.88,444.53h0M422.05,444.05h0M422.22,437.6h0M422.39,442.34h0M422.56,439.9h0M422.73,443.19h0M422.9,440.26h0M423.07,433.93h0M423.24,436.96h0M423.41,436.88h0M423.58,437.55h0M423.75,437.73h0M423.92,434.01h0M424.09,439.63h0M424.26,444.52h0M424.43,440.83h0M424.6,436.23h0M424.77,444.87h0M424.94,443.79h0M425.11,443.9h0M425.28,435.14h0M425.45,441.93h0M425.62,437.62h0M425.79,443.1h0M425.96,438.19h0M426.13,436.7h0M426.3,445.26h0M426.47,443.96h0M426.64,441.55h0M426.81,439.57h0M426.98,440.63h0M427.15,441.79h0M427.32,439.01h0M427.49,438.8h0M427.66,437.06h0M427.83,441.52h0M428,437.34h0M428.17,439.25h0M428.34,437.95h0M428.51,445.69h0M428.68,441.24h0M428.85,437.23h0M429.02,437.22h0M429.19,444.83h0M429.36,446.87h0M429.53,439.31h0M429.7,443.31h0M429.87,442.67h0M430.04,442.42h0M430.21,445.34h0M430.38,446.62h0M430.55,446.97h0M430.72,441.38h0M430.89,445.31h0M431.06,441.24h0M431.23,441.49h0M431.4,442.92h0M431.57,444.96h0M431.74,444.15h0M431.91,440.01h0M432.08,444.02h0M432.25,441.03h0M432.42,441h0M432.59,447.17h0M432.76,445.16h0M432.93,441.52h0M433.1,446.13h0M433.27,447.9h0M433.44,446.69h0M433.61,440.44h0M433.78,444.85h0M433.95,442.61h0M434.12,442.82h0M434.29,440.56h0M434.46,440h0M434.63,447.16h0M434.8,442.71h0M434.97,440.19h0M435.14,442.73h0M435.31,442.7h0M435.48,440.27h0M435.65,445.09h0M435.82,444.18h0M435.99,444.97h0M436.16,445.93h0M436.33,446.24h0M436.5,447.2h0M436.67,444.91h0M436.84,447.06h0M437.01,447.11h0M437.18,441.13h0M437.35,442.65h0M437.52,443.36h0M437.69,443.31h0M437.86,440.65h0M438.03,442.83h0M438.2,445.7h0M438.37,443.74h0M438.54,444.87h0M438.71,445.08h0M438.88,444.64h0M439.05,440.51h0M439.22,443.05h0M439.39,445.52h0M439.56,443.03h0M439.73,447h0M439.9,446.94h0M440.07,444.09h0M440.24,447.08h0M440.41,442.26h0M440.58,444h0M440.75,446.75h0M440.92,441.71h0M441.09,444.29h0M441.26,443.76h0M441.43,443.64h0M441.6,443.94h0M441.77,444.93h0M441.94,446.77h0M442.11,441.93h0M442.28,442.51h0M442.45,445.5h0M442.62,444.74h0M442.79,445.73h0M442.96,446.39h0M443.13,446.28h0M443.3,443.74h0M443.47,443.27h0M443.64,445.32h0M443.81,442.59h0M443.98,445.25h0M444.15,445.4h0M444.32,444.79h0M444.49,446.53h0M444.66,442.97h0M444.83,442.82h0M445,446.9h0M445.17,446.55h0M445.34,443.08h0M445.51,446.11h0M445.68,445.58h0M445.85,443.72h0M446.02,444.94h0M446.19,445.77h0M446.36,445.86h0M446.53,444.2h0M446.7,443.46h0M446.87,443.74h0M447.04,444.54h0M447.21,444.89h0M447.38,444.51h0M447.55,445.12h0M447.72,444.19h0M447.89,445.43h0M448.06,445.25h0M448.23,445.17h0M448.4,445.55h0M448.57,447.51h0M448.74,447.26h0M448.91,444.71h0M449.08,444.66h0M449.25,446.52h0M449.42,444.73h0M449.59,447.58h0M449.76,445.94h0M449.93,448.31h0M450.1,446h0M450.27,446.65h0M450.44,444.84h0M450.61,445.25h0M450.78,445.29h0M450.95,448.17h0M451.12,448.38h0M451.29,447.02h0M451.46,446.98h0M451.63,447.5h0M451.8,446.28h0M451.97,448.15h0M452.14,445.49h0M452.31,448.07h0M452.48,444.68h0M452.65,446.84h0M452.82,446.94h0M452.99,447.48h0M453.16,445.29h0M453.33,445.9h0M453.5,448.1h0M453.67,445.35h0M453.84,445.72h0M454.01,446.79h0M454.18,448.35h0M454.35,445.86h0M454.52,445.25h0M454.69,445.07h0M454.86,448.35h0M455.03,445.56h0M455.2,447.36h0M455.37,444.71h0M455.54,446.02h0M455.71,446.56h0M455.88,447.09h0M456.05,446.64h0M456.22,445.73h0M456.39,444.64h0M456.56,445.57h0M456.73,445.71h0M456.9,445.04h0M457.07,444.26h0M457.24,447.25h0M457.41,444.32h0M457.58,445.02h0M457.75,445.31h0M457.92,443.99h0M458.09,446.54h0M458.26,443.82h0M458.43,446.65h0M458.6,443.09h0M458.77,443.01h0M458.94,445.1h0M459.11,445.08h0M459.28,444.6h0M459.45,446.69h0M459.62,445.79h0M459.79,446.09h0M459.96,445.78h0M460.13,445.92h0M460.3,445.78h0M460.47,446.18h0M460.64,445.32h0M460.81,441.67h0M460.98,443.6h0M461.15,444.72h0M461.32,443.32h0M461.49,443.19h0M461.66,441.74h0M461.83,440.5h0M462,445.73h0M462.17,441.6h0M462.34,438.82h0M462.51,441.25h0M462.68,446.27h0M462.85,438.14h0M463.02,446.1h0M463.19,439.44h0M463.36,438.2h0M463.53,446.15h0M463.7,440.16h0M463.87,445.98h0M464.04,440.23h0M464.21,441.03h0M464.38,446.05h0M464.55,440.35h0M464.72,444.79h0M464.89,444.94h0M465.06,441.56h0M465.23,439.47h0M465.4,444.74h0M465.57,439.84h0M465.74,441.47h0M465.91,440.27h0M466.08,445.46h0M466.25,440.96h0M466.42,442.96h0M466.59,443.87h0M466.76,441.03h0M466.93,443.21h0M467.1,444.27h0M467.27,446.09h0M467.44,442.4h0M467.61,441.87h0M467.78,441.96h0M467.95,443.37h0M468.12,441.86h0M468.29,442.5h0M468.46,443.98h0M468.63,444.6h0M468.8,444.54h0M468.97,444.17h0M469.14,441.19h0M469.31,444.33h0M469.48,441.76h0M469.65,445.35h0M469.82,445.64h0M469.99,442.29h0M470.16,445.97h0M470.33,444.29h0M470.5,444.85h0M470.67,444.86h0M470.84,444.59h0M471.01,442.01h0M471.18,444.29h0M471.35,446.19h0M471.52,445.49h0M471.69,443.78h0M471.86,446.27h0M472.03,445.91h0M472.2,443.91h0M472.37,445.73h0M472.54,443.26h0M472.71,442.82h0M472.88,444.37h0M473.05,445.67h0M473.22,445.26h0M473.39,443.77h0M473.56,444.54h0M473.73,445.63h0M473.9,445.52h0M474.07,446.34h0M474.24,443.53h0M474.41,445.65h0M474.58,445.44h0M474.75,444.21h0M474.92,446.46h0M475.09,444.96h0M475.26,445.39h0M475.43,446.48h0M475.6,445h0M475.77,445.37h0M475.94,445.07h0M476.11,445.85h0M476.28,445.29h0M476.45,443.6h0M476.62,443.28h0M476.79,445.9h0M476.96,445.4h0M477.13,443.41h0M477.3,445.69h0M477.47,445.01h0M477.64,444.8h0M477.81,445.22h0M477.98,445.72h0M478.15,443.76h0M478.32,442.97h0M478.49,444.85h0M478.66,443.69h0M478.83,444.9h0M479,444.76h0M479.17,444.7h0M479.34,445.08h0M479.51,443.06h0M479.68,443.1h0M479.85,444.09h0M480.02,443h0M480.19,443.99h0M480.36,443.26h0M480.53,445.42h0M480.7,444.96h0M480.87,444.8h0M481.04,445.03h0M481.21,443.09h0M481.38,443.96h0M481.55,444.21h0M481.72,442.42h0M481.89,443.02h0M482.06,444.82h0M482.23,443.01h0M482.4,445.06h0M482.57,443.65h0M482.74,443.73h0M482.91,442.49h0M483.08,444.84h0M483.25,443.38h0M483.42,442.75h0M483.59,442.55h0M483.76,442.52h0M483.93,444.52h0M484.1,443.15h0M484.27,443.88h0M484.44,443.04h0M484.61,444.97h0M484.78,443.57h0M484.95,443.38h0M485.12,445.02h0M485.29,444.59h0M485.46,445.16h0M485.63,444.46h0M485.8,442.68h0M485.97,443.47h0M486.14,444.57h0M486.31,442.74h0M486.48,443.47h0M486.65,442.45h0M486.82,443.5h0M486.99,443.88h0M487.16,442.67h0M487.33,444.05h0M487.5,442.62h0M487.67,443.75h0M487.84,444.4h0M488.01,444.53h0M488.18,443.61h0M488.35,442.81h0M488.52,445.34h0M488.69,444h0M488.86,443.85h0M489.03,442.48h0M489.2,444.71h0M489.37,444.81h0M489.54,444.62h0M489.71,443.84h0M489.88,443.88h0M490.05,444.97h0M490.22,445.33h0M490.39,444.32h0M490.56,444.48h0M490.73,445.11h0M490.9,443.59h0M491.07,443.11h0M491.24,444.9h0M491.41,444.5h0M491.58,443.66h0M491.75,445.25h0M491.92,444.99h0M492.09,442.73h0M492.26,444.25h0M492.43,444.89h0M492.6,445.56h0M492.77,444.95h0M492.94,443.44h0M493.11,443.18h0M493.28,445.84h0M493.45,445.52h0M493.62,444.11h0M493.79,444.09h0M493.96,445.28h0M494.13,444.89h0M494.3,443.64h0M494.47,444.4h0M494.64,446.08h0M494.81,444.31h0M494.98,442.87h0M495.15,443.16h0M495.32,443.33h0M495.49,445.08h0M495.66,444.1h0M495.83,445.15h0M496,443.83h0M496.17,445.68h0M496.34,444.62h0M496.51,446.26h0M496.68,445.66h0M496.85,444.6h0M497.02,446.5h0M497.19,444.04h0M497.36,444.62h0M497.53,444.19h0M497.7,442.93h0M497.87,444.03h0M498.04,443.09h0M498.21,443.26h0M498.38,443.28h0M498.55,444.33h0M498.72,445.11h0M498.89,445.17h0M499.06,445.48h0M499.23,443.6h0M499.4,444.04h0M499.57,443.35h0M499.74,446.74h0M499.91,443.49h0M500.08,445.59h0M500.25,445h0M500.42,443.21h0M500.59,446.47h0M500.76,445.1h0M500.93,445.35h0M501.1,446.16h0M501.27,444.32h0M501.44,444.68h0M501.61,443.71h0M501.78,446.71h0M501.95,444.72h0M502.12,446.6h0M502.29,446.62h0M502.46,444.88h0M502.63,445.64h0M502.8,444.27h0M502.97,445.23h0M503.14,444.62h0M503.31,446.94h0M503.48,445.98h0M503.65,446.83h0M503.82,444.47h0M503.99,444.34h0M504.16,443.64h0M504.33,445.74h0M504.5,444.73h0M504.67,444.69h0M504.84,445.32h0M505.01,445.73h0M505.18,446.29h0M505.35,446.69h0M505.52,444.26h0M505.69,445.22h0M505.86,446.63h0M506.03,444.49h0M506.2,445.24h0M506.37,444.8h0M506.54,445.8h0M506.71,445.67h0M506.88,444.45h0M507.05,443.92h0M507.22,445.14h0M507.39,446.15h0M507.56,444.2h0M507.73,444.49h0M507.9,443.52h0M508.07,445.75h0M508.24,442.7h0M508.41,443.81h0M508.58,442.69h0M508.75,443.9h0M508.92,444.41h0M509.09,442.56h0M509.26,444.53h0M509.43,443h0M509.6,442.73h0M509.77,443.14h0M509.94,445.26h0M510.11,445.09h0M510.28,442.94h0M510.45,441.92h0M510.62,442.18h0M510.79,443.56h0M510.96,441.9h0M511.13,444.53h0M511.3,444.2h0M511.47,443.47h0M511.64,442.41h0M511.81,445.74h0M511.98,443.33h0M512.15,442.84h0M512.32,445.98h0M512.49,445.01h0M512.66,444.14h0M512.83,443.33h0M513,445.36h0M513.17,445.1h0M513.34,446.08h0M513.51,446.67h0M513.68,445.23h0M513.85,446.44h0M514.02,446.98h0M514.19,444.45h0M514.36,446.29h0M514.53,447.33h0M514.7,447.35h0M514.87,447.34h0M515.04,446.58h0M515.21,448.18h0M515.38,447.14h0M515.55,446.74h0M515.72,447.45h0M515.89,448.84h0M516.06,446.79h0M516.23,446.73h0M516.4,447.05h0M516.57,447.45h0M516.74,448h0M516.91,447.8h0M517.08,447.47h0M517.25,448.71h0M517.42,450.43h0M517.59,451.34h0M517.76,450.29h0M517.93,452.84h0M518.1,448.46h0M518.27,453.21h0M518.44,448.79h0M518.61,452.18h0M518.78,450.03h0M518.95,453.41h0M519.12,453.88h0M519.29,454.6h0M519.46,451.36h0M519.63,450.6h0M519.8,455.09h0M519.97,454.84h0M520.14,453.12h0M520.31,452.91h0M520.48,453.35h0M520.65,456.45h0M520.82,450.67h0M520.99,453.81h0M521.16,455.49h0M521.33,450.46h0M521.5,454.55h0M521.67,454.95h0M521.84,451.33h0M522.01,451.88h0M522.18,452.34h0M522.35,455.57h0M522.52,454.99h0M522.69,455.01h0M522.86,451.81h0M523.03,454.55h0M523.2,452.35h0M523.37,452.77h0M523.54,452.97h0M523.71,453.24h0M523.88,451.15h0M524.05,451.23h0M524.22,449.99h0M524.39,453.32h0M524.56,451.31h0M524.73,453.43h0M524.9,450.31h0M525.07,451.74h0M525.24,453.12h0M525.41,451.78h0M525.58,452.41h0M525.75,452.4h0M525.92,450.8h0M526.09,449.44h0M526.26,450.91h0M526.43,450.87h0M526.6,449.67h0M526.77,449.15h0M526.94,449.58h0M527.11,450.88h0M527.28,449.55h0M527.45,451.04h0M527.62,449.79h0M527.79,451.17h0M527.96,450.65h0M528.13,451.7h0M528.3,449.61h0M528.47,451.3h0M528.64,450.39h0M528.81,449.72h0M528.98,449.66h0M529.15,449.96h0M529.32,451.31h0M529.49,451.88h0M529.66,450.3h0M529.83,450.46h0M530,449.87h0M530.17,451.2h0M530.34,449.9h0M530.51,450.66h0M530.68,452.95h0M530.85,451.6h0M531.02,450.85h0M531.19,452.84h0M531.36,449.61h0M531.53,453.07h0M531.7,453.56h0M531.87,452.1h0M532.04,450.77h0M532.21,450.88h0M532.38,454.74h0M532.55,453.85h0M532.72,455.54h0M532.89,450.9h0M533.06,452.4h0M533.23,454.87h0M533.4,453.71h0M533.57,453.12h0M533.74,450.73h0M533.91,456.67h0M534.08,451.46h0M534.25,455.5h0M534.42,454.86h0M534.59,456.49h0M534.76,456.65h0M534.93,454.42h0M535.1,455.28h0M535.27,451.71h0M535.44,457.52h0M535.61,453.8h0M535.78,452.6h0M535.95,452.13h0M536.12,454.5h0M536.29,453.26h0M536.46,453.79h0M536.63,456.13h0M536.8,455.81h0M536.97,455.29h0M537.14,454.73h0M537.31,458.84h0M537.48,458.4h0M537.65,457.35h0M537.82,456h0M537.99,460.86h0M538.16,455.88h0M538.33,458.21h0M538.5,457.23h0M538.67,460.94h0M538.84,459.87h0M539.01,462.33h0M539.18,461h0M539.35,461.03h0M539.52,458.25h0M539.69,458.24h0M539.86,461.49h0M540.03,462.26h0M540.2,462.61h0M540.37,463.17h0M540.54,462.71h0M540.71,461.36h0M540.88,461.95h0M541.05,460.61h0M541.22,463.18h0M541.39,463.18h0M541.56,462.13h0M541.73,460.3h0M541.9,461.62h0M542.07,462.12h0M542.24,462.63h0M542.41,462.02h0M542.58,462.62h0M542.75,462.55h0M542.92,462.13h0M543.09,460.26h0M543.26,462.48h0M543.43,461.58h0M543.6,462.73h0M543.77,460.45h0M543.94,461.75h0M544.11,461.23h0M544.28,461.8h0M544.45,463.41h0M544.62,462.76h0M544.79,463.12h0M544.96,463.01h0M545.13,460.64h0M545.3,462.58h0M545.47,462.6h0M545.64,462.59h0M545.81,461h0M545.98,461.32h0M546.15,462.11h0M546.32,460.9h0M546.49,461.57h0M546.66,461.23h0M546.83,460.12h0M547,460.05h0M547.17,460.41h0M547.34,461.15h0M547.51,462.58h0M547.68,462.04h0M547.85,460.52h0M548.02,462.02h0M548.19,462.05h0M548.36,462.39h0M548.53,461.6h0M548.7,461.28h0M548.87,461.4h0M549.04,459.38h0M549.21,461.05h0M549.38,459.15h0M549.55,461.09h0M549.72,461.15h0M549.89,460.12h0M550.06,459.34h0M550.23,460.44h0M550.4,459h0M550.57,459.74h0M550.74,460.98h0M550.91,458.03h0M551.08,461.91h0M551.25,461.67h0M551.42,459.14h0M551.59,461.32h0M551.76,461.25h0M551.93,460.65h0M552.1,459.01h0M552.27,458.58h0M552.44,457.55h0M552.61,461.01h0M552.78,460.17h0M552.95,462h0M553.12,459.79h0M553.29,456.04h0M553.46,457.36h0M553.63,456.54h0M553.8,458.08h0M553.97,459.78h0M554.14,459.71h0M554.31,460.06h0M554.48,458.85h0M554.65,461.76h0M554.82,459.37h0M554.99,458.45h0M555.16,459.39h0M555.33,459.34h0M555.5,458.49h0M555.67,460.32h0M555.84,460.18h0M556.01,458.12h0M556.18,459.39h0M556.35,458.77h0M556.52,459.72h0M556.69,459.18h0M556.86,458.93h0M557.03,460.06h0M557.2,458.92h0M557.37,458.99h0M557.54,461.16h0M557.71,459.47h0M557.88,461.22h0M558.05,460.05h0M558.22,460.52h0M558.39,461.35h0M558.56,458.98h0M558.73,458.7h0M558.9,459.72h0M559.07,461.57h0M559.24,459.69h0M559.41,459.82h0M559.58,460.4h0M559.75,458.53h0M559.92,460.29h0M560.09,460.46h0M560.26,461.21h0M560.43,460.4h0M560.6,460.45h0M560.77,458.68h0M560.94,459.74h0M561.11,458.99h0M561.28,459.27h0M561.45,458.53h0M561.62,459.48h0M561.79,458.72h0M561.96,459.18h0M562.13,458.31h0M562.3,461.28h0M562.47,459.46h0M562.64,459.2h0M562.81,460.32h0M562.98,460.51h0M563.15,460.27h0M563.32,459.07h0M563.49,459.8h0M563.66,459.4h0M563.83,460.46h0M564,459.24h0M564.17,460.99h0M564.34,459.27h0M564.51,458.61h0M564.68,460.78h0M564.85,458.05h0M565.02,461.19h0M565.19,461.24h0M565.36,459.62h0M565.53,459.09h0M565.7,458.46h0M565.87,459.68h0M566.04,460.66h0M566.21,458.98h0M566.38,460.69h0M566.55,459.47h0M566.72,460.33h0M566.89,461.25h0M567.06,460.27h0M567.23,460.93h0M567.4,459.94h0M567.57,460.81h0M567.74,461.66h0M567.91,461.96h0M568.08,462.26h0M568.25,460.07h0M568.42,459.51h0M568.59,459.33h0M568.76,459.83h0M568.93,461.81h0M569.1,460.08h0M569.27,462.11h0M569.44,459.76h0M569.61,462.31h0M569.78,461.1h0M569.95,460.32h0M570.12,461.81h0M570.29,462.33h0M570.46,459.96h0M570.63,461.14h0M570.8,460.07h0M570.97,462.91h0M571.14,461.15h0M571.31,461.27h0M571.48,461.67h0M571.65,462.38h0M571.82,462.74h0M571.99,460.99h0M572.16,461.03h0M572.33,462.35h0M572.5,462.01h0M572.67,461.81h0M572.84,462.18h0M573.01,462.56h0M573.18,459.77h0M573.35,461.38h0M573.52,460.41h0M573.69,462.43h0M573.86,459.64h0M574.03,460.79h0M574.2,460.99h0M574.37,459.78h0M574.54,460.54h0M574.71,460.67h0M574.88,459.81h0M575.05,461.8h0M575.22,460.51h0M575.39,460.81h0M575.56,461.8h0M575.73,462.09h0M575.9,460.1h0M576.07,461.55h0M576.24,460.14h0M576.41,462.07h0M576.58,461.95h0M576.75,460.64h0M576.92,459.39h0M577.09,461.64h0M577.26,461.1h0M577.43,461.39h0M577.6,460.52h0M577.77,461.83h0M577.94,459.98h0M578.11,461.19h0M578.28,459.14h0M578.45,461.57h0M578.62,459.78h0M578.79,459.16h0M578.96,459.97h0M579.13,459.07h0M579.3,460.37h0M579.47,460.51h0M579.64,459.29h0M579.81,458.81h0M579.98,461.05h0M580.15,460.54h0M580.32,460.36h0M580.49,461.38h0M580.66,458.83h0M580.83,460.08h0M581,458.66h0M581.17,461.1h0M581.34,461.03h0M581.51,459.69h0M581.68,460.27h0M581.85,460.72h0M582.02,460.45h0M582.19,460.59h0M582.36,459.3h0M582.53,460.68h0M582.7,460.74h0M582.87,459.96h0M583.04,460.13h0M583.21,459.72h0M583.38,460.33h0M583.55,461.23h0M583.72,458.61h0M583.89,460.8h0M584.06,460.69h0M584.23,459.8h0M584.4,459.13h0M584.57,460.38h0M584.74,460.79h0M584.91,458.96h0M585.08,460.19h0M585.25,460.73h0M585.42,459.3h0M585.59,460.98h0M585.76,460.14h0M585.93,458.73h0M586.1,461h0M586.27,458.6h0M586.44,460.97h0M586.61,460.16h0M586.78,458.52h0M586.95,458.95h0M587.12,458.88h0M587.29,460.44h0M587.46,460.8h0M587.63,459.59h0M587.8,460.43h0M587.97,460.18h0M588.14,461.07h0M588.31,459.22h0M588.48,458.88h0M588.65,459.73h0M588.82,461.01h0M588.99,459.27h0M589.16,460.95h0M589.33,458.77h0M589.5,461.08h0M589.67,459.84h0M589.84,460.99h0M590.01,459.9h0M590.18,460.06h0M590.35,460.55h0M590.52,458.95h0M590.69,458.51h0M590.86,459.58h0M591.03,458.8h0M591.2,459.06h0M591.37,458.87h0M591.54,458.7h0M591.71,460.87h0M591.88,460.18h0M592.05,459.36h0M592.22,460.95h0M592.39,458.29h0M592.56,460.98h0M592.73,460.62h0M592.9,459.62h0M593.07,461h0M593.24,459.22h0M593.41,458.58h0M593.58,458.45h0M593.75,460.32h0M593.92,459h0M594.09,458.89h0M594.26,460.49h0M594.43,460.67h0M594.6,459.19h0M594.77,459.06h0M594.94,459.55h0M595.11,459.22h0M595.28,460.67h0M595.45,459.64h0M595.62,458.86h0M595.79,458.1h0M595.96,460.93h0M596.13,459.13h0M596.3,460.96h0M596.47,460.81h0M596.64,459.44h0M596.81,458.87h0M596.98,460.37h0M597.15,458.5h0M597.32,458.42h0M597.49,458.34h0M597.66,459.97h0M597.83,460.62h0M598,460.24h0M598.17,461.1h0M598.34,458.57h0M598.51,460.55h0M598.68,460.48h0M598.85,460.55h0M599.02,459.94h0M599.19,458.83h0M599.36,459.47h0M599.53,459.18h0M599.7,461.34h0M599.87,460.81h0M600.04,461.25h0M600.21,460.27h0M600.38,458.77h0M600.55,460.83h0M600.72,459.74h0M600.89,460.62h0M601.06,460.03h0M601.23,460.44h0M601.4,459.32h0M601.57,461.44h0M601.74,459.83h0M601.91,461.38h0M602.08,461.54h0M602.25,460.64h0M602.42,459.57h0M602.59,460.25h0M602.76,460.57h0M602.93,460.03h0M603.1,459.5h0M603.27,461.83h0M603.44,460.96h0M603.61,460.75h0M603.78,459.74h0M603.95,460.84h0M604.12,461.59h0M604.29,460.07h0M604.46,461.92h0M604.63,460.2h0M604.8,460.07h0M604.97,461.64h0M605.14,460.29h0M605.31,462.04h0M605.48,460.58h0M605.65,460.2h0M605.82,461.58h0M605.99,460.12h0M606.16,460.4h0M606.33,461.67h0M606.5,462.14h0M606.67,461.58h0M606.84,462.5h0M607.01,460.81h0M607.18,462.54h0M607.35,461.66h0M607.52,462.82h0M607.69,460.93h0M607.86,462.08h0M608.03,460.91h0M608.2,461.17h0M608.37,461.73h0M608.54,462.35h0M608.71,462.44h0M608.88,461.58h0M609.05,461.81h0M609.22,463.79h0M609.39,461.11h0M609.56,462.25h0M609.73,463.64h0M609.9,463.21h0M610.07,462.96h0M610.24,461.78h0M610.41,462.15h0M610.58,464.45h0M610.75,463.25h0M610.92,462.49h0M611.09,464.49h0M611.26,464.23h0M611.43,464.13h0M611.6,462.63h0M611.77,463.23h0M611.94,464.62h0M612.11,463.02h0M612.28,465.14h0M612.45,463.58h0M612.62,463.92h0M612.79,464.78h0M612.96,462.85h0M613.13,464.5h0M613.3,464.52h0M613.47,463.3h0M613.64,463.38h0M613.81,463.04h0M613.98,464.14h0M614.15,465.04h0M614.32,463.41h0M614.49,464.81h0M614.66,463.87h0M614.83,465.88h0M615,463.71h0M615.17,463.55h0M615.34,465.57h0M615.51,464.66h0M615.68,466.37h0M615.85,464.83h0M616.02,466.07h0M616.19,465.18h0M616.36,465.24h0M616.53,464.97h0M616.7,465.94h0M616.87,463.97h0M617.04,466.34h0M617.21,465.92h0M617.38,466.17h0M617.55,464.32h0M617.72,466.19h0M617.89,465.62h0M618.06,466.26h0M618.23,465.72h0M618.4,466.85h0M618.57,466.65h0M618.74,465.96h0M618.91,467.24h0M619.08,465.88h0M619.25,465.39h0M619.42,466.97h0M619.59,464.98h0M619.76,466.76h0M619.93,466.13h0M620.1,467.46h0M620.27,464.66h0M620.44,465.42h0M620.61,467.35h0M620.78,466.33h0M620.95,465.21h0M621.12,466.74h0M621.29,466.11h0M621.46,466.37h0M621.63,465.14h0M621.8,464.7h0M621.97,467.48h0M622.14,466.74h0M622.31,467.73h0M622.48,466.24h0M622.65,465.53h0M622.82,464.83h0M622.99,466.48h0M623.16,467.23h0M623.33,467.73h0M623.5,465.95h0M623.67,465.61h0M623.84,465.52h0M624.01,467.85h0M624.18,467.01h0M624.35,466.54h0M624.52,467.86h0M624.69,467.3h0M624.86,466.6h0M625.03,467.43h0M625.2,467.08h0M625.37,467.38h0M625.54,466h0M625.71,467.25h0M625.88,465.46h0M626.05,465.1h0M626.22,466.62h0M626.39,467.5h0M626.56,465.75h0M626.73,467.94h0M626.9,466.58h0M627.07,467.24h0M627.24,467.91h0M627.41,467.7h0M627.58,467.24h0M627.75,466.07h0M627.92,465.77h0M628.09,467.03h0M628.26,467.11h0M628.43,467.15h0M628.6,466.54h0M628.77,465.88h0M628.94,468.21h0M629.11,467.46h0M629.28,467.51h0M629.45,465.5h0M629.62,467.06h0M629.79,467.08h0M629.96,465.72h0M630.13,466.18h0M630.3,466.03h0M630.47,467.45h0M630.64,468.24h0M630.81,467.55h0M630.98,466.67h0M631.15,468.27h0M631.32,467.41h0M631.49,468.26h0M631.66,467.58h0M631.83,466.34h0M632,467.18h0M632.17,466.73h0M632.34,466.91h0M632.51,466.17h0M632.68,468.35h0M632.85,467.76h0M633.02,467.06h0M633.19,468.28h0M633.36,467.59h0M633.53,466.43h0M633.7,468.65h0M633.87,468.7h0M634.04,467.97h0M634.21,468.28h0M634.38,468.06h0M634.55,467.28h0M634.72,466.61h0M634.89,468.42h0M635.06,467.37h0M635.23,468.86h0M635.4,467.6h0M635.57,467.92h0M635.74,469.69h0M635.91,467.17h0M636.08,467.75h0M636.25,469.29h0M636.42,468.45h0M636.59,470.1h0M636.76,467.52h0M636.93,467.19h0M637.1,470.17h0M637.27,467.83h0M637.44,468.39h0M637.61,468.12h0M637.78,469.13h0M637.95,471.11h0M638.12,469.5h0M638.29,470.58h0M638.46,468.28h0M638.63,469.97h0M638.8,468.69h0M638.97,468.75h0M639.14,469.32h0M639.31,469.91h0M639.48,471.85h0M639.65,468.79h0M639.82,469.86h0M639.99,474.33h0M640.16,470.86h0M640.33,468.82h0M640.5,474.8h0M640.67,468.96h0M640.84,471.85h0M641.01,474.66h0M641.18,476.82h0M641.35,476.78h0M641.52,477.53h0M641.69,474.86h0M641.86,478.57h0M642.03,472h0M642.2,472.87h0M642.37,475.98h0M642.54,475.76h0M642.71,477.56h0M642.88,471.22h0M643.05,473.52h0M643.22,475.84h0M643.39,471.04h0M643.56,474.8h0M643.73,478.12h0M643.9,470.65h0M644.07,477.76h0M644.24,476.77h0M644.41,474.3h0M644.58,472.51h0M644.75,477.36h0M644.92,473.77h0M645.09,475.91h0M645.26,471.62h0M645.43,476.28h0M645.6,477.06h0M645.77,476.67h0M645.94,476.66h0M646.11,470.35h0M646.28,474.77h0M646.45,471.09h0M646.62,470.15h0M646.79,473.54h0M646.96,473.66h0M647.13,469.48h0M647.3,469.92h0M647.47,470.78h0M647.64,471.94h0M647.81,470.19h0M647.98,468.66h0M648.15,470.66h0M648.32,471.3h0M648.49,468.88h0M648.66,470.84h0M648.83,471.2h0M649,469.55h0M649.17,470.77h0M649.34,470.14h0M649.51,471.14h0M649.68,470.18h0M649.85,469h0M650.02,470.22h0M650.19,469.06h0M650.36,469.09h0M650.53,468.01h0M650.7,468.2h0M650.87,468.48h0M651.04,469.9h0M651.21,469.41h0M651.38,469.02h0M651.55,469.62h0M651.72,468.71h0M651.89,468.71h0M652.06,469.52h0M652.23,469.9h0M652.4,469.84h0M652.57,469.25h0M652.74,470.49h0M652.91,470.49h0M653.08,470.3h0M653.25,468.41h0M653.42,469.77h0M653.59,467.88h0M653.76,470.55h0M653.93,469.31h0M654.1,467.82h0M654.27,468.01h0M654.44,469.58h0M654.61,469.71h0M654.78,468.79h0M654.95,469.03h0M655.12,470.14h0M655.29,470.08h0M655.46,470.01h0M655.63,468.9h0M655.8,468.83h0M655.97,469.77h0M656.14,468.1h0M656.31,469.86h0M656.48,469.91h0M656.65,470.17h0M656.82,468.62h0M656.99,468.93h0M657.16,468.64h0M657.33,469.25h0M657.5,469.86h0M657.67,469.33h0M657.84,470.62h0M658.01,469.75h0M658.18,470.35h0M658.35,470.83h0M658.52,470.3h0M658.69,468.5h0M658.86,468.84h0M659.03,467.9h0M659.2,468.96h0M659.37,469.05h0M659.54,468.64h0M659.71,468.77h0M659.88,468.19h0M660.05,470.11h0M660.22,468.72h0M660.39,467.49h0M660.56,468.81h0M660.73,468.53h0M660.9,467.89h0M661.07,469.54h0M661.24,468.57h0M661.41,469.74h0M661.58,469.16h0M661.75,470.25h0M661.92,468.18h0M662.09,467.15h0M662.26,467.59h0M662.43,469.47h0M662.6,467.55h0M662.77,468.86h0M662.94,467.2h0M663.11,469.71h0M663.28,468.11h0M663.45,467.79h0M663.62,469.82h0M663.79,469.19h0M663.96,468.85h0M664.13,469.88h0M664.3,469.55h0M664.47,466.83h0M664.64,469.89h0M664.81,467.47h0M664.98,469.27h0M665.15,467.82h0M665.32,467.81h0M665.49,468.24h0M665.66,466.82h0M665.83,469.67h0M666,467.71h0M666.17,468.96h0M666.34,467.29h0M666.51,467.13h0M666.68,466.86h0M666.85,468.45h0M667.02,468.22h0M667.19,469.26h0M667.36,468.31h0M667.53,468.58h0M667.7,468.8h0M667.87,467.41h0M668.04,468.19h0M668.21,469.72h0M668.38,470.24h0M668.55,468.61h0M668.72,468.06h0M668.89,469.84h0M669.06,468.86h0M669.23,467.25h0M669.4,467.65h0M669.57,469.21h0M669.74,467.58h0M669.91,468.88h0M670.08,470.28h0M670.25,468.88h0M670.42,468.7h0M670.59,469.8h0M670.76,468.95h0M670.93,469.93h0M671.1,467.41h0M671.27,469.98h0M671.44,467.93h0M671.61,468.11h0M671.78,469.18h0M671.95,469.55h0M672.12,467.97h0M672.29,469.86h0M672.46,468.9h0M672.63,469.7h0M672.8,468.48h0M672.97,468.46h0M673.14,468.99h0M673.31,469.36h0M673.48,469.69h0M673.65,468.32h0M673.82,469.19h0M673.99,468.03h0M674.16,469.43h0M674.33,468.46h0M674.5,470.12h0M674.67,469.47h0M674.84,467.35h0M675.01,469.15h0M675.18,468.29h0M675.35,468.09h0M675.52,467.7h0M675.69,469.29h0M675.86,469.78h0M676.03,468.41h0M676.2,468.57h0M676.37,468h0M676.54,469.59h0M676.71,470.17h0M676.88,468.35h0M677.05,468.31h0M677.22,467.36h0M677.39,467.61h0M677.56,467.91h0M677.73,467.92h0M677.9,467.01h0M678.07,467.59h0M678.24,466.51h0M678.41,467.19h0M678.58,468.4h0M678.75,469.19h0M678.92,466.77h0M679.09,468.34h0M679.26,466.68h0M679.43,469.06h0M679.6,466.61h0M679.77,465.86h0M679.94,468.85h0M680.11,466.73h0M680.28,466.19h0M680.45,466.97h0M680.62,468.22h0M680.79,466.62h0M680.96,466.78h0M681.13,467.36h0M681.3,465.16h0M681.47,468.1h0M681.64,467.37h0M681.81,466.89h0M681.98,466.02h0M682.15,467.99h0M682.32,464.35h0M682.49,463.68h0M682.66,465.93h0M682.83,466.1h0M683,463.23h0M683.17,466.59h0M683.34,464.13h0M683.51,463.26h0M683.68,465.32h0M683.85,463.13h0M684.02,461.19h0M684.19,462.72h0M684.36,459.58h0M684.53,461.25h0M684.7,463.12h0M684.87,458.76h0M685.04,461.46h0M685.21,461.81h0M685.38,457.98h0M685.55,459.43h0M685.72,457.96h0M685.89,462.03h0M686.06,463.05h0M686.23,457.41h0M686.4,462.37h0M686.57,464.98h0M686.74,457.62h0M686.91,462.52h0M687.08,460.02h0M687.25,458.36h0M687.42,465h0M687.59,459.82h0M687.76,464.77h0M687.93,465.28h0M688.1,459.3h0M688.27,465.52h0M688.44,466.2h0M688.61,457.63h0M688.78,466.61h0M688.95,464.44h0M689.12,458.33h0M689.29,463.93h0M689.46,467.62h0M689.63,467.89h0M689.8,468.63h0M689.97,464.95h0M690.14,460.77h0M690.31,463.64h0M690.48,463.4h0M690.65,467.3h0M690.82,463.57h0M690.99,467.14h0M691.16,464.73h0M691.33,467.2h0M691.5,470.21h0M691.67,473.51h0M691.84,462.28h0M692.01,469.24h0M692.18,467.6h0M692.35,473.58h0M692.52,475.98h0M692.69,476.64h0M692.86,465.9h0M693.03,466.04h0M693.2,481.38h0M693.37,470.16h0M693.54,478.15h0M693.71,465.03h0M693.88,476.52h0M694.05,469.93h0M694.22,478.18h0M694.39,467.96h0M694.56,482.19h0M694.73,478.95h0M694.9,478.04h0M695.07,475.84h0M695.24,481.03h0M695.41,475.79h0M695.58,478.96h0M695.75,475.68h0M695.92,470.77h0M696.09,476.84h0M696.26,481.13h0M696.43,478.73h0M696.6,471.16h0M696.77,470.21h0M696.94,471.83h0M697.11,477.48h0M697.28,473.06h0M697.45,472.04h0M697.62,479.86h0M697.79,468.56h0M697.96,478.65h0M698.13,472.38h0M698.3,477.95h0M698.47,471.15h0M698.64,473.76h0M698.81,468.82h0M698.98,470.27h0M699.15,474.55h0M699.32,474.64h0M699.49,468.44h0M699.66,473.59h0M699.83,477.02h0M700,472.63h0M700.17,468.94h0M700.34,472.84h0M700.51,471.58h0M700.68,472h0M700.85,473.36h0M701.02,473.9h0M701.19,466.68h0M701.36,467.3h0M701.53,466.2h0M701.7,472.87h0M701.87,472.38h0M702.04,470.35h0M702.21,469.3h0M702.38,465.82h0M702.55,466.81h0M702.72,465.5h0M702.89,467.07h0M703.06,465.13h0M703.23,464.53h0M703.4,464.74h0M703.57,467.32h0M703.74,465.32h0M703.91,464.56h0M704.08,469.16h0M704.25,469.13h0M704.42,470.22h0M704.59,469.19h0M704.76,470.03h0M704.93,468.02h0M705.1,467.1h0M705.27,466.21h0M705.44,465.55h0M705.61,463.43h0M705.78,467.58h0M705.95,465.02h0M706.12,467.38h0M706.29,468.48h0M706.46,467.39h0M706.63,465.55h0M706.8,465.69h0M706.97,467.44h0M707.14,463.54h0M707.31,465.38h0M707.48,465.27h0M707.65,465.15h0M707.82,463.25h0M707.99,464.02h0M708.16,464.32h0M708.33,465.93h0M708.5,466.91h0M708.67,461.99h0M708.84,466.07h0M709.01,464.43h0M709.18,465.33h0M709.35,464.81h0M709.52,466.26h0M709.69,464.18h0M709.86,464.17h0M710.03,465.02h0M710.2,467.28h0M710.37,464.43h0M710.54,464.49h0M710.71,464.96h0M710.88,467.56h0M711.05,463.25h0M711.22,465.57h0M711.39,465.66h0M711.56,467.15h0M711.73,464.4h0M711.9,465.82h0M712.07,464.01h0M712.24,464.74h0M712.41,463.2h0M712.58,464.28h0M712.75,464.88h0M712.92,464.47h0M713.09,464.93h0M713.26,464.04h0M713.43,463.59h0M713.6,463.78h0M713.77,465.24h0M713.94,464.74h0M714.11,466.41h0M714.28,461.61h0M714.45,465.01h0M714.62,460.74h0M714.79,461.29h0M714.96,459.83h0M715.13,462.3h0M715.3,459.24h0M715.47,459.27h0M715.64,462.4h0M715.81,462.17h0M715.98,458.6h0M716.15,461.48h0M716.32,460.08h0M716.49,462.33h0M716.66,460.4h0M716.83,459.84h0M717,462.08h0M717.17,457.99h0M717.34,458.67h0M717.51,460.02h0" fill="none" stroke="#000" stroke-width="5.6" stroke-linecap="round"/>
<path d="M120.8,81.46 121,81.96 121.2,82.46 121.4,82.98 121.6,84.31 121.8,85.64 122,86.97 122.2,88.3 122.4,89.63 122.6,90.96 122.8,92.3 123,93.63 123.2,94.96 123.4,96.29 123.6,97.55 123.8,98.75 124,99.94 124.2,101.14 124.4,102.34 124.6,103.54 124.8,104.73 125,105.46 125.2,105.64 125.4,105.82 125.6,105.99 125.8,106.13 126,106.27 126.2,106.41 126.4,106.56 126.6,106.7 126.8,106.84 127,106.98 127.2,107.12 127.4,107.27 127.6,107.42 127.8,107.58 128,107.74 128.2,107.9 128.4,108.05 128.6,108.21 128.8,108.37 129,108.53 129.2,108.75 129.4,108.98 129.6,109.2 129.8,109.42 130,109.65 130.2,110.62 130.4,111.69 130.6,112.77 130.8,113.85 131,114.92 131.2,116.03 131.4,117.09 131.6,118.11 131.8,119.13 132,120.16 132.2,121.18 132.4,122.2 132.6,123.18 132.8,123.97 133,124.75 133.2,125.54 133.4,126.32 133.6,127.04 133.8,127.69 134,128.34 134.2,129 134.4,129.65 134.6,130.3 134.8,130.95 135,131.6 135.2,132.26 135.4,132.91 135.6,133.56 135.8,134.21 136,134.92 136.2,135.91 136.4,136.9 136.6,137.89 136.8,138.89 137,139.88 137.2,140.87 137.4,141.86 137.6,142.98 137.8,144.53 138,146.07 138.2,147.61 138.4,149.16 138.6,150.7 138.8,152.24 139,153.26 139.2,153.67 139.4,154.08 139.6,154.49 139.8,154.74 140,154.82 140.2,154.91 140.4,154.99 140.6,155.07 140.8,155.16 141,155.24 141.2,155.44 141.4,155.96 141.6,156.49 141.8,157.02 142,157.54 142.2,158.07 142.4,158.59 142.6,159.12 142.8,159.96 143,161.11 143.2,162.09 143.4,162.66 143.6,163.23 143.8,163.81 144,164.38 144.2,164.96 144.4,165.53 144.6,166.1 144.8,166.68 145,167.25 145.2,166.81 145.4,166.37 145.6,165.93 145.8,165.49 146,165.05 146.2,164.71 146.4,165.46 146.6,166.21 146.8,166.96 147,167.74 147.2,168.55 147.4,169.36 147.6,170.17 147.8,170.97 148,171.78 148.2,173.59 148.4,175.3 148.6,177.01 148.8,178.71 149,180.42 149.2,182.13 149.4,183.84 149.6,185.21 149.8,186.25 150,187.29 150.2,188.27 150.4,189.24 150.6,190.21 150.8,191.18 151,192.15 151.2,193.13 151.4,194.1 151.6,195.07 151.8,196.04 152,197.01 152.2,197.98 152.4,198.95 152.6,200.01 152.8,201.15 153,202.14 153.2,202.69 153.4,203.24 153.6,203.79 153.8,204.34 154,204.89 154.2,205.44 154.4,205.99 154.6,206.54 154.8,207.09 155,207.64 155.2,208.19 155.4,208.74 155.6,209.4 155.8,210.12 156,210.84 156.2,211.55 156.4,212.27 156.6,212.99 156.8,213.7 157,214.42 157.2,215.08 157.4,215.28 157.6,215.47 157.8,215.67 158,215.86 158.2,216.05 158.4,216.25 158.6,216.44 158.8,216.64 159,216.83 159.2,217.03 159.4,217.22 159.6,217.41 159.8,217.61 160,217.8 160.2,218.1 160.4,218.42 160.6,218.74 160.8,219.06 161,219.38 161.2,219.7 161.4,220.02 161.6,220.34 161.8,220.66 162,220.98 162.2,221.3 162.4,221.62 162.6,221.94 162.8,222.26 163,222.58 163.2,222.9 163.4,223.22 163.6,223.54 163.8,224.3 164,225.45 164.2,226.6 164.4,227.74 164.6,229 164.8,230.37 165,231.74 165.2,233.1 165.4,234.47 165.6,235.84 165.8,237.21 166,238.57 166.2,239.94 166.4,241.31 166.6,242.68 166.8,244.05 167,245.41 167.2,246.78 167.4,247.16 167.6,247.43 167.8,247.63 168,247.83 168.2,248.03 168.4,248.23 168.6,248.43 168.8,248.63 169,248.82 169.2,249.02 169.4,249.22 169.6,249.42 169.8,249.63 170,249.84 170.2,250.05 170.4,250.27 170.6,250.48 170.8,250.7 171,250.91 171.2,251.12 171.4,251.34 171.6,251.55 171.8,251.77 172,251.98 172.2,252.17 172.4,252.68 172.6,253.72 172.8,254.75 173,255.79 173.2,256.8 173.4,257.8 173.6,258.8 173.8,259.73 174,260.66 174.2,261.58 174.4,262.51 174.6,263.44 174.8,264.36 175,265.12 175.2,265.81 175.4,266.5 175.6,267.19 175.8,267.88 176,268.57 176.2,269.25 176.4,269.94 176.6,270.65 176.8,271.36 177,272.08 177.2,272.8 177.4,273.52 177.6,274.24 177.8,274.96 178,275.68 178.2,276.39 178.4,277.26 178.6,278.16 178.8,279.06 179,279.97 179.2,280.87 179.4,281.77 179.6,282.67 179.8,283.58 180,284.89 180.2,286.34 180.4,287.8 180.6,289.25 180.8,290.71 181,292.16 181.2,293.62 181.4,293.96 181.6,294.28 181.8,294.8 182,295.51 182.2,296.22 182.4,296.93 182.6,297.64 182.8,298.34 183,299.05 183.2,299.76 183.4,300.12 183.6,300.82 183.8,301.62 184,302.42 184.2,303.22 184.4,304.02 184.6,304.82 184.8,305.63 185,306.43 185.2,307.23 185.4,308.03 185.6,308.35 185.8,308.57 186,308.79 186.2,309.01 186.4,309.23 186.6,309.45 186.8,309.67 187,309.89 187.2,310.12 187.4,310.34 187.6,310.56 187.8,310.78 188,311 188.2,311.22 188.4,311.44 188.6,312.32 188.8,313.62 189,314.93 189.2,316.23 189.4,317.54 189.6,318.84 189.8,320.14 190,321.45 190.2,322.75 190.4,323.92 190.6,324.77 190.8,325.61 191,326.46 191.2,327.3 191.4,328.15 191.6,328.99 191.8,329.84 192,330.68 192.2,331.53 192.4,332.35 192.6,333.13 192.8,333.91 193,334.69 193.2,335.69 193.4,336.68 193.6,337.68 193.8,338.68 194,339.68 194.2,340.68 194.4,341.67 194.6,342.67 194.8,343.67 195,344.67 195.2,345.66 195.4,346.21 195.6,346.62 195.8,347.02 196,347.43 196.2,347.84 196.4,348.24 196.6,348.65 196.8,349.06 197,349.46 197.2,349.87 197.4,350.27 197.6,350.6 197.8,350.88 198,351.66 198.2,352.44 198.4,353.22 198.6,354 198.8,354.78 199,355.56 199.2,356.35 199.4,357.17 199.6,357.67 199.8,357.96 200,358.26 200.2,358.55 200.4,358.85 200.6,359.14 200.8,359.43 201,359.73 201.2,360.02 201.4,360.32 201.6,360.61 201.8,360.91 202,361.2 202.2,361.4 202.4,361.61 202.6,361.89 202.8,362.18 203,362.46 203.2,362.74 203.4,363.02 203.6,363.3 203.8,363.58 204,363.86 204.2,364.14 204.4,364.42 204.6,364.7 204.8,364.98 205,365.26 205.2,365.54 205.4,365.82 205.6,366.1 205.8,366.38 206,366.7 206.2,367.8 206.4,368.91 206.6,370.12 206.8,371.44 207,372.75 207.2,374.07 207.4,375.39 207.6,376.7 207.8,378.02 208,379.33 208.2,380.65 208.4,381.96 208.6,383.28 208.8,384.59 209,385.91 209.2,387.22 209.4,388.54 209.6,389.31 209.8,389.53 210,389.75 210.2,389.96 210.4,390.18 210.6,390.39 210.8,390.61 211,390.82 211.2,391.04 211.4,391.25 211.6,391.47 211.8,391.69 212,391.9 212.2,392.13 212.4,392.36 212.6,392.59 212.8,392.82 213,393.05 213.2,393.29 213.4,393.52 213.6,393.75 213.8,393.98 214,394.21 214.2,394.44 214.4,394.67 214.6,394.88 214.8,395.82 215,396.86 215.2,397.89 215.4,398.92 215.6,399.96 215.8,400.99 216,401.98 216.2,402.93 216.4,403.89 216.6,404.84 216.8,405.79 217,406.75 217.2,407.65 217.4,408.37 217.6,409.08 217.8,409.8 218,410.52 218.2,411.23 218.4,411.95 218.6,412.66 218.8,413.38 219,414.09 219.2,414.81 219.4,415.53 219.6,416.24 219.8,416.96 220,417.67 220.2,418.39 220.4,419.18 220.6,420.09 220.8,421.14 221,422.18 221.2,423.23 221.4,424.28 221.6,425.32 221.8,426.37 222,427.41 222.2,428.6 222.4,430.2 222.6,431.8 222.8,433.39 223,434.99 223.2,436.59 223.4,438.18 223.6,439.23 223.8,439.69 224,440.16 224.2,440.62 224.4,441.08 224.6,441.62 224.8,442.24 225,442.86 225.2,443.48 225.4,443.46 225.6,443.44 225.8,443.54 226,443.96 226.2,444.38 226.4,444.8 226.6,445.22 226.8,445.64 227,446.06 227.2,446.48 227.4,446.9 227.6,447.32 227.8,447.54 228,447.38 228.2,447.22 228.4,446.72 228.6,446.23 228.8,445.73 229,445.23 229.2,444.74 229.4,444.24 229.6,443.74 229.8,443.25 230,442.75 230.2,442.26 230.4,441.76 230.6,441.26 230.8,440.9 231,441.59 231.2,442.29 231.4,443 231.6,443.71 231.8,444.43 232,444.23 232.2,444.99 232.4,445.76 232.6,446.53 232.8,446.93 233,447.24 233.2,447.54 233.4,447.85 233.6,448.16 233.8,448.47 234,448.78 234.2,449.09 234.4,449.43 234.6,449.77 234.8,450.06 235,450.33 235.2,450.61 235.4,450.88 235.6,451.16 235.8,451.43 236,451.71 236.2,451.99 236.4,452.26 236.6,452.54 236.8,452.81 237,453.09 237.2,453.37 237.4,453.64 237.6,453.75 237.8,453.44 238,453.12 238.2,452.8 238.4,452.47 238.6,452.14 238.8,451.81 239,451.48 239.2,451.16 239.4,450.83 239.6,450.5 239.8,450.17 240,449.84 240.2,449.83 240.4,450.04 240.6,450.26 240.8,450.47 241,450.68 241.2,450.89 241.4,451.1 241.6,451.32 241.8,451.46 242,451.15 242.2,450.84 242.4,450.53 242.6,450.22 242.8,449.91 243,449.59 243.2,449.28 243.4,448.96 243.6,448.65 243.8,448.34 244,448.02 244.2,447.71 244.4,447.39 244.6,447.08 244.8,446.83 245,446.6 245.2,446.36 245.4,446.13 245.6,445.9 245.8,445.67 246,445.44 246.2,445.21 246.4,444.98 246.6,444.74 246.8,444.51 247,444.28 247.2,444.05 247.4,443.82 247.6,443.59 247.8,443.35 248,443.11 248.2,442.86 248.4,443.08 248.6,443.66 248.8,444.25 249,444.83 249.2,445.42 249.4,446 249.6,446.58 249.8,447.17 250,447.75 250.2,448.34 250.4,448.92 250.6,449.5 250.8,450.09 251,450.67 251.2,451.26 251.4,451.81 251.6,452.35 251.8,452.9 252,452.44 252.2,451.98 252.4,451.52 252.6,451.06 252.8,450.6 253,450.14 253.2,449.68 253.4,449.22 253.6,448.76 253.8,448.3 254,447.84 254.2,447.38 254.4,446.93 254.6,446.49 254.8,446.04 255,445.6 255.2,445.15 255.4,444.71 255.6,444.26 255.8,443.82 256,443.37 256.2,442.93 256.4,442.48 256.6,442.04 256.8,441.59 257,441.51 257.2,441.92 257.4,442.33 257.6,442.74 257.8,443.15 258,443.56 258.2,443.97 258.4,444.3 258.6,444.63 258.8,444.96 259,445.29 259.2,445.63 259.4,445.96 259.6,446.12 259.8,446.21 260,446.31 260.2,446.4 260.4,446.49 260.6,446.58 260.8,446.65 261,446.73 261.2,446.81 261.4,446.88 261.6,446.96 261.8,447.04 262,447.11 262.2,447.19 262.4,447.27 262.6,447.34 262.8,447.42 263,447.64 263.2,447.9 263.4,448.16 263.6,448.42 263.8,448.69 264,448.95 264.2,449.21 264.4,449.47 264.6,450.15 264.8,450.96 265,451.78 265.2,452.59 265.4,453.4 265.6,454.21 265.8,455.02 266,454.7 266.2,454.38 266.4,454.06 266.6,453.75 266.8,453.45 267,453.16 267.2,452.86 267.4,452.56 267.6,452.27 267.8,451.97 268,451.68 268.2,451.73 268.4,451.87 268.6,452.02 268.8,452.16 269,452.31 269.2,452.46 269.4,452.6 269.6,452.75 269.8,452.89 270,453.04 270.2,452.69 270.4,452.25 270.6,451.82 270.8,451.38 271,450.95 271.2,450.51 271.4,450.08 271.6,449.64 271.8,449.21 272,448.77 272.2,448.34 272.4,447.9 272.6,447.47 272.8,447.03 273,446.6 273.2,446.91 273.4,447.62 273.6,448.33 273.8,449.05 274,449.76 274.2,450.48 274.4,451.19 274.6,451.91 274.8,452.62 275,453.19 275.2,453.45 275.4,453.7 275.6,453.96 275.8,454.21 276,454.47 276.2,454.72 276.4,454.98 276.6,455.23 276.8,455.49 277,455.72 277.2,455.93 277.4,456.14 277.6,456.38 277.8,456.62 278,456.85 278.2,457.09 278.4,457.33 278.6,457.57 278.8,457.8 279,458.04 279.2,458.28 279.4,458.52 279.6,458.76 279.8,458.99 280,458.77 280.2,458.42 280.4,458.07 280.6,457.72 280.8,457.37 281,457.02 281.2,456.67 281.4,456.32 281.6,455.97 281.8,455.62 282,455.27 282.2,454.92 282.4,454.63 282.6,454.82 282.8,455.01 283,455.2 283.2,455.39 283.4,455.58 283.6,455.77 283.8,455.96 284,456.15 284.2,456.01 284.4,455.68 284.6,455.35 284.8,455.02 285,454.69 285.2,454.37 285.4,454.04 285.6,453.72 285.8,453.39 286,453.06 286.2,452.74 286.4,452.41 286.6,452.08 286.8,451.76 287,451.45 287.2,451.21 287.4,450.97 287.6,450.72 287.8,450.48 288,450.23 288.2,449.99 288.4,449.75 288.6,449.5 288.8,449.26 289,449.02 289.2,448.77 289.4,448.53 289.6,448.28 289.8,448.04 290,447.8 290.2,447.55 290.4,447.31 290.6,447.1 290.8,447.65 291,448.19 291.2,448.74 291.4,449.28 291.6,449.82 291.8,450.37 292,450.91 292.2,451.45 292.4,452 292.6,452.54 292.8,453.09 293,453.63 293.2,454.17 293.4,454.72 293.6,455.26 293.8,455.81 294,456.35 294.2,456.37 294.4,455.94 294.6,455.52 294.8,455.09 295,454.66 295.2,454.23 295.4,453.8 295.6,453.37 295.8,452.95 296,452.52 296.2,452.09 296.4,451.66 296.6,451.23 296.8,450.82 297,450.41 297.2,449.99 297.4,449.58 297.6,449.17 297.8,448.76 298,448.34 298.2,447.93 298.4,447.52 298.6,447.1 298.8,446.69 299,446.28 299.2,445.86 299.4,446.24 299.6,446.67 299.8,447.09 300,447.52 300.2,447.94 300.4,448.37 300.6,448.74 300.8,449.09 301,449.43 301.2,449.78 301.4,450.12 301.6,450.47 301.8,450.76 302,450.86 302.2,450.97 302.4,451.08 302.6,451.18 302.8,451.29 303,451.4 303.2,451.5 303.4,451.61 303.6,451.71 303.8,451.79 304,451.88 304.2,451.98 304.4,452.07 304.6,452.17 304.8,452.26 305,452.36 305.2,452.51 305.4,452.79 305.6,453.07 305.8,453.35 306,453.63 306.2,453.91 306.4,454.19 306.6,454.47 306.8,454.91 307,455.74 307.2,456.57 307.4,457.4 307.6,458.23 307.8,459.06 308,459.89 308.2,460.14 308.4,459.84 308.6,459.54 308.8,459.24 309,458.93 309.2,458.63 309.4,458.33 309.6,458.03 309.8,457.72 310,457.42 310.2,457.12 310.4,456.95 310.6,457.09 310.8,457.22 311,457.36 311.2,457.5 311.4,457.64 311.6,457.78 311.8,457.91 312,458.05 312.2,458.19 312.4,458.12 312.6,457.68 312.8,457.23 313,456.79 313.2,456.35 313.4,455.91 313.6,455.46 313.8,455.02 314,454.58 314.2,454.14 314.4,453.69 314.6,453.25 314.8,452.81 315,452.37 315.2,451.92 315.4,451.63 315.6,452.36 315.8,453.09 316,453.82 316.2,454.55 316.4,455.28 316.6,456.01 316.8,456.74 317,457.47 317.2,458.2 317.4,458.55 317.6,458.82 317.8,459.09 318,459.36 318.2,459.63 318.4,459.9 318.6,460.17 318.8,460.44 319,460.71 319.2,460.99 319.4,461.2 319.6,461.4 319.8,461.61 320,461.81 320.2,462.02 320.4,462.22 320.6,462.43 320.8,462.63 321,462.84 321.2,463.04 321.4,463.25 321.6,463.45 321.8,463.66 322,463.86 322.2,463.92 322.4,463.57 322.6,463.22 322.8,462.86 323,462.51 323.2,462.15 323.4,461.8 323.6,461.45 323.8,461.09 324,460.74 324.2,460.39 324.4,460.03 324.6,459.68 324.8,459.65 325,459.84 325.2,460.02 325.4,460.21 325.6,460.4 325.8,460.58 326,460.77 326.2,460.95 326.4,461.06 326.6,460.73 326.8,460.39 327,460.05 327.2,459.72 327.4,459.38 327.6,459.04 327.8,458.71 328,458.37 328.2,457.99 328.4,457.61 328.6,457.23 328.8,456.85 329,456.47 329.2,456.09 329.4,455.78 329.6,455.48 329.8,455.16 330,454.84 330.2,454.52 330.4,454.21 330.6,453.89 330.8,453.57 331,453.25 331.2,452.93 331.4,452.61 331.6,452.29 331.8,451.98 332,451.66 332.2,451.34 332.4,451.02 332.6,450.7 332.8,450.38 333,450.54 333.2,451.05 333.4,451.56 333.6,452.07 333.8,452.58 334,453.09 334.2,453.59 334.4,454.1 334.6,454.61 334.8,455.16 335,455.74 335.2,456.32 335.4,456.9 335.6,457.48 335.8,458.07 336,458.65 336.2,459.23 336.4,459.78 336.6,459.35 336.8,458.92 337,458.49 337.2,458.03 337.4,457.56 337.6,457.1 337.8,456.64 338,456.17 338.2,455.71 338.4,455.25 338.6,454.79 338.8,454.32 339,453.87 339.2,453.42 339.4,452.97 339.6,452.53 339.8,452.08 340,451.63 340.2,451.18 340.4,450.74 340.6,450.29 340.8,449.84 341,449.39 341.2,448.95 341.4,448.5 341.6,448.41 341.8,448.79 342,449.16 342.2,449.54 342.4,449.92 342.6,450.29 342.8,450.66 343,450.96 343.2,451.26 343.4,451.56 343.6,451.86 343.8,452.15 344,452.45 344.2,452.57 344.4,452.63 344.6,452.69 344.8,452.75 345,452.81 345.2,452.87 345.4,452.93 345.6,452.99 345.8,453.05 346,453.11 346.2,453.17 346.4,453.23 346.6,453.29 346.8,453.35 347,453.41 347.2,453.47 347.4,453.53 347.6,453.74 347.8,453.99 348,454.25 348.2,454.5 348.4,454.75 348.6,455 348.8,455.26 349,455.51 349.2,456.2 349.4,457 349.6,457.81 349.8,458.61 350,459.41 350.2,460.22 350.4,460.99 350.6,460.66 350.8,460.33 351,460 351.2,459.67 351.4,459.35 351.6,459.02 351.8,458.69 352,458.37 352.2,458.04 352.4,457.71 352.6,457.39 352.8,457.42 353,457.54 353.2,457.65 353.4,457.77 353.6,457.88 353.8,458 354,458.11 354.2,458.23 354.4,458.34 354.6,458.46 354.8,458.06 355,457.6 355.2,457.13 355.4,456.67 355.6,456.2 355.8,455.74 356,455.28 356.2,454.82 356.4,454.35 356.6,453.89 356.8,453.43 357,452.97 357.2,452.51 357.4,452.04 357.6,451.58 357.8,451.89 358,452.62 358.2,453.32 358.4,454.02 358.6,454.71 358.8,455.41 359,456.11 359.2,456.81 359.4,457.5 359.6,458.04 359.8,458.28 360,458.52 360.2,458.76 360.4,459 360.6,459.23 360.8,459.47 361,459.71 361.2,459.98 361.4,460.26 361.6,460.51 361.8,460.71 362,460.92 362.2,461.13 362.4,461.34 362.6,461.54 362.8,461.75 363,461.96 363.2,462.17 363.4,462.38 363.6,462.58 363.8,462.79 364,463 364.2,463.21 364.4,463.42 364.6,463.13 364.8,462.73 365,462.33 365.2,461.92 365.4,461.52 365.6,461.12 365.8,460.72 366,460.31 366.2,459.91 366.4,459.51 366.6,459.1 366.8,458.7 367,458.36 367.2,458.5 367.4,458.64 367.6,458.77 367.8,458.91 368,459.05 368.2,459.18 368.4,459.32 368.6,459.46 368.8,459.25 369,458.86 369.2,458.51 369.4,458.15 369.6,457.8 369.8,457.44 370,457.09 370.2,456.73 370.4,456.38 370.6,456.03 370.8,455.67 371,455.32 371.2,454.96 371.4,454.61 371.6,454.28 371.8,454 372,453.73 372.2,453.46 372.4,453.19 372.6,452.92 372.8,452.65 373,452.37 373.2,452.1 373.4,451.83 373.6,451.56 373.8,451.29 374,451.02 374.2,450.74 374.4,450.47 374.6,450.2 374.8,449.93 375,449.66 375.2,449.42 375.4,449.94 375.6,450.45 375.8,450.96 376,451.48 376.2,451.99 376.4,452.51 376.6,453.02 376.8,453.54 377,454.05 377.2,454.56 377.4,455.08 377.6,455.59 377.8,456.11 378,456.62 378.2,457.14 378.4,457.65 378.6,458.16 378.8,458.15 379,457.68 379.2,457.22 379.4,456.76 379.6,456.29 379.8,455.83 380,455.36 380.2,454.9 380.4,454.43 380.6,453.97 380.8,453.5 381,453.04 381.2,452.58 381.4,452.13 381.6,451.68 381.8,451.23 382,450.76 382.2,450.28 382.4,449.81 382.6,449.34 382.8,448.87 383,448.4 383.2,447.92 383.4,447.45 383.6,446.98 383.8,446.51 384,446.84 384.2,447.22 384.4,447.59 384.6,447.96 384.8,448.33 385,448.7 385.2,449.03 385.4,449.32 385.6,449.61 385.8,449.9 386,450.2 386.2,450.49 386.4,450.72 386.6,450.77 386.8,450.83 387,450.88 387.2,450.94 387.4,450.99 387.6,451.05 387.8,451.1 388,451.15 388.2,451.2 388.4,451.25 388.6,451.3 388.8,451.35 389,451.4 389.2,451.45 389.4,451.5 389.6,451.55 389.8,451.66 390,451.9 390.2,452.13 390.4,452.36 390.6,452.6 390.8,452.83 391,453.07 391.2,453.3 391.4,453.7 391.6,454.49 391.8,455.28 392,456.06 392.2,456.85 392.4,457.63 392.6,458.42 392.8,458.6 393,458.25 393.2,457.9 393.4,457.55 393.6,457.2 393.8,456.85 394,456.49 394.2,456.14 394.4,455.78 394.6,455.42 394.8,455.07 395,454.85 395.2,454.94 395.4,455.02 395.6,455.11 395.8,455.19 396,455.28 396.2,455.36 396.4,455.45 396.6,455.53 396.8,455.62 397,455.48 397.2,454.98 397.4,454.49 397.6,453.99 397.8,453.5 398,453 398.2,452.5 398.4,452.01 398.6,451.51 398.8,451.02 399,450.52 399.2,450.03 399.4,449.53 399.6,449.04 399.8,448.54 400,448.23 400.2,448.92 400.4,449.6 400.6,450.29 400.8,450.98 401,451.67 401.2,452.36 401.4,453.05 401.6,453.74 401.8,454.42 402,454.72 402.2,454.95 402.4,455.18 402.6,455.41 402.8,455.64 403,455.87 403.2,456.1 403.4,456.32 403.6,456.57 403.8,456.84 404,457.05 404.2,457.25 404.4,457.45 404.6,457.65 404.8,457.85 405,458.05 405.2,458.25 405.4,458.45 405.6,458.65 405.8,458.85 406,459.05 406.2,459.26 406.4,459.46 406.6,459.66 406.8,459.67 407,459.27 407.2,458.88 407.4,458.46 407.6,458.04 407.8,457.62 408,457.2 408.2,456.79 408.4,456.38 408.6,455.97 408.8,455.56 409,455.15 409.2,454.74 409.4,454.67 409.6,454.8 409.8,454.93 410,455.06 410.2,455.19 410.4,455.32 410.6,455.44 410.8,455.57 411,455.61 411.2,455.22 411.4,454.82 411.6,454.43 411.8,454.05 412,453.67 412.2,453.29 412.4,452.91 412.6,452.53 412.8,452.15 413,451.77 413.2,451.39 413.4,451.02 413.6,450.64 413.8,450.26 414,449.94 414.2,449.65 414.4,449.35 414.6,449.06 414.8,448.76 415,448.46 415.2,448.17 415.4,447.87 415.6,447.58 415.8,447.28 416,446.98 416.2,446.69 416.4,446.39 416.6,446.09 416.8,445.8 417,445.5 417.2,445.21 417.4,444.91 417.6,445.11 417.8,445.64 418,446.16 418.2,446.67 418.4,447.19 418.6,447.71 418.8,448.22 419,448.74 419.2,449.26 419.4,449.78 419.6,450.29 419.8,450.81 420,451.33 420.2,451.84 420.4,452.36 420.6,452.88 420.8,453.4 421,453.86 421.2,453.36 421.4,452.87 421.6,452.37 421.8,451.89 422,451.4 422.2,450.92 422.4,450.43 422.6,449.94 422.8,449.46 423,448.97 423.2,448.49 423.4,448 423.6,447.52 423.8,447.05 424,446.58 424.2,446.11 424.4,445.64 424.6,445.17 424.8,444.7 425,444.23 425.2,443.76 425.4,443.29 425.6,442.82 425.8,442.35 426,441.88 426.2,441.81 426.4,442.19 426.6,442.57 426.8,442.96 427,443.34 427.2,443.73 427.4,444.1 427.6,444.41 427.8,444.71 428,445.02 428.2,445.32 428.4,445.63 428.6,445.93 428.8,446.06 429,446.12 429.2,446.19 429.4,446.26 429.6,446.32 429.8,446.39 430,446.46 430.2,446.53 430.4,446.59 430.6,446.65 430.8,446.7 431,446.75 431.2,446.8 431.4,446.84 431.6,446.89 431.8,446.94 432,446.99 432.2,447.2 432.4,447.43 432.6,447.66 432.8,447.9 433,448.13 433.2,448.36 433.4,448.59 433.6,448.83 433.8,449.51 434,450.3 434.2,451.07 434.4,451.84 434.6,452.62 434.8,453.39 435,454.11 435.2,453.75 435.4,453.39 435.6,453.03 435.8,452.68 436,452.33 436.2,451.99 436.4,451.64 436.6,451.29 436.8,450.94 437,450.6 437.2,450.25 437.4,450.27 437.6,450.37 437.8,450.46 438,450.56 438.2,450.65 438.4,450.75 438.6,450.84 438.8,450.94 439,451.03 439.2,451.12 439.4,450.7 439.6,450.21 439.8,449.72 440,449.24 440.2,448.75 440.4,448.27 440.6,447.78 440.8,447.29 441,446.81 441.2,446.32 441.4,445.84 441.6,445.35 441.8,444.87 442,444.38 442.2,443.89 442.4,444.21 442.6,444.92 442.8,445.62 443,446.33 443.2,447.03 443.4,447.74 443.6,448.44 443.8,449.15 444,449.85 444.2,450.39 444.4,450.63 444.6,450.88 444.8,451.12 445,451.37 445.2,451.62 445.4,451.86 445.6,452.11 445.8,452.35 446,452.6 446.2,452.82 446.4,453 446.6,453.18 446.8,453.36 447,453.54 447.2,453.72 447.4,453.9 447.6,454.08 447.8,454.26 448,454.44 448.2,454.62 448.4,454.8 448.6,454.98 448.8,455.16 449,455.34 449.2,455.02 449.4,454.62 449.6,454.22 449.8,453.81 450,453.41 450.2,453.01 450.4,452.61 450.6,452.2 450.8,451.8 451,451.4 451.2,451 451.4,450.6 451.6,450.27 451.8,450.41 452,450.55 452.2,450.68 452.4,450.82 452.6,450.96 452.8,451.1 453,451.23 453.2,451.37 453.4,451.15 453.6,450.77 453.8,450.38 454,450 454.2,449.61 454.4,449.23 454.6,448.84 454.8,448.44 455,448.04 455.2,447.65 455.4,447.25 455.6,446.85 455.8,446.46 456,446.06 456.2,445.69 456.4,445.37 456.6,445.06 456.8,444.75 457,444.43 457.2,444.12 457.4,443.8 457.6,443.49 457.8,443.18 458,442.86 458.2,442.55 458.4,442.23 458.6,441.92 458.8,441.61 459,441.29 459.2,440.98 459.4,440.66 459.6,440.35 459.8,440.13 460,440.62 460.2,441.13 460.4,441.66 460.6,442.18 460.8,442.71 461,443.23 461.2,443.76 461.4,444.29 461.6,444.81 461.8,445.34 462,445.86 462.2,446.39 462.4,446.91 462.6,447.44 462.8,447.96 463,448.49 463.2,449.01 463.4,448.96 463.6,448.49 463.8,448.03 464,447.57 464.2,447.1 464.4,446.64 464.6,446.18 464.8,445.72 465,445.26 465.2,444.8 465.4,444.34 465.6,443.87 465.8,443.41 466,442.97 466.2,442.52 466.4,442.08 466.6,441.63 466.8,441.18 467,440.74 467.2,440.29 467.4,439.84 467.6,439.4 467.8,438.95 468,438.5 468.2,438.06 468.4,437.61 468.6,438 468.8,438.4 469,438.8 469.2,439.2 469.4,439.6 469.6,440 469.8,440.36 470,440.68 470.2,441 470.4,441.32 470.6,441.65 470.8,441.97 471,442.22 471.2,442.31 471.4,442.39 471.6,442.48 471.8,442.56 472,442.64 472.2,442.73 472.4,442.81 472.6,442.9 472.8,442.98 473,443.06 473.2,443.15 473.4,443.23 473.6,443.3 473.8,443.38 474,443.46 474.2,443.54 474.4,443.68 474.6,443.94 474.8,444.2 475,444.47 475.2,444.73 475.4,444.99 475.6,445.25 475.8,445.52 476,445.96 476.2,446.77 476.4,447.59 476.6,448.4 476.8,449.21 477,450.03 477.2,450.84 477.4,451.02 477.6,450.69 477.8,450.37 478,450.05 478.2,449.73 478.4,449.41 478.6,449.09 478.8,448.78 479,448.46 479.2,448.15 479.4,447.83 479.6,447.67 479.8,447.8 480,447.93 480.2,448.05 480.4,448.18 480.6,448.31 480.8,448.43 481,448.56 481.2,448.69 481.4,448.81 481.6,448.7 481.8,448.25 482,447.79 482.2,447.34 482.4,446.88 482.6,446.43 482.8,445.98 483,445.52 483.2,445.07 483.4,444.61 483.6,444.16 483.8,443.71 484,443.25 484.2,442.8 484.4,442.34 484.6,442.1 484.8,442.83 485,443.55 485.2,444.27 485.4,444.99 485.6,445.71 485.8,446.43 486,447.16 486.2,447.88 486.4,448.62 486.6,448.96 486.8,449.24 487,449.52 487.2,449.81 487.4,450.09 487.6,450.37 487.8,450.66 488,450.94 488.2,451.22 488.4,451.51 488.6,451.73 488.8,451.95 489,452.16 489.2,452.38 489.4,452.6 489.6,452.82 489.8,453.03 490,453.25 490.2,453.47 490.4,453.69 490.6,453.9 490.8,454.12 491,454.34 491.2,454.55 491.4,454.58 491.6,454.22 491.8,453.85 492,453.49 492.2,453.13 492.4,452.77 492.6,452.4 492.8,452.04 493,451.68 493.2,451.32 493.4,450.96 493.6,450.59 493.8,450.23 494,450.22 494.2,450.4 494.4,450.58 494.6,450.76 494.8,450.93 495,451.11 495.2,451.29 495.4,451.47 495.6,451.54 495.8,451.2 496,450.85 496.2,450.51 496.4,450.16 496.6,449.82 496.8,449.47 497,449.13 497.2,448.78 497.4,448.44 497.6,448.09 497.8,447.75 498,447.4 498.2,447.06 498.4,446.71 498.6,446.44 498.8,446.18 499,445.91 499.2,445.65 499.4,445.39 499.6,445.13 499.8,444.86 500,444.6 500.2,444.34 500.4,444.08 500.6,443.82 500.8,443.58 501,443.33 501.2,443.08 501.4,442.83 501.6,442.59 501.8,442.34 502,442.09 502.2,442.37 502.4,442.95 502.6,443.53 502.8,444.11 503,444.69 503.2,445.26 503.4,445.84 503.6,446.42 503.8,447 504,447.58 504.2,448.16 504.4,448.74 504.6,449.32 504.8,449.9 505,450.48 505.2,451.06 505.4,451.61 505.6,452.08 505.8,451.62 506,451.16 506.2,450.7 506.4,450.23 506.6,449.77 506.8,449.31 507,448.84 507.2,448.38 507.4,447.92 507.6,447.45 507.8,446.99 508,446.53 508.2,446.07 508.4,445.63 508.6,445.18 508.8,444.73 509,444.28 509.2,443.83 509.4,443.39 509.6,442.94 509.8,442.49 510,442.04 510.2,441.6 510.4,441.15 510.6,440.71 510.8,440.71 511,441.14 511.2,441.58 511.4,442.01 511.6,442.44 511.8,442.87 512,443.29 512.2,443.65 512.4,444 512.6,444.36 512.8,444.72 513,445.08 513.2,445.44 513.4,445.61 513.6,445.73 513.8,445.85 514,445.97 514.2,446.09 514.4,446.21 514.6,446.34 514.8,446.46 515,446.58 515.2,446.68 515.4,446.77 515.6,446.87 515.8,446.97 516,447.07 516.2,447.17 516.4,447.27 516.6,447.37 516.8,447.63 517,447.91 517.2,448.19 517.4,448.48 517.6,448.76 517.8,449.04 518,449.32 518.2,449.61 518.4,450.36 518.6,451.19 518.8,452.02 519,452.86 519.2,453.69 519.4,454.53 519.6,455.28 519.8,454.98 520,454.68 520.2,454.38 520.4,454.08 520.6,453.78 520.8,453.48 521,453.18 521.2,452.89 521.4,452.59 521.6,452.3 521.8,452 522,452.09 522.2,452.24 522.4,452.38 522.6,452.53 522.8,452.68 523,452.83 523.2,452.97 523.4,453.12 523.6,453.27 523.8,453.41 524,453.02 524.2,452.59 524.4,452.16 524.6,451.72 524.8,451.29 525,450.86 525.2,450.42 525.4,449.99 525.6,449.56 525.8,449.12 526,448.69 526.2,448.26 526.4,447.83 526.6,447.39 526.8,446.96 527,447.36 527.2,448.12 527.4,448.88 527.6,449.64 527.8,450.39 528,451.15 528.2,451.91 528.4,452.67 528.6,453.43 528.8,454.01 529,454.31 529.2,454.61 529.4,454.91 529.6,455.21 529.8,455.51 530,455.81 530.2,456.11 530.4,456.41 530.6,456.71 530.8,456.98 531,457.21 531.2,457.45 531.4,457.68 531.6,457.92 531.8,458.15 532,458.38 532.2,458.62 532.4,458.85 532.6,459.09 532.8,459.32 533,459.55 533.2,459.79 533.4,460.02 533.6,460.26 533.8,459.98 534,459.63 534.2,459.27 534.4,458.92 534.6,458.56 534.8,458.21 535,457.85 535.2,457.5 535.4,457.14 535.6,456.79 535.8,456.43 536,456.08 536.2,455.82 536.4,456 536.6,456.19 536.8,456.37 537,456.56 537.2,456.74 537.4,456.93 537.6,457.11 537.8,457.3 538,457.11 538.2,456.77 538.4,456.44 538.6,456.1 538.8,455.77 539,455.43 539.2,455.09 539.4,454.75 539.6,454.42 539.8,454.08 540,453.74 540.2,453.4 540.4,453.06 540.6,452.72 540.8,452.41 541,452.16 541.2,451.9 541.4,451.64 541.6,451.39 541.8,451.13 542,450.87 542.2,450.62 542.4,450.36 542.6,450.11 542.8,449.85 543,449.59 543.2,449.34 543.4,449.08 543.6,448.83 543.8,448.57 544,448.31 544.2,448.06 544.4,447.92 544.6,448.5 544.8,449.07 545,449.65 545.2,450.22 545.4,450.8 545.6,451.37 545.8,451.94 546,452.52 546.2,453.09 546.4,453.67 546.6,454.24 546.8,454.82 547,455.39 547.2,455.96 547.4,456.54 547.6,457.11 547.8,457.69 548,457.66 548.2,457.22 548.4,456.78 548.6,456.34 548.8,455.89 549,455.45 549.2,455.01 549.4,454.57 549.6,454.12 549.8,453.68 550,453.24 550.2,452.8 550.4,452.36 550.6,451.93 550.8,451.5 551,451.08 551.2,450.65 551.4,450.22 551.6,449.8 551.8,449.37 552,448.94 552.2,448.51 552.4,448.09 552.6,447.66 552.8,447.23 553,446.81 553.2,447.23 553.4,447.66 553.6,448.1 553.8,448.53 554,448.96 554.2,449.39 554.4,449.77 554.6,450.13 554.8,450.48 555,450.83 555.2,451.19 555.4,451.54 555.6,451.82 555.8,451.93 556,452.05 556.2,452.16 556.4,452.28 556.6,452.4 556.8,452.51 557,452.63 557.2,452.74 557.4,452.86 557.6,452.97 557.8,453.09 558,453.2 558.2,453.32 558.4,453.43 558.6,453.54 558.8,453.64 559,453.81 559.2,454.1 559.4,454.38 559.6,454.67 559.8,454.95 560,455.24 560.2,455.52 560.4,455.81 560.6,456.29 560.8,457.13 561,457.96 561.2,458.8 561.4,459.64 561.6,460.47 561.8,461.31 562,461.48 562.2,461.18 562.4,460.89 562.6,460.59 562.8,460.29 563,459.99 563.2,459.7 563.4,459.41 563.6,459.12 563.8,458.82 564,458.53 564.2,458.41 564.4,458.55 564.6,458.7 564.8,458.84 565,458.99 565.2,459.13 565.4,459.27 565.6,459.42 565.8,459.56 566,459.7 566.2,459.59 566.4,459.15 566.6,458.72 566.8,458.28 567,457.84 567.2,457.4 567.4,456.97 567.6,456.53 567.8,456.09 568,455.65 568.2,455.22 568.4,454.78 568.6,454.34 568.8,453.9 569,453.47 569.2,453.28 569.4,454.04 569.6,454.8 569.8,455.55 570,456.31 570.2,457.07 570.4,457.82 570.6,458.58 570.8,459.34 571,460.09 571.2,460.43 571.4,460.73 571.6,461.03 571.8,461.32 572,461.62 572.2,461.92 572.4,462.22 572.6,462.51 572.8,462.81 573,463.11 573.2,463.34 573.4,463.57 573.6,463.8 573.8,464.03 574,464.27 574.2,464.5 574.4,464.73 574.6,464.96 574.8,465.19 575,465.42 575.2,465.65 575.4,465.88 575.6,466.12 575.8,466.35 576,466.36 576.2,466.01 576.4,465.65 576.6,465.29 576.8,464.94 577,464.58 577.2,464.22 577.4,463.87 577.6,463.51 577.8,463.15 578,462.8 578.2,462.44 578.4,462.08 578.6,462.1 578.8,462.28 579,462.46 579.2,462.65 579.4,462.83 579.6,463.01 579.8,463.2 580,463.38 580.2,463.45 580.4,463.11 580.6,462.77 580.8,462.43 581,462.09 581.2,461.74 581.4,461.39 581.6,461.04 581.8,460.69 582,460.34 582.2,459.99 582.4,459.63 582.6,459.28 582.8,458.93 583,458.58 583.2,458.3 583.4,458.03 583.6,457.76 583.8,457.5 584,457.23 584.2,456.96 584.4,456.69 584.6,456.42 584.8,456.16 585,455.89 585.2,455.62 585.4,455.35 585.6,455.08 585.8,454.81 586,454.55 586.2,454.28 586.4,454.01 586.6,453.74 586.8,454.02 587,454.57 587.2,455.16 587.4,455.75 587.6,456.33 587.8,456.92 588,457.51 588.2,458.09 588.4,458.68 588.6,459.27 588.8,459.85 589,460.44 589.2,461.03 589.4,461.61 589.6,462.2 589.8,462.79 590,463.37 590.2,463.83 590.4,463.39 590.6,462.94 590.8,462.49 591,462.05 591.2,461.61 591.4,461.17 591.6,460.72 591.8,460.28 592,459.84 592.2,459.39 592.4,458.95 592.6,458.51 592.8,458.07 593,457.65 593.2,457.22 593.4,456.79 593.6,456.36 593.8,455.93 594,455.51 594.2,455.08 594.4,454.65 594.6,454.22 594.8,453.79 595,453.37 595.2,452.94 595.4,452.94 595.6,453.36 595.8,453.77 596,454.19 596.2,454.61 596.4,455.02 596.6,455.43 596.8,455.77 597,456.1 597.2,456.44 597.4,456.78 597.6,457.12 597.8,457.46 598,457.6 598.2,457.7 598.4,457.8 598.6,457.9 598.8,458 599,458.1 599.2,458.2 599.4,458.3 599.6,458.4 599.8,458.5 600,458.6 600.2,458.7 600.4,458.8 600.6,458.9 600.8,459.02 601,459.14 601.2,459.26 601.4,459.55 601.6,459.85 601.8,460.16 602,460.46 602.2,460.77 602.4,461.07 602.6,461.37 602.8,461.68 603,462.46 603.2,463.32 603.4,464.17 603.6,465.03 603.8,465.88 604,466.74 604.2,467.48 604.4,467.2 604.6,466.92 604.8,466.64 605,466.37 605.2,466.09 605.4,465.81 605.6,465.53 605.8,465.24 606,464.95 606.2,464.65 606.4,464.35 606.6,464.45 606.8,464.59 607,464.73 607.2,464.88 607.4,465.02 607.6,465.17 607.8,465.31 608,465.45 608.2,465.6 608.4,465.74 608.6,465.34 608.8,464.9 609,464.46 609.2,464.03 609.4,463.59 609.6,463.15 609.8,462.72 610,462.28 610.2,461.84 610.4,461.41 610.6,460.97 610.8,460.54 611,460.1 611.2,459.66 611.4,459.23 611.6,459.65 611.8,460.41 612,461.17 612.2,461.93 612.4,462.69 612.6,463.46 612.8,464.22 613,464.98 613.2,465.74 613.4,466.31 613.6,466.61 613.8,466.91 614,467.21 614.2,467.52 614.4,467.82 614.6,468.12 614.8,468.42 615,468.72 615.2,469.03 615.4,469.3 615.6,469.53 615.8,469.77 616,470 616.2,470.24 616.4,470.48 616.6,470.71 616.8,470.94 617,471.17 617.2,471.39 617.4,471.62 617.6,471.85 617.8,472.07 618,472.3 618.2,472.52 618.4,472.23 618.6,471.86 618.8,471.49 619,471.11 619.2,470.74 619.4,470.37 619.6,470 619.8,469.63 620,469.25 620.2,468.88 620.4,468.51 620.6,468.14 620.8,467.87 621,468.04 621.2,468.21 621.4,468.37 621.6,468.54 621.8,468.71 622,468.88 622.2,469.05 622.4,469.21 622.6,469 622.8,468.64 623,468.29 623.2,467.93 623.4,467.58 623.6,467.22 623.8,466.88 624,466.54 624.2,466.19 624.4,465.85 624.6,465.51 624.8,465.17 625,464.83 625.2,464.49 625.4,464.18 625.6,463.92 625.8,463.66 626,463.41 626.2,463.15 626.4,462.89 626.6,462.63 626.8,462.37 627,462.11 627.2,461.86 627.4,461.6 627.6,461.34 627.8,461.08 628,460.82 628.2,460.57 628.4,460.31 628.6,460.05 628.8,459.79 629,459.67 629.2,460.24 629.4,460.81 629.6,461.38 629.8,461.95 630,462.52 630.2,463.09 630.4,463.66 630.6,464.22 630.8,464.79 631,465.36 631.2,465.93 631.4,466.5 631.6,467.07 631.8,467.64 632,468.21 632.2,468.78 632.4,469.35 632.6,469.29 632.8,468.84 633,468.38 633.2,467.93 633.4,467.47 633.6,467.01 633.8,466.56 634,466.1 634.2,465.64 634.4,465.19 634.6,464.73 634.8,464.27 635,463.82 635.2,463.38 635.4,462.94 635.6,462.49 635.8,462.05 636,461.61 636.2,461.17 636.4,460.73 636.6,460.29 636.8,459.85 637,459.4 637.2,458.96 637.4,458.52 637.6,458.1 637.8,458.51 638,458.92 638.2,459.34 638.4,459.75 638.6,460.17 638.8,460.59 639,460.95 639.2,461.28 639.4,461.62 639.6,461.96 639.8,462.3 640,462.63 640.2,462.89 640.4,462.99 640.6,463.09 640.8,463.19 641,463.29 641.2,463.38 641.4,463.48 641.6,463.58 641.8,463.68 642,463.78 642.2,463.88 642.4,463.98 642.6,464.08 642.8,464.18 643,464.29 643.2,464.4 643.4,464.52 643.6,464.7 643.8,465 644,465.29 644.2,465.59 644.4,465.89 644.6,466.18 644.8,466.48 645,466.77 645.2,467.28 645.4,468.13 645.6,468.97 645.8,469.82 646,470.67 646.2,471.51 646.4,472.36 646.6,472.51 646.8,472.23 647,471.94 647.2,471.63 647.4,471.32 647.6,471.01 647.8,470.7 648,470.39 648.2,470.08 648.4,469.77 648.6,469.46 648.8,469.32 649,469.45 649.2,469.59 649.4,469.72 649.6,469.85 649.8,469.98 650,470.11 650.2,470.24 650.4,470.37 650.6,470.5 650.8,470.37 651,469.92 651.2,469.47 651.4,469.02 651.6,468.57 651.8,468.12 652,467.67 652.2,467.22 652.4,466.77 652.6,466.32 652.8,465.87 653,465.42 653.2,464.97 653.4,464.52 653.6,464.08 653.8,463.91 654,464.65 654.2,465.39 654.4,466.13 654.6,466.89 654.8,467.67 655,468.44 655.2,469.22 655.4,470 655.6,470.77 655.8,471.12 656,471.44 656.2,471.76 656.4,472.08 656.6,472.4 656.8,472.71 657,473.03 657.2,473.35 657.4,473.67 657.6,473.98 657.8,474.24 658,474.49 658.2,474.74 658.4,474.99 658.6,475.24 658.8,475.5 659,475.75 659.2,476 659.4,476.25 659.6,476.5 659.8,476.75 660,477.01 660.2,477.26 660.4,477.51 660.6,477.51 660.8,477.15 661,476.79 661.2,476.43 661.4,476.07 661.6,475.71 661.8,475.35 662,474.99 662.2,474.63 662.4,474.27 662.6,473.91 662.8,473.55 663,473.18 663.2,473.21 663.4,473.39 663.6,473.56 663.8,473.74 664,473.92 664.2,474.1 664.4,474.28 664.6,474.46 664.8,474.51 665,474.17 665.2,473.83 665.4,473.49 665.6,473.16 665.8,472.82 666,472.49 666.2,472.15 666.4,471.81 666.6,471.48 666.8,471.14 667,470.81 667.2,470.47 667.4,470.14 667.6,469.8 667.8,469.54 668,469.28 668.2,469.03 668.4,468.78 668.6,468.52 668.8,468.27 669,468.02 669.2,467.77 669.4,467.52 669.6,467.26 669.8,467.01 670,466.76 670.2,466.51 670.4,466.26 670.6,466.01 670.8,465.76 671,465.51 671.2,465.26 671.4,465.57 671.6,466.15 671.8,466.72 672,467.3 672.2,467.87 672.4,468.45 672.6,469.03 672.8,469.6 673,470.18 673.2,470.76 673.4,471.33 673.6,471.91 673.8,472.49 674,473.06 674.2,473.64 674.4,474.21 674.6,474.79 674.8,475.23 675,474.79 675.2,474.34 675.4,473.89 675.6,473.44 675.8,472.99 676,472.55 676.2,472.1 676.4,471.65 676.6,471.2 676.8,470.75 677,470.31 677.2,469.86 677.4,469.42 677.6,468.99 677.8,468.56 678,468.12 678.2,467.69 678.4,467.26 678.6,466.83 678.8,466.39 679,465.96 679.2,465.53 679.4,465.1 679.6,464.66 679.8,464.23 680,464.26 680.2,464.68 680.4,465.11 680.6,465.54 680.8,465.96 681,466.39 681.2,466.8 681.4,467.15 681.6,467.5 681.8,467.85 682,468.2 682.2,468.55 682.4,468.9 682.6,469.04 682.8,469.15 683,469.26 683.2,469.37 683.4,469.48 683.6,469.59 683.8,469.7 684,469.81 684.2,469.93 684.4,470.04 684.6,470.15 684.8,470.27 685,470.38 685.2,470.5 685.4,470.61 685.6,470.73 685.8,470.85 686,471.13 686.2,471.43 686.4,471.74 686.6,472.04 686.8,472.34 687,472.64 687.2,472.94 687.4,473.24 687.6,474.03 687.8,474.88 688,475.74 688.2,476.59 688.4,477.44 688.6,478.29 688.8,479 689,478.72 689.2,478.44 689.4,478.16 689.6,477.88 689.8,477.58 690,477.28 690.2,476.98 690.4,476.68 690.6,476.38 690.8,476.08 691,475.78 691.2,475.88 691.4,476.02 691.6,476.16 691.8,476.3 692,476.44 692.2,476.58 692.4,476.72 692.6,476.87 692.8,477.01 693,477.15 693.2,476.72 693.4,476.28 693.6,475.85 693.8,475.42 694,474.99 694.2,474.56 694.4,474.13 694.6,473.7 694.8,473.27 695,472.84 695.2,472 695.4,471.16 695.6,470.32 695.8,469.47 696,468.63 696.2,468.68 696.4,469.03 696.6,469.38 696.8,469.73 697,470.08 697.2,470.43 697.4,470.78 697.6,471.12 697.8,471.47 698,471.62 698.2,471.51 698.4,471.39 698.6,471.28 698.8,471.16 699,471.05 699.2,470.94 699.4,470.82 699.6,470.71 699.8,470.6 700,470.42 700.2,470.23 700.4,470.04 700.6,469.85 700.8,469.66 701,469.47 701.2,469.28 701.4,469.09 701.6,468.9 701.8,468.72 702,468.53 702.2,468.34 702.4,468.15 702.6,467.96 702.8,467.77 703,467.04 703.2,466.26 703.4,465.48 703.6,464.7 703.8,463.92 704,463.13 704.2,462.35 704.4,461.57 704.6,460.79 704.8,460.01 705,459.23 705.2,458.45 705.4,457.79 705.6,457.54 705.8,457.3 706,457.06 706.2,456.82 706.4,456.56 706.6,456.31 706.8,456.05 707,455.79 707.2,455.14 707.4,454.36 707.6,453.58 707.8,452.8 708,452.02 708.2,451.24 708.4,450.46 708.6,449.68 708.8,448.9 709,448.12 709.2,447.35 709.4,446.57 709.6,445.79 709.8,445.01 710,444.26 710.2,443.61 710.4,442.97 710.6,442.32 710.8,441.67 711,441.03 711.2,440.38 711.4,439.73 711.6,439.09 711.8,438.44 712,437.79 712.2,437.15 712.4,436.5 712.6,435.85 712.8,435.2 713,434.56 713.2,433.91 713.4,433.26 713.6,432.78 713.8,432.98 714,433.2 714.2,433.42 714.4,433.64 714.6,433.86 714.8,434.08 715,434.3 715.2,434.52 715.4,434.74 715.6,434.96 715.8,435.18 716,435.4 716.2,435.62 716.4,435.84 716.6,436.06 716.8,436.28 717,436.5 717.2,436.07 717.4,435.28 717.6,434.4 717.8,433.42 718,432.45 718.2,431.47 718.4,430.5 718.6,429.52 718.8,428.55 719,427.57 719.2,426.6 719.4,425.62 719.6,424.65 719.8,423.69 720,422.73 720.2,421.77 720.4,420.81 720.6,419.94 720.8,419.15 721,418.36 721.2,417.29 721.4,415.93 721.6,414.58 721.8,413.22 722,411.86 722.2,410.54 722.4,410.04 722.6,409.53 722.8,409.02 723,408.52 723.2,408.01 723.4,407.5 723.6,406.94 723.8,406.36 724,405.77 724.2,405.19 724.4,404.6 724.6,404.02 724.8,403.34 725,402.52 725.2,401.7 725.4,400.87 725.6,400.05 725.8,399.23 726,398.4 726.2,397.58 726.4,396.75 726.6,395.93 726.8,395.11 727,394.28 727.2,393.46 727.4,392.64 727.6,391.81 727.8,390.99 728,390.16 728.2,389.42 728.4,388.78 728.6,388.14 728.8,387.5 729,386.87 729.2,386.23 729.4,385.59 729.6,385.01 729.8,384.72 730,384.75 730.2,384.79 730.4,384.83 730.6,384.86 730.8,384.9 731,384.93 731.2,384.25 731.4,383.15 731.6,382.05 731.8,380.95 732,379.86 732.2,378.76 732.4,377.66 732.6,376.4 732.8,374.99 733,373.57 733.2,372.15 733.4,370.93 733.6,369.95 733.8,368.98 734,368 734.2,367.03 734.4,366.05 734.6,365.08 734.8,364.1 735,363.13 735.2,362.15 735.4,360.9 735.6,359.34 735.8,357.78 736,356.23 736.2,354.67 736.4,353.12 736.6,351.56 736.8,350.01 737,348.45 737.2,346.9 737.4,345.34 737.6,343.79 737.8,342.23 738,340.68 738.2,339.12 738.4,337.88 738.6,337.6 738.8,337.4 739,337.2 739.2,337 739.4,336.8 739.6,336.6 739.8,336.4 740,336.2 740.2,336.01 740.4,335.37 740.6,334.71 740.8,334.05 741,333.39 741.2,332.73 741.4,332.08 741.6,331.42 741.8,330.76 742,330.1 742.2,329.36 742.4,328.56 742.6,327.75 742.8,326.94 743,326.14 743.2,325.33 743.4,324.53 743.6,323.72 743.8,322.92 744,322.11 744.2,321.3 744.4,320.5 744.6,319.69 744.8,318.89 745,318.08 745.2,317.03 745.4,315.63 745.6,314.23 745.8,312.83 746,311.44 746.2,310.04 746.4,308.64 746.6,307.29 746.8,305.98 747,304.67 747.2,303.36 747.4,302.39 747.6,301.43 747.8,300.87 748,300.44 748.2,300.02 748.4,299.6 748.6,299.18 748.8,298.76 749,298.33 749.2,297.91 749.4,297.35 749.6,296.4 749.8,295.46 750,294.51 750.2,293.57 750.4,292.62 750.6,291.68 750.8,290.73 751,289.79 751.2,288.85 751.4,287.92 751.6,286.98 751.8,286.05 752,285.11 752.2,284.17 752.4,283.31 752.6,282.46 752.8,281.61 753,280.75 753.2,279.9 753.4,279.05 753.6,278.19 753.8,277.34 754,276.49 754.2,275.63 754.4,274.78 754.6,273.93 754.8,273.07 755,272.22 755.2,271.37 755.4,270.51 755.6,269.73 755.8,269 756,268.86 756.2,268.96 756.4,269.06 756.6,269.16 756.8,269.26 757,269.36 757.2,269.46 757.4,269.56 757.6,269.66 757.8,269.76 758,269.86 758.2,269.96 758.4,270.06 758.6,270.17 758.8,270.27 759,270.37 759.2,270.47 759.4,270.41 759.6,269.5 759.8,268.59 760,267.67 760.2,266.41 760.4,265.15 760.6,263.89 760.8,262.63 761,261.38 761.2,260.12 761.4,258.86 761.6,257.6 761.8,256.34 762,255.09 762.2,253.84 762.4,252.6 762.6,251.35 762.8,250.11 763,248.86 763.2,247.75 763.4,246.64 763.6,245.53 763.8,244.42 764,243.31 764.2,242.2 764.4,241.09 764.6,240.46 764.8,240.2 765,239.94 765.2,239.68 765.4,239.42 765.6,239.16 765.8,238.89 766,238.55 766.2,238.32 766.4,238.08 766.6,237.85 766.8,237.62 767,237.38 767.2,236.94 767.4,236.47 767.6,236 767.8,235.53 768,235.06 768.2,234.58 768.4,234.11 768.6,233.64 768.8,233.17 769,232.7 769.2,232.23 769.4,231.75 769.6,231.28 769.8,230.81 770,230.34 770.2,229.87 770.4,229.4 770.6,229.04 770.8,228.63 771,228.23 771.2,227.82 771.4,227.42 771.6,227.01 771.8,226.6 772,226.2 772.2,226.3 772.4,226.44 772.6,226.59 772.8,226.73 773,226.87 773.2,227.02 773.4,227.44 773.6,227.33 773.8,227.23 774,227.13 774.2,227.02 774.4,226.92 774.6,226.82 774.8,226.71 775,226.61 775.2,226.54 775.4,226.47 775.6,226.41 775.8,226.76 776,227.13 776.2,227.5 776.4,227.88 776.6,228.25 776.8,228.63 777,229 777.2,229.38 777.4,229.75 777.6,230.13 777.8,229.92 778,229.72 778.2,229.57 778.4,229.43 778.6,229.28 778.8,229.14 779,228.99 779.2,228.85 779.4,228.7 779.6,228.56 779.8,228.41 780,228.27 780.2,228.12 780.4,228 780.6,227.88 780.8,228.68 781,229.75 781.2,230.82 781.4,231.89 781.6,232.96 781.8,234.03 782,235.1 782.2,236.16 782.4,237.23 782.6,238.09 782.8,238.7 783,239.31 783.2,239.92 783.4,240.46 783.6,241 783.8,241.54 784,242.08 784.2,242.62 784.4,243.17 784.6,243.68 784.8,244.16 785,244.65 785.2,245.14 785.4,245.62 785.6,246.11 785.8,246.6 786,247.08 786.2,247.57 786.4,248.05 786.6,248.54 786.8,249.03 787,249.51 787.2,250 787.4,250.49 787.6,250.42 787.8,250.31 788,250.21 788.2,250.1 788.4,250 788.6,249.89 788.8,249.79 789,249.69 789.2,249.58 789.4,249.48 789.6,249.38 789.8,249.27 790,249.31 790.2,249.74 790.4,250.18 790.6,250.62 790.8,251.05 791,251.49 791.2,251.93 791.4,252.36 791.6,252.8 791.8,252.83 792,252.74 792.2,252.64 792.4,252.53 792.6,252.43 792.8,252.33 793,252.22 793.2,252.12 793.4,252.02 793.6,251.91 793.8,251.81 794,251.7 794.2,251.6 794.4,251.5 794.6,251.43 794.8,251.41 795,251.39 795.2,251.36 795.4,251.34 795.6,251.32 795.8,251.3 796,251.28 796.2,251.26 796.4,251.24 796.6,251.22 796.8,251.2 797,251.18 797.2,251.15 797.4,251.13 797.6,251.11 797.8,251.09 798,251.07 798.2,251.25 798.4,252.08 798.6,252.91 798.8,253.74 799,254.57 799.2,255.4 799.4,256.23 799.6,257.06 799.8,257.89 800,258.72 800.2,259.54 800.4,260.37 800.6,261.2 800.8,262.03 801,262.86 801.2,263.69 801.4,264.52 801.6,265.35 801.8,265.5 802,265.32 802.2,265.13 802.4,264.94 802.6,264.75 802.8,264.56 803,264.37 803.2,264.17 803.4,263.98 803.6,263.79 803.8,263.6 804,263.4 804.2,263.21 804.4,263.04 804.6,262.86 804.8,262.68 805,262.5 805.2,262.33 805.4,262.15 805.6,261.97 805.8,261.79 806,261.62 806.2,261.44 806.4,261.27 806.6,261.11 806.8,261.02 807,261.71 807.2,262.4 807.4,263.1 807.6,263.79 807.8,264.48 808,265.17 808.2,265.81 808.4,266.42 808.6,267.04 808.8,267.65 809,268.26 809.2,268.88 809.4,269.4 809.6,269.78 809.8,270.15 810,270.53 810.2,270.9 810.4,271.28 810.6,271.63 810.8,271.95 811,272.27 811.2,272.59 811.4,272.92 811.6,273.24 811.8,273.56 812,273.88 812.2,274.21 812.4,274.53 812.6,274.85 812.8,275.26 813,275.77 813.2,276.27 813.4,276.78 813.6,277.29 813.8,277.79 814,278.3 814.2,278.81 814.4,279.55 814.6,280.61 814.8,281.67 815,282.73 815.2,283.79 815.4,284.84 815.6,285.9 815.8,286.21 816,286.22 816.2,286.23 816.4,286.24 816.6,286.26 816.8,286.27 817,286.28 817.2,286.29 817.4,286.3 817.6,286.31 817.8,286.33 818,286.54 818.2,286.99 818.4,287.45 818.6,287.9 818.8,288.35 819,288.81 819.2,289.25 819.4,289.7 819.6,290.15 819.8,290.6 820,290.74 820.2,290.61 820.4,290.48 820.6,290.34 820.8,290.21 821,290.08 821.2,289.94 821.4,289.81 821.6,289.68 821.8,289.54 822,289.41 822.2,289.28 822.4,289.15 822.6,289.01 822.8,288.88 823,289.09 823.2,289.98 823.4,290.87 823.6,291.77 823.8,292.66 824,293.56 824.2,294.45 824.4,295.34 824.6,296.24 824.8,297.13 825,297.57 825.2,298.01 825.4,298.44 825.6,298.93 825.8,299.46 826,300 826.2,300.53 826.4,301.07 826.6,301.6 826.8,302.13 827,302.6 827.2,303.07 827.4,303.54 827.6,304.01 827.8,304.47 828,304.94 828.2,305.41 828.4,305.88 828.6,306.35 828.8,306.82 829,307.28 829.2,307.75 829.4,308.22 829.6,308.69 829.8,308.89 830,308.77 830.2,308.74 830.4,308.72 830.6,308.69 830.8,308.67 831,308.64 831.2,308.62 831.4,308.6 831.6,308.57 831.8,308.55 832,308.52 832.2,308.5 832.4,308.88 832.6,309.4 832.8,309.91 833,310.43 833.2,310.94 833.4,311.46 833.6,311.97 833.8,312.49 834,312.84 834.2,312.84 834.4,312.83 834.6,312.77 834.8,312.65 835,312.53 835.2,312.42 835.4,312.3 835.6,312.18 835.8,312.07 836,311.95 836.2,311.83 836.4,311.72 836.6,311.6 836.8,311.48 837,311.44 837.2,311.41 837.4,311.37 837.6,311.34 837.8,311.31 838,311.27 838.2,311.24 838.4,311.2 838.6,311.17 838.8,311.14 839,311.1 839.2,311.07 839.4,311.03 839.6,311.04 839.8,311.1 840,311.15 840.2,311.21 840.4,311.27 840.6,311.93 840.8,312.81 841,313.69 841.2,314.57 841.4,315.46 841.6,316.34 841.8,317.22 842,318.1 842.2,318.99 842.4,319.87 842.6,320.75 842.8,321.63 843,322.52 843.2,323.4 843.4,324.28 843.6,325.1 843.8,325.85 844,326.42 844.2,326.16 844.4,325.9 844.6,325.64 844.8,325.38 845,325.12 845.2,324.86 845.4,324.6 845.6,324.33 845.8,324.07 846,323.81 846.2,323.55 846.4,323.29 846.6,323.04 846.8,322.79 847,322.55 847.2,322.3 847.4,322.06 847.6,321.81 847.8,321.56 848,321.32 848.2,321.14 848.4,320.96 848.6,320.78 848.8,320.61 849,320.43 849.2,320.75 849.4,321.42 849.6,322.1 849.8,322.77 850,323.44 850.2,324.12 850.4,324.77 850.6,325.37 850.8,325.96 851,326.56 851.2,327.15 851.4,327.75 851.6,328.34 851.8,328.72 852,329.08 852.2,329.43 852.4,329.79 852.6,330.15 852.8,330.5 853,330.86 853.2,331.22 853.4,331.57 853.6,331.93 853.8,332.28 854,332.64 854.2,333 854.4,333.36 854.6,333.72 854.8,334.08 855,334.44 855.2,334.98 855.4,335.52 855.6,336.07 855.8,336.61 856,337.16 856.2,337.7 856.4,338.25 856.6,338.79 856.8,339.86 857,340.95 857.2,342.05 857.4,343.14 857.6,344.24 857.8,345.33 858,346.23 858.2,346.19 858.4,346.16 858.6,346.14 858.8,346.13 859,346.13 859.2,346.13 859.4,346.13 859.6,346.12 859.8,346.12 860,346.12 860.2,346.12 860.4,346.54 860.6,346.98 860.8,347.42 861,347.86 861.2,348.3 861.4,348.74 861.6,349.18 861.8,349.62 862,350.06 862.2,350.48 862.4,350.34 862.6,350.2 862.8,350.06 863,349.92 863.2,349.78 863.4,349.64 863.6,349.5 863.8,349.36 864,349.21 864.2,349.07 864.4,348.93 864.6,348.74 864.8,348.49 865,348.24 865.2,347.99 865.4,348.69 865.6,349.63 865.8,350.57 866,351.51 866.2,352.45 866.4,353.4 866.6,354.34 866.8,355.28 867,356.22 867.2,356.93 867.4,357.41 867.6,357.9 867.8,358.38 868,358.86 868.2,359.34 868.4,359.82 868.6,360.31 868.8,360.79 869,361.27 869.2,361.85 869.4,362.41 869.6,362.96 869.8,363.51 870,364.07 870.2,364.62 870.4,365.17 870.6,365.73 870.8,366.28 871,366.84 871.2,367.39 871.4,367.94 871.6,368.5 871.8,369.05 872,369.61 872.2,369.59 872.4,369.55 872.6,369.51 872.8,369.48 873,369.44 873.2,369.34 873.4,369.24 873.6,369.13 873.8,369.03 874,368.93 874.2,368.83 874.4,368.73 874.6,368.77 874.8,369.21 875,369.65 875.2,370.08 875.4,370.52 875.6,370.96 875.8,371.4 876,371.84 876.2,372.27 876.4,372.29 876.6,372.2 876.8,372.12 877,372.03 877.2,371.95 877.4,371.87 877.6,371.78 877.8,371.7 878,371.61 878.2,371.53 878.4,371.44 878.6,371.36 878.8,371.27 879,371.19 879.2,371.14 879.4,371.14 879.6,371.14 879.8,371.14 880,371.14 880.2,371.13 880.4,371.13 880.6,371.13 880.8,371.13 881,371.13 881.2,371.12 881.4,371.12 881.6,371.12 881.8,371.12 882,371.12 882.2,371.09 882.4,371.07 882.6,371.04 882.8,371.22 883,372.02 883.2,372.82 883.4,373.62 883.6,374.42 883.8,375.22 884,376.02 884.2,376.82 884.4,377.62 884.6,378.42 884.8,379.23 885,380.03 885.2,380.83 885.4,381.63 885.6,382.43 885.8,383.23 886,384.03 886.2,384.82 886.4,384.9 886.6,384.67 886.8,384.44 887,384.21 887.2,383.98 887.4,383.75 887.6,383.52 887.8,383.29 888,383.06 888.2,382.83 888.4,382.6 888.6,382.37 888.8,382.15 889,381.93 889.2,381.72 889.4,381.51 889.6,381.29 889.8,381.08 890,380.86 890.2,380.65 890.4,380.49 890.6,380.39 890.8,380.28 891,380.18 891.2,380.08 891.4,380.06 891.6,380.81 891.8,381.56 892,382.31 892.2,383.05 892.4,383.8 892.6,384.55 892.8,385.24 893,385.91 893.2,386.58 893.4,387.25 893.6,387.92 893.8,388.59 894,389.16 894.2,389.59 894.4,390.02 894.6,390.45 894.8,390.89 895,391.32 895.2,391.47 895.4,391.63 895.6,391.78 895.8,391.94 896,392.09 896.2,392.25 896.4,392.4 896.6,392.56 896.8,392.71 897,392.87 897.2,393.02 897.4,393.27 897.6,393.61 897.8,393.95 898,394.29 898.2,394.63 898.4,394.97 898.6,395.31 898.8,395.65 899,396.24 899.2,397.13 899.4,398.02 899.6,399.25 899.8,400.83 900,402.4 900.2,403.98 900.4,404.77 900.6,405.22 900.8,405.66 901,406.1 901.2,406.54 901.4,406.98 901.6,407.42 901.8,407.6 902,407.51 902.2,407.42 902.4,407.34 902.6,407.46 902.8,407.81 903,408.17 903.2,408.52 903.4,408.88 903.6,409.23 903.8,409.58 904,409.94 904.2,410.29 904.4,410.65 904.6,410.69 904.8,410.46 905,410.23 905.2,410.01 905.4,409.78 905.6,409.55 905.8,409.33 906,409.1 906.2,408.88 906.4,408.65 906.6,408.42 906.8,408.2 907,407.97 907.2,407.87 907.4,407.76 907.6,408.03 907.8,409.12 908,410.2 908.2,411.29 908.4,412.38 908.6,413.46 908.8,414.55 909,415.64 909.2,416.73 909.4,417.81 909.6,418.44 909.8,419.06 910,419.69 910.2,420.2 910.4,420.7 910.6,421.21 910.8,421.71 911,422.22 911.2,422.73 911.4,423.23 911.6,423.67 911.8,424.11 912,424.55 912.2,424.99 912.4,425.43 912.6,425.86 912.8,426.3 913,426.74 913.2,427.18 913.4,427.62 913.6,428.06 913.8,428.5 914,428.94 914.2,429.38 914.4,429.54 914.6,429.43 914.8,429.35 915,429.27 915.2,429.19 915.4,429.11 915.6,429.04 915.8,428.96 916,428.88 916.2,428.8 916.4,428.72 916.6,428.65 916.8,428.57 917,428.91 917.2,429.38 917.4,429.84 917.6,430.3 917.8,430.76 918,431.22 918.2,431.69 918.4,432.15 918.6,432.44 918.8,432.38 919,432.32 919.2,432.22 919.4,432.12 919.6,432.02 919.8,431.92 920,431.82 920.2,431.73 920.4,431.63 920.6,431.53 920.8,431.43 921,431.33 921.2,431.23 921.4,431.13 921.6,431.11 921.8,431.1 922,431.08 922.2,431.06 922.4,431.05 922.6,431.03 922.8,431.01 923,431 923.2,430.98 923.4,430.97 923.6,430.95 923.8,430.93 924,430.92 924.2,430.9 924.4,430.96 924.6,431.01 924.8,431.06 925,431.12 925.2,431.8 925.4,432.68 925.6,433.56 925.8,434.44 926,435.32 926.2,436.2 926.4,437.08 926.6,437.96 926.8,438.84 927,439.72 927.2,440.6 927.4,441.49 927.6,442.37 927.8,443.25 928,444.13 928.2,444.88 928.4,445.62 928.6,446.16 928.8,445.9 929,445.63 929.2,445.36 929.4,445.09 929.6,444.83 929.8,444.56 930,444.29 930.2,444.02 930.4,443.76 930.6,443.49 930.8,443.22 931,442.96 931.2,442.7 931.4,442.45 931.6,442.2 931.8,441.94 932,441.69 932.2,441.44 932.4,441.19 932.6,440.96 932.8,440.75 933,440.54 933.2,440.33 933.4,440.12 933.6,439.92 933.8,440.23 934,440.87 934.2,441.52 934.4,442.16 934.6,442.81 934.8,443.45 935,444.07 935.2,444.64 935.4,445.2 935.5,445.3 935.6,438.5 935.72,438.5 935.83,438.5 935.95,445.5 936.06,445.5 936.18,438.5 936.29,438.5 936.41,438.43 936.53,438.35 936.64,438.27 936.76,446.71 936.87,447.02 936.99,438.04 937.11,437.96 937.22,437.89 937.34,437.81 937.45,437.73 937.57,448.86 937.68,449.16 937.8,438.34 937.92,438.58 938.03,438.83 938.15,439.07 938.26,439.32 938.38,450.95 938.5,451.24 938.61,440.05 938.73,440.3 938.84,440.55 938.96,440.79 939.07,441.04 939.19,452.97 939.31,453.26 939.42,441.77 939.54,442.02 939.65,442.26 939.77,442.51 939.88,442.76 940,455 940.12,455.35 940.23,443.58 940.35,443.87 940.46,444.16 940.58,444.45 940.7,444.74 940.81,457.43 940.93,457.78 941.04,445.61 941.16,445.9 941.27,446.19 941.39,446.48 941.51,446.76 941.62,459.86 941.74,460.21 941.85,447.63 941.97,447.92 942.08,448.21 942.2,448.5 942.32,448.79 942.43,462.49 942.55,462.89 942.66,449.66 942.78,449.95 942.9,450.24 943.01,450.53 943.13,450.82 943.24,465.28 943.36,465.68 943.47,451.69 943.59,451.98 943.71,452.27 943.82,452.55 943.94,452.84 944.05,467.2 944.17,467.2 944.29,453.5" fill="none" stroke="#0072b2" stroke-width="2.5" stroke-linejoin="round" stroke-linecap="butt"/>
<path d="M937.9,415.9h0M938,415h0M938.3,414h0M938.7,413.2h0M939.2,412.3h0M939.7,411.6h0M940,411h0" fill="none" stroke="#f00" stroke-width="6.8" stroke-linecap="round"/>
</g>
<g stroke="#000" stroke-width="1.11"><line x1="178.5" y1="542.5" x2="178.5" y2="547.8"/><line x1="347.5" y1="542.5" x2="347.5" y2="547.8"/><line x1="516.5" y1="542.5" x2="516.5" y2="547.8"/><line x1="686.5" y1="542.5" x2="686.5" y2="547.8"/><line x1="855.5" y1="542.5" x2="855.5" y2="547.8"/><line x1="74.64" y1="21.5" x2="79.5" y2="21.5"/><line x1="74.64" y1="82.5" x2="79.5" y2="82.5"/><line x1="74.64" y1="144.5" x2="79.5" y2="144.5"/><line x1="74.64" y1="206.5" x2="79.5" y2="206.5"/><line x1="74.64" y1="267.5" x2="79.5" y2="267.5"/><line x1="74.64" y1="329.5" x2="79.5" y2="329.5"/><line x1="74.64" y1="390.5" x2="79.5" y2="390.5"/><line x1="74.64" y1="452.5" x2="79.5" y2="452.5"/><line x1="74.64" y1="514.5" x2="79.5" y2="514.5"/></g>
<rect x="79.5" y="18.5" width="906.0" height="524.0" fill="none" stroke="#000" stroke-width="1.11"/>
<g><text x="161.11" y="562" style="letter-spacing:-0.13px">2008</text><text x="330.11" y="562" style="letter-spacing:-0.06px">2012</text><text x="499.11" y="562" style="letter-spacing:-0.15px">2016</text><text x="668.11" y="562" style="letter-spacing:-0.14px">2020</text><text x="837.11" y="562" style="letter-spacing:-0.18px">2024</text><text x="35.11" y="26" style="letter-spacing:-0.14px">2000</text><text x="34.85" y="88" style="letter-spacing:-0.42px">1750</text><text x="35.10" y="150" style="letter-spacing:-0.47px">1500</text><text x="35.10" y="211" style="letter-spacing:-0.47px">1250</text><text x="35.10" y="273" style="letter-spacing:-0.47px">1000</text><text x="44.24" y="334" style="letter-spacing:-0.85px">750</text><text x="43.05" y="396" style="letter-spacing:-0.76px">500</text><text x="42.96" y="458" style="letter-spacing:-0.26px">250</text><text x="61.96" y="519" style="letter-spacing:0.00px">0</text><text x="525.11" y="582" style="letter-spacing:-1.36px">ds</text><text transform="translate(24.7,280.8) rotate(-90)" text-anchor="middle">y</text></g>
</svg>
</body></html>
